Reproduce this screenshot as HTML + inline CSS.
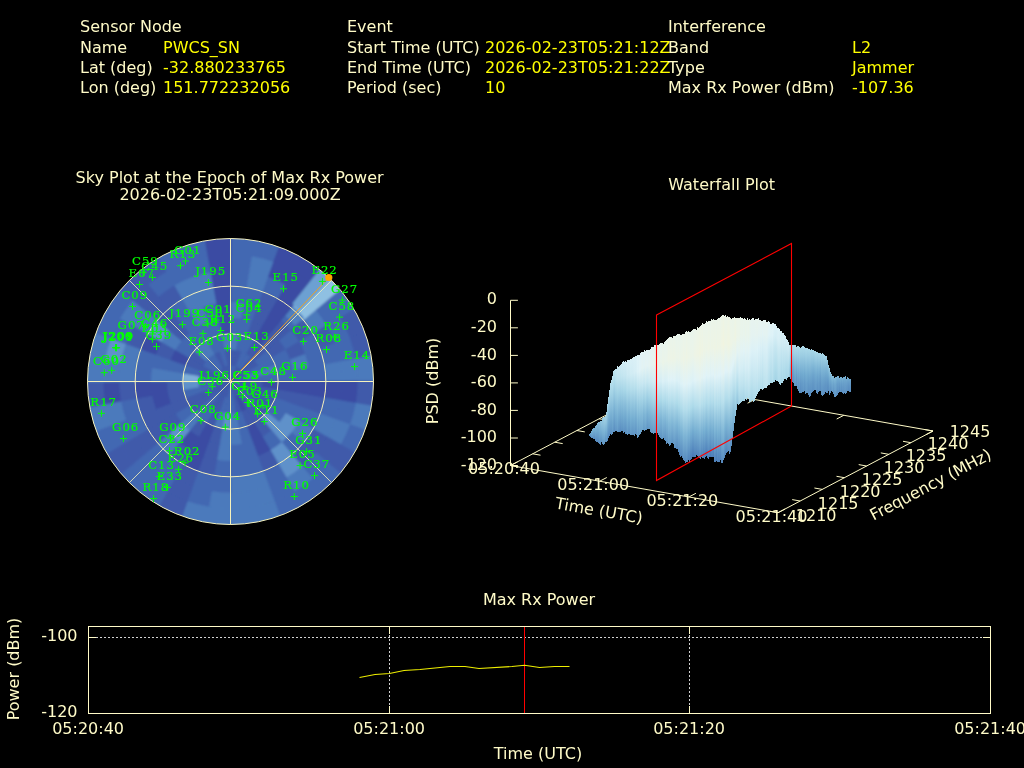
<!DOCTYPE html>
<html lang="en"><head><meta charset="utf-8"><title>Interference Event Report</title>
<style>
html,body{margin:0;padding:0;background:#000;width:1024px;height:768px;overflow:hidden}
svg{display:block;font-family:'DejaVu Sans','Liberation Sans',sans-serif}
</style></head><body>
<svg width="1024" height="768" viewBox="0 0 1024 768">
<rect width="1024" height="768" fill="#000"/>
<text x="80" y="32" fill="#fffbc8" font-size="16" text-anchor="start" >Sensor Node</text>
<text x="80" y="52.6" fill="#fffbc8" font-size="16" text-anchor="start" >Name</text>
<text x="163" y="52.6" fill="#ffff00" font-size="16" text-anchor="start" >PWCS_SN</text>
<text x="80" y="72.8" fill="#fffbc8" font-size="16" text-anchor="start" >Lat (deg)</text>
<text x="163" y="72.8" fill="#ffff00" font-size="16" text-anchor="start" >-32.880233765</text>
<text x="80" y="93" fill="#fffbc8" font-size="16" text-anchor="start" >Lon (deg)</text>
<text x="163" y="93" fill="#ffff00" font-size="16" text-anchor="start" >151.772232056</text>
<text x="347" y="32" fill="#fffbc8" font-size="16" text-anchor="start" >Event</text>
<text x="347" y="52.6" fill="#fffbc8" font-size="16" text-anchor="start" >Start Time (UTC)</text>
<text x="485" y="52.6" fill="#ffff00" font-size="16" text-anchor="start" >2026-02-23T05:21:12Z</text>
<text x="347" y="72.8" fill="#fffbc8" font-size="16" text-anchor="start" >End Time (UTC)</text>
<text x="485" y="72.8" fill="#ffff00" font-size="16" text-anchor="start" >2026-02-23T05:21:22Z</text>
<text x="347" y="93" fill="#fffbc8" font-size="16" text-anchor="start" >Period (sec)</text>
<text x="485" y="93" fill="#ffff00" font-size="16" text-anchor="start" >10</text>
<text x="668" y="32" fill="#fffbc8" font-size="16" text-anchor="start" >Interference</text>
<text x="668" y="52.6" fill="#fffbc8" font-size="16" text-anchor="start" >Band</text>
<text x="852" y="52.6" fill="#ffff00" font-size="16" text-anchor="start" >L2</text>
<text x="668" y="72.8" fill="#fffbc8" font-size="16" text-anchor="start" >Type</text>
<text x="852" y="72.8" fill="#ffff00" font-size="16" text-anchor="start" >Jammer</text>
<text x="668" y="93" fill="#fffbc8" font-size="16" text-anchor="start" >Max Rx Power (dBm)</text>
<text x="852" y="93" fill="#ffff00" font-size="16" text-anchor="start" >-107.36</text>
<defs><clipPath id="skyclip"><circle cx="230.5" cy="381.5" r="143.0"/></clipPath><filter id="b1" x="-5%" y="-5%" width="110%" height="110%"><feGaussianBlur stdDeviation="0.9"/></filter></defs>
<g clip-path="url(#skyclip)"><rect x="85.5" y="236.5" width="290.0" height="290.0" fill="rgb(63,90,170)"/><g filter="url(#b1)">
<path d="M230.5,381.5L230.4,365.0A16.5,16.5 0 0 1 233.4,365.3L230.5,381.5A0.0,0.0 0 0 0 230.5,381.5Z" fill="rgb(67, 104, 178)"/>
<path d="M230.4,365.6L230.3,349.1A32.4,32.4 0 0 1 236.3,349.6L233.3,365.9A15.9,15.9 0 0 0 230.4,365.6Z" fill="rgb(63, 90, 170)"/>
<path d="M230.3,349.7L230.2,333.2A48.3,48.3 0 0 1 239.1,334.0L236.2,350.2A31.8,31.8 0 0 0 230.3,349.7Z" fill="rgb(75, 122, 188)"/>
<path d="M230.3,333.8L230.2,317.3A64.2,64.2 0 0 1 242.0,318.4L239.0,334.6A47.7,47.7 0 0 0 230.3,333.8Z" fill="rgb(67, 104, 178)"/>
<path d="M230.2,317.9L230.1,301.5A80.0,80.0 0 0 1 244.8,302.7L241.9,319.0A63.6,63.6 0 0 0 230.2,317.9Z" fill="rgb(75, 122, 188)"/>
<path d="M230.1,302.1L230.0,285.6A95.9,95.9 0 0 1 247.7,287.1L244.7,303.3A79.4,79.4 0 0 0 230.1,302.1Z" fill="rgb(67, 104, 178)"/>
<path d="M230.0,286.2L229.9,269.7A111.8,111.8 0 0 1 250.5,271.5L247.5,287.7A95.3,95.3 0 0 0 230.0,286.2Z" fill="rgb(67, 104, 178)"/>
<path d="M229.9,270.3L229.8,253.8A127.7,127.7 0 0 1 253.3,255.8L250.4,272.1A111.2,111.2 0 0 0 229.9,270.3Z" fill="rgb(67, 104, 178)"/>
<path d="M229.8,254.4L229.7,234.5A147.0,147.0 0 0 1 256.8,236.9L253.2,256.4A127.1,127.1 0 0 0 229.8,254.4Z" fill="rgb(67, 104, 178)"/>
<path d="M230.5,381.5L233.3,365.2A16.5,16.5 0 0 1 236.2,366.0L230.5,381.5A0.0,0.0 0 0 0 230.5,381.5Z" fill="rgb(67, 104, 178)"/>
<path d="M233.2,365.8L236.0,349.6A32.4,32.4 0 0 1 241.7,351.1L236.0,366.6A15.9,15.9 0 0 0 233.2,365.8Z" fill="rgb(63, 90, 170)"/>
<path d="M235.9,350.2L238.6,333.9A48.3,48.3 0 0 1 247.2,336.2L241.5,351.7A31.8,31.8 0 0 0 235.9,350.2Z" fill="rgb(67, 104, 178)"/>
<path d="M238.5,334.5L241.3,318.3A64.2,64.2 0 0 1 252.8,321.3L247.0,336.8A47.7,47.7 0 0 0 238.5,334.5Z" fill="rgb(67, 104, 178)"/>
<path d="M241.2,318.9L244.0,302.6A80.0,80.0 0 0 1 258.3,306.4L252.5,321.9A63.6,63.6 0 0 0 241.2,318.9Z" fill="rgb(67, 104, 178)"/>
<path d="M243.9,303.2L246.7,286.9A95.9,95.9 0 0 1 263.8,291.5L258.1,307.0A79.4,79.4 0 0 0 243.9,303.2Z" fill="rgb(67, 104, 178)"/>
<path d="M246.6,287.5L249.3,271.3A111.8,111.8 0 0 1 269.3,276.6L263.6,292.1A95.3,95.3 0 0 0 246.6,287.5Z" fill="rgb(75, 122, 188)"/>
<path d="M249.2,271.9L252.0,255.6A127.7,127.7 0 0 1 274.8,261.7L269.1,277.2A111.2,111.2 0 0 0 249.2,271.9Z" fill="rgb(75, 122, 188)"/>
<path d="M251.9,256.2L255.3,236.6A147.0,147.0 0 0 1 281.5,243.6L274.6,262.3A127.1,127.1 0 0 0 251.9,256.2Z" fill="rgb(67, 104, 178)"/>
<path d="M230.5,381.5L236.1,366.0A16.5,16.5 0 0 1 238.8,367.3L230.5,381.5A0.0,0.0 0 0 0 230.5,381.5Z" fill="rgb(63, 90, 170)"/>
<path d="M235.9,366.5L241.4,351.0A32.4,32.4 0 0 1 246.8,353.5L238.5,367.8A15.9,15.9 0 0 0 235.9,366.5Z" fill="rgb(67, 104, 178)"/>
<path d="M241.2,351.6L246.8,336.1A48.3,48.3 0 0 1 254.9,339.8L246.5,354.1A31.8,31.8 0 0 0 241.2,351.6Z" fill="rgb(67, 104, 178)"/>
<path d="M246.6,336.6L252.1,321.1A64.2,64.2 0 0 1 262.9,326.1L254.5,340.3A47.7,47.7 0 0 0 246.6,336.6Z" fill="rgb(63, 90, 170)"/>
<path d="M251.9,321.7L257.5,306.1A80.0,80.0 0 0 1 270.9,312.4L262.6,326.6A63.6,63.6 0 0 0 251.9,321.7Z" fill="rgb(63, 90, 170)"/>
<path d="M257.3,306.7L262.8,291.2A95.9,95.9 0 0 1 278.9,298.7L270.6,312.9A79.4,79.4 0 0 0 257.3,306.7Z" fill="rgb(63, 90, 170)"/>
<path d="M262.6,291.7L268.2,276.2A111.8,111.8 0 0 1 286.9,285.0L278.6,299.2A95.3,95.3 0 0 0 262.6,291.7Z" fill="rgb(67, 104, 178)"/>
<path d="M268.0,276.8L273.6,261.3A127.7,127.7 0 0 1 294.9,271.2L286.6,285.5A111.2,111.2 0 0 0 268.0,276.8Z" fill="rgb(59, 76, 163)"/>
<path d="M273.3,261.8L280.1,243.1A147.0,147.0 0 0 1 304.7,254.6L294.6,271.8A127.1,127.1 0 0 0 273.3,261.8Z" fill="rgb(59, 76, 163)"/>
<path d="M230.5,381.5L238.7,367.2A16.5,16.5 0 0 1 241.2,368.9L230.5,381.5A0.0,0.0 0 0 0 230.5,381.5Z" fill="rgb(63, 90, 170)"/>
<path d="M238.4,367.7L246.5,353.4A32.4,32.4 0 0 1 251.4,356.8L240.8,369.4A15.9,15.9 0 0 0 238.4,367.7Z" fill="rgb(67, 104, 178)"/>
<path d="M246.2,353.9L254.4,339.6A48.3,48.3 0 0 1 261.7,344.7L251.1,357.3A31.8,31.8 0 0 0 246.2,353.9Z" fill="rgb(63, 90, 170)"/>
<path d="M254.1,340.1L262.3,325.8A64.2,64.2 0 0 1 272.0,332.6L261.3,345.1A47.7,47.7 0 0 0 254.1,340.1Z" fill="rgb(59, 76, 163)"/>
<path d="M262.0,326.3L270.2,312.0A80.0,80.0 0 0 1 282.3,320.5L271.6,333.0A63.6,63.6 0 0 0 262.0,326.3Z" fill="rgb(59, 76, 163)"/>
<path d="M269.9,312.5L278.0,298.2A95.9,95.9 0 0 1 292.5,308.3L281.9,320.9A79.4,79.4 0 0 0 269.9,312.5Z" fill="rgb(59, 76, 163)"/>
<path d="M277.7,298.7L285.9,284.4A111.8,111.8 0 0 1 302.8,296.2L292.2,308.8A95.3,95.3 0 0 0 277.7,298.7Z" fill="rgb(59, 76, 163)"/>
<path d="M285.6,284.9L293.8,270.6A127.7,127.7 0 0 1 313.1,284.1L302.4,296.7A111.2,111.2 0 0 0 285.6,284.9Z" fill="rgb(59, 76, 163)"/>
<path d="M293.5,271.1L303.3,253.8A147.0,147.0 0 0 1 325.6,269.4L312.7,284.6A127.1,127.1 0 0 0 293.5,271.1Z" fill="rgb(59, 76, 163)"/>
<path d="M230.5,381.5L241.0,368.8A16.5,16.5 0 0 1 243.2,371.0L230.5,381.5A0.0,0.0 0 0 0 230.5,381.5Z" fill="rgb(63, 90, 170)"/>
<path d="M240.6,369.3L251.2,356.6A32.4,32.4 0 0 1 255.4,360.8L242.7,371.4A15.9,15.9 0 0 0 240.6,369.3Z" fill="rgb(63, 90, 170)"/>
<path d="M250.8,357.1L261.3,344.4A48.3,48.3 0 0 1 267.6,350.7L254.9,361.2A31.8,31.8 0 0 0 250.8,357.1Z" fill="rgb(63, 90, 170)"/>
<path d="M260.9,344.8L271.5,332.1A64.2,64.2 0 0 1 279.9,340.5L267.2,351.1A47.7,47.7 0 0 0 260.9,344.8Z" fill="rgb(63, 90, 170)"/>
<path d="M271.1,332.6L281.6,319.9A80.0,80.0 0 0 1 292.1,330.4L279.4,340.9A63.6,63.6 0 0 0 271.1,332.6Z" fill="rgb(63, 90, 170)"/>
<path d="M281.2,320.4L291.8,307.7A95.9,95.9 0 0 1 304.3,320.2L291.6,330.8A79.4,79.4 0 0 0 281.2,320.4Z" fill="rgb(67, 104, 178)"/>
<path d="M291.4,308.2L301.9,295.5A111.8,111.8 0 0 1 316.5,310.1L303.8,320.6A95.3,95.3 0 0 0 291.4,308.2Z" fill="rgb(125, 175, 216)"/>
<path d="M301.5,295.9L312.1,283.2A127.7,127.7 0 0 1 328.8,299.9L316.1,310.5A111.2,111.2 0 0 0 301.5,295.9Z" fill="rgb(125, 175, 216)"/>
<path d="M311.7,283.7L324.4,268.4A147.0,147.0 0 0 1 343.6,287.6L328.3,300.3A127.1,127.1 0 0 0 311.7,283.7Z" fill="rgb(125, 175, 216)"/>
<path d="M230.5,381.5L243.1,370.8A16.5,16.5 0 0 1 244.8,373.3L230.5,381.5A0.0,0.0 0 0 0 230.5,381.5Z" fill="rgb(63, 90, 170)"/>
<path d="M242.6,371.2L255.2,360.6A32.4,32.4 0 0 1 258.6,365.5L244.3,373.6A15.9,15.9 0 0 0 242.6,371.2Z" fill="rgb(63, 90, 170)"/>
<path d="M254.7,360.9L267.3,350.3A48.3,48.3 0 0 1 272.4,357.6L258.1,365.8A31.8,31.8 0 0 0 254.7,360.9Z" fill="rgb(67, 104, 178)"/>
<path d="M266.9,350.7L279.4,340.0A64.2,64.2 0 0 1 286.2,349.7L271.9,357.9A47.7,47.7 0 0 0 266.9,350.7Z" fill="rgb(63, 90, 170)"/>
<path d="M279.0,340.4L291.5,329.7A80.0,80.0 0 0 1 300.0,341.8L285.7,350.0A63.6,63.6 0 0 0 279.0,340.4Z" fill="rgb(67, 104, 178)"/>
<path d="M291.1,330.1L303.7,319.5A95.9,95.9 0 0 1 313.8,334.0L299.5,342.1A79.4,79.4 0 0 0 291.1,330.1Z" fill="rgb(63, 90, 170)"/>
<path d="M303.2,319.8L315.8,309.2A111.8,111.8 0 0 1 327.6,326.1L313.3,334.3A95.3,95.3 0 0 0 303.2,319.8Z" fill="rgb(75, 122, 188)"/>
<path d="M315.3,309.6L327.9,298.9A127.7,127.7 0 0 1 341.4,318.2L327.1,326.4A111.2,111.2 0 0 0 315.3,309.6Z" fill="rgb(67, 104, 178)"/>
<path d="M327.4,299.3L342.6,286.4A147.0,147.0 0 0 1 358.2,308.7L340.9,318.5A127.1,127.1 0 0 0 327.4,299.3Z" fill="rgb(67, 104, 178)"/>
<path d="M230.5,381.5L244.7,373.2A16.5,16.5 0 0 1 246.0,375.9L230.5,381.5A0.0,0.0 0 0 0 230.5,381.5Z" fill="rgb(63, 90, 170)"/>
<path d="M244.2,373.5L258.5,365.2A32.4,32.4 0 0 1 261.0,370.6L245.5,376.1A15.9,15.9 0 0 0 244.2,373.5Z" fill="rgb(67, 104, 178)"/>
<path d="M257.9,365.5L272.2,357.1A48.3,48.3 0 0 1 275.9,365.2L260.4,370.8A31.8,31.8 0 0 0 257.9,365.5Z" fill="rgb(67, 104, 178)"/>
<path d="M271.7,357.5L285.9,349.1A64.2,64.2 0 0 1 290.9,359.9L275.4,365.4A47.7,47.7 0 0 0 271.7,357.5Z" fill="rgb(67, 104, 178)"/>
<path d="M285.4,349.4L299.6,341.1A80.0,80.0 0 0 1 305.9,354.5L290.3,360.1A63.6,63.6 0 0 0 285.4,349.4Z" fill="rgb(63, 90, 170)"/>
<path d="M299.1,341.4L313.3,333.1A95.9,95.9 0 0 1 320.8,349.2L305.3,354.7A79.4,79.4 0 0 0 299.1,341.4Z" fill="rgb(67, 104, 178)"/>
<path d="M312.8,333.4L327.0,325.1A111.8,111.8 0 0 1 335.8,343.8L320.3,349.4A95.3,95.3 0 0 0 312.8,333.4Z" fill="rgb(63, 90, 170)"/>
<path d="M326.5,325.4L340.8,317.1A127.7,127.7 0 0 1 350.7,338.4L335.2,344.0A111.2,111.2 0 0 0 326.5,325.4Z" fill="rgb(67, 104, 178)"/>
<path d="M340.2,317.4L357.4,307.3A147.0,147.0 0 0 1 368.9,331.9L350.2,338.7A127.1,127.1 0 0 0 340.2,317.4Z" fill="rgb(63, 90, 170)"/>
<path d="M230.5,381.5L246.0,375.8A16.5,16.5 0 0 1 246.8,378.7L230.5,381.5A0.0,0.0 0 0 0 230.5,381.5Z" fill="rgb(63, 90, 170)"/>
<path d="M245.4,376.0L260.9,370.3A32.4,32.4 0 0 1 262.4,376.0L246.2,378.8A15.9,15.9 0 0 0 245.4,376.0Z" fill="rgb(75, 122, 188)"/>
<path d="M260.3,370.5L275.8,364.8A48.3,48.3 0 0 1 278.1,373.4L261.8,376.1A31.8,31.8 0 0 0 260.3,370.5Z" fill="rgb(75, 122, 188)"/>
<path d="M275.2,365.0L290.7,359.2A64.2,64.2 0 0 1 293.7,370.7L277.5,373.5A47.7,47.7 0 0 0 275.2,365.0Z" fill="rgb(67, 104, 178)"/>
<path d="M290.1,359.5L305.6,353.7A80.0,80.0 0 0 1 309.4,368.0L293.1,370.8A63.6,63.6 0 0 0 290.1,359.5Z" fill="rgb(75, 122, 188)"/>
<path d="M305.0,353.9L320.5,348.2A95.9,95.9 0 0 1 325.1,365.3L308.8,368.1A79.4,79.4 0 0 0 305.0,353.9Z" fill="rgb(67, 104, 178)"/>
<path d="M319.9,348.4L335.4,342.7A111.8,111.8 0 0 1 340.7,362.7L324.5,365.4A95.3,95.3 0 0 0 319.9,348.4Z" fill="rgb(67, 104, 178)"/>
<path d="M334.8,342.9L350.3,337.2A127.7,127.7 0 0 1 356.4,360.0L340.1,362.8A111.2,111.2 0 0 0 334.8,342.9Z" fill="rgb(67, 104, 178)"/>
<path d="M349.7,337.4L368.4,330.5A147.0,147.0 0 0 1 375.4,356.7L355.8,360.1A127.1,127.1 0 0 0 349.7,337.4Z" fill="rgb(63, 90, 170)"/>
<path d="M230.5,381.5L246.7,378.6A16.5,16.5 0 0 1 247.0,381.6L230.5,381.5A0.0,0.0 0 0 0 230.5,381.5Z" fill="rgb(63, 90, 170)"/>
<path d="M246.1,378.7L262.4,375.7A32.4,32.4 0 0 1 262.9,381.7L246.4,381.6A15.9,15.9 0 0 0 246.1,378.7Z" fill="rgb(67, 104, 178)"/>
<path d="M261.8,375.8L278.0,372.9A48.3,48.3 0 0 1 278.8,381.8L262.3,381.7A31.8,31.8 0 0 0 261.8,375.8Z" fill="rgb(67, 104, 178)"/>
<path d="M277.4,373.0L293.6,370.0A64.2,64.2 0 0 1 294.7,381.8L278.2,381.7A47.7,47.7 0 0 0 277.4,373.0Z" fill="rgb(67, 104, 178)"/>
<path d="M293.0,370.1L309.3,367.2A80.0,80.0 0 0 1 310.5,381.9L294.1,381.8A63.6,63.6 0 0 0 293.0,370.1Z" fill="rgb(67, 104, 178)"/>
<path d="M308.7,367.3L324.9,364.3A95.9,95.9 0 0 1 326.4,382.0L309.9,381.9A79.4,79.4 0 0 0 308.7,367.3Z" fill="rgb(67, 104, 178)"/>
<path d="M324.3,364.5L340.5,361.5A111.8,111.8 0 0 1 342.3,382.1L325.8,382.0A95.3,95.3 0 0 0 324.3,364.5Z" fill="rgb(75, 122, 188)"/>
<path d="M339.9,361.6L356.2,358.7A127.7,127.7 0 0 1 358.2,382.2L341.7,382.1A111.2,111.2 0 0 0 339.9,361.6Z" fill="rgb(75, 122, 188)"/>
<path d="M355.6,358.8L375.1,355.2A147.0,147.0 0 0 1 377.5,382.3L357.6,382.2A127.1,127.1 0 0 0 355.6,358.8Z" fill="rgb(75, 122, 188)"/>
<path d="M230.5,381.5L247.0,381.4A16.5,16.5 0 0 1 246.7,384.4L230.5,381.5A0.0,0.0 0 0 0 230.5,381.5Z" fill="rgb(63, 90, 170)"/>
<path d="M246.4,381.4L262.9,381.3A32.4,32.4 0 0 1 262.4,387.3L246.1,384.3A15.9,15.9 0 0 0 246.4,381.4Z" fill="rgb(63, 90, 170)"/>
<path d="M262.3,381.3L278.8,381.2A48.3,48.3 0 0 1 278.0,390.1L261.8,387.2A31.8,31.8 0 0 0 262.3,381.3Z" fill="rgb(59, 76, 163)"/>
<path d="M278.2,381.3L294.7,381.2A64.2,64.2 0 0 1 293.6,393.0L277.4,390.0A47.7,47.7 0 0 0 278.2,381.3Z" fill="rgb(59, 76, 163)"/>
<path d="M294.1,381.2L310.5,381.1A80.0,80.0 0 0 1 309.3,395.8L293.0,392.9A63.6,63.6 0 0 0 294.1,381.2Z" fill="rgb(59, 76, 163)"/>
<path d="M309.9,381.1L326.4,381.0A95.9,95.9 0 0 1 324.9,398.7L308.7,395.7A79.4,79.4 0 0 0 309.9,381.1Z" fill="rgb(59, 76, 163)"/>
<path d="M325.8,381.0L342.3,380.9A111.8,111.8 0 0 1 340.5,401.5L324.3,398.5A95.3,95.3 0 0 0 325.8,381.0Z" fill="rgb(59, 76, 163)"/>
<path d="M341.7,380.9L358.2,380.8A127.7,127.7 0 0 1 356.2,404.3L339.9,401.4A111.2,111.2 0 0 0 341.7,380.9Z" fill="rgb(59, 76, 163)"/>
<path d="M357.6,380.8L377.5,380.7A147.0,147.0 0 0 1 375.1,407.8L355.6,404.2A127.1,127.1 0 0 0 357.6,380.8Z" fill="rgb(63, 90, 170)"/>
<path d="M230.5,381.5L246.8,384.3A16.5,16.5 0 0 1 246.0,387.2L230.5,381.5A0.0,0.0 0 0 0 230.5,381.5Z" fill="rgb(63, 90, 170)"/>
<path d="M246.2,384.2L262.4,387.0A32.4,32.4 0 0 1 260.9,392.7L245.4,387.0A15.9,15.9 0 0 0 246.2,384.2Z" fill="rgb(63, 90, 170)"/>
<path d="M261.8,386.9L278.1,389.6A48.3,48.3 0 0 1 275.8,398.2L260.3,392.5A31.8,31.8 0 0 0 261.8,386.9Z" fill="rgb(63, 90, 170)"/>
<path d="M277.5,389.5L293.7,392.3A64.2,64.2 0 0 1 290.7,403.8L275.2,398.0A47.7,47.7 0 0 0 277.5,389.5Z" fill="rgb(63, 90, 170)"/>
<path d="M293.1,392.2L309.4,395.0A80.0,80.0 0 0 1 305.6,409.3L290.1,403.5A63.6,63.6 0 0 0 293.1,392.2Z" fill="rgb(63, 90, 170)"/>
<path d="M308.8,394.9L325.1,397.7A95.9,95.9 0 0 1 320.5,414.8L305.0,409.1A79.4,79.4 0 0 0 308.8,394.9Z" fill="rgb(63, 90, 170)"/>
<path d="M324.5,397.6L340.7,400.3A111.8,111.8 0 0 1 335.4,420.3L319.9,414.6A95.3,95.3 0 0 0 324.5,397.6Z" fill="rgb(67, 104, 178)"/>
<path d="M340.1,400.2L356.4,403.0A127.7,127.7 0 0 1 350.3,425.8L334.8,420.1A111.2,111.2 0 0 0 340.1,400.2Z" fill="rgb(67, 104, 178)"/>
<path d="M355.8,402.9L375.4,406.3A147.0,147.0 0 0 1 368.4,432.5L349.7,425.6A127.1,127.1 0 0 0 355.8,402.9Z" fill="rgb(75, 122, 188)"/>
<path d="M230.5,381.5L246.0,387.1A16.5,16.5 0 0 1 244.7,389.8L230.5,381.5A0.0,0.0 0 0 0 230.5,381.5Z" fill="rgb(67, 104, 178)"/>
<path d="M245.5,386.9L261.0,392.4A32.4,32.4 0 0 1 258.5,397.8L244.2,389.5A15.9,15.9 0 0 0 245.5,386.9Z" fill="rgb(63, 90, 170)"/>
<path d="M260.4,392.2L275.9,397.8A48.3,48.3 0 0 1 272.2,405.9L257.9,397.5A31.8,31.8 0 0 0 260.4,392.2Z" fill="rgb(63, 90, 170)"/>
<path d="M275.4,397.6L290.9,403.1A64.2,64.2 0 0 1 285.9,413.9L271.7,405.5A47.7,47.7 0 0 0 275.4,397.6Z" fill="rgb(67, 104, 178)"/>
<path d="M290.3,402.9L305.9,408.5A80.0,80.0 0 0 1 299.6,421.9L285.4,413.6A63.6,63.6 0 0 0 290.3,402.9Z" fill="rgb(67, 104, 178)"/>
<path d="M305.3,408.3L320.8,413.8A95.9,95.9 0 0 1 313.3,429.9L299.1,421.6A79.4,79.4 0 0 0 305.3,408.3Z" fill="rgb(67, 104, 178)"/>
<path d="M320.3,413.6L335.8,419.2A111.8,111.8 0 0 1 327.0,437.9L312.8,429.6A95.3,95.3 0 0 0 320.3,413.6Z" fill="rgb(75, 122, 188)"/>
<path d="M335.2,419.0L350.7,424.6A127.7,127.7 0 0 1 340.8,445.9L326.5,437.6A111.2,111.2 0 0 0 335.2,419.0Z" fill="rgb(75, 122, 188)"/>
<path d="M350.2,424.3L368.9,431.1A147.0,147.0 0 0 1 357.4,455.7L340.2,445.6A127.1,127.1 0 0 0 350.2,424.3Z" fill="rgb(67, 104, 178)"/>
<path d="M230.5,381.5L244.8,389.7A16.5,16.5 0 0 1 243.1,392.2L230.5,381.5A0.0,0.0 0 0 0 230.5,381.5Z" fill="rgb(63, 90, 170)"/>
<path d="M244.3,389.4L258.6,397.5A32.4,32.4 0 0 1 255.2,402.4L242.6,391.8A15.9,15.9 0 0 0 244.3,389.4Z" fill="rgb(63, 90, 170)"/>
<path d="M258.1,397.2L272.4,405.4A48.3,48.3 0 0 1 267.3,412.7L254.7,402.1A31.8,31.8 0 0 0 258.1,397.2Z" fill="rgb(63, 90, 170)"/>
<path d="M271.9,405.1L286.2,413.3A64.2,64.2 0 0 1 279.4,423.0L266.9,412.3A47.7,47.7 0 0 0 271.9,405.1Z" fill="rgb(67, 104, 178)"/>
<path d="M285.7,413.0L300.0,421.2A80.0,80.0 0 0 1 291.5,433.3L279.0,422.6A63.6,63.6 0 0 0 285.7,413.0Z" fill="rgb(95, 145, 202)"/>
<path d="M299.5,420.9L313.8,429.0A95.9,95.9 0 0 1 303.7,443.5L291.1,432.9A79.4,79.4 0 0 0 299.5,420.9Z" fill="rgb(75, 122, 188)"/>
<path d="M313.3,428.7L327.6,436.9A111.8,111.8 0 0 1 315.8,453.8L303.2,443.2A95.3,95.3 0 0 0 313.3,428.7Z" fill="rgb(63, 90, 170)"/>
<path d="M327.1,436.6L341.4,444.8A127.7,127.7 0 0 1 327.9,464.1L315.3,453.4A111.2,111.2 0 0 0 327.1,436.6Z" fill="rgb(63, 90, 170)"/>
<path d="M340.9,444.5L358.2,454.3A147.0,147.0 0 0 1 342.6,476.6L327.4,463.7A127.1,127.1 0 0 0 340.9,444.5Z" fill="rgb(63, 90, 170)"/>
<path d="M230.5,381.5L243.2,392.0A16.5,16.5 0 0 1 241.0,394.2L230.5,381.5A0.0,0.0 0 0 0 230.5,381.5Z" fill="rgb(63, 90, 170)"/>
<path d="M242.7,391.6L255.4,402.2A32.4,32.4 0 0 1 251.2,406.4L240.6,393.7A15.9,15.9 0 0 0 242.7,391.6Z" fill="rgb(67, 104, 178)"/>
<path d="M254.9,401.8L267.6,412.3A48.3,48.3 0 0 1 261.3,418.6L250.8,405.9A31.8,31.8 0 0 0 254.9,401.8Z" fill="rgb(63, 90, 170)"/>
<path d="M267.2,411.9L279.9,422.5A64.2,64.2 0 0 1 271.5,430.9L260.9,418.2A47.7,47.7 0 0 0 267.2,411.9Z" fill="rgb(95, 145, 202)"/>
<path d="M279.4,422.1L292.1,432.6A80.0,80.0 0 0 1 281.6,443.1L271.1,430.4A63.6,63.6 0 0 0 279.4,422.1Z" fill="rgb(95, 145, 202)"/>
<path d="M291.6,432.2L304.3,442.8A95.9,95.9 0 0 1 291.8,455.3L281.2,442.6A79.4,79.4 0 0 0 291.6,432.2Z" fill="rgb(67, 104, 178)"/>
<path d="M303.8,442.4L316.5,452.9A111.8,111.8 0 0 1 301.9,467.5L291.4,454.8A95.3,95.3 0 0 0 303.8,442.4Z" fill="rgb(63, 90, 170)"/>
<path d="M316.1,452.5L328.8,463.1A127.7,127.7 0 0 1 312.1,479.8L301.5,467.1A111.2,111.2 0 0 0 316.1,452.5Z" fill="rgb(67, 104, 178)"/>
<path d="M328.3,462.7L343.6,475.4A147.0,147.0 0 0 1 324.4,494.6L311.7,479.3A127.1,127.1 0 0 0 328.3,462.7Z" fill="rgb(67, 104, 178)"/>
<path d="M230.5,381.5L241.2,394.1A16.5,16.5 0 0 1 238.7,395.8L230.5,381.5A0.0,0.0 0 0 0 230.5,381.5Z" fill="rgb(63, 90, 170)"/>
<path d="M240.8,393.6L251.4,406.2A32.4,32.4 0 0 1 246.5,409.6L238.4,395.3A15.9,15.9 0 0 0 240.8,393.6Z" fill="rgb(63, 90, 170)"/>
<path d="M251.1,405.7L261.7,418.3A48.3,48.3 0 0 1 254.4,423.4L246.2,409.1A31.8,31.8 0 0 0 251.1,405.7Z" fill="rgb(63, 90, 170)"/>
<path d="M261.3,417.9L272.0,430.4A64.2,64.2 0 0 1 262.3,437.2L254.1,422.9A47.7,47.7 0 0 0 261.3,417.9Z" fill="rgb(63, 90, 170)"/>
<path d="M271.6,430.0L282.3,442.5A80.0,80.0 0 0 1 270.2,451.0L262.0,436.7A63.6,63.6 0 0 0 271.6,430.0Z" fill="rgb(67, 104, 178)"/>
<path d="M281.9,442.1L292.5,454.7A95.9,95.9 0 0 1 278.0,464.8L269.9,450.5A79.4,79.4 0 0 0 281.9,442.1Z" fill="rgb(95, 145, 202)"/>
<path d="M292.2,454.2L302.8,466.8A111.8,111.8 0 0 1 285.9,478.6L277.7,464.3A95.3,95.3 0 0 0 292.2,454.2Z" fill="rgb(95, 145, 202)"/>
<path d="M302.4,466.3L313.1,478.9A127.7,127.7 0 0 1 293.8,492.4L285.6,478.1A111.2,111.2 0 0 0 302.4,466.3Z" fill="rgb(75, 122, 188)"/>
<path d="M312.7,478.4L325.6,493.6A147.0,147.0 0 0 1 303.3,509.2L293.5,491.9A127.1,127.1 0 0 0 312.7,478.4Z" fill="rgb(67, 104, 178)"/>
<path d="M230.5,381.5L238.8,395.7A16.5,16.5 0 0 1 236.1,397.0L230.5,381.5A0.0,0.0 0 0 0 230.5,381.5Z" fill="rgb(63, 90, 170)"/>
<path d="M238.5,395.2L246.8,409.5A32.4,32.4 0 0 1 241.4,412.0L235.9,396.5A15.9,15.9 0 0 0 238.5,395.2Z" fill="rgb(59, 76, 163)"/>
<path d="M246.5,408.9L254.9,423.2A48.3,48.3 0 0 1 246.8,426.9L241.2,411.4A31.8,31.8 0 0 0 246.5,408.9Z" fill="rgb(63, 90, 170)"/>
<path d="M254.5,422.7L262.9,436.9A64.2,64.2 0 0 1 252.1,441.9L246.6,426.4A47.7,47.7 0 0 0 254.5,422.7Z" fill="rgb(59, 76, 163)"/>
<path d="M262.6,436.4L270.9,450.6A80.0,80.0 0 0 1 257.5,456.9L251.9,441.3A63.6,63.6 0 0 0 262.6,436.4Z" fill="rgb(59, 76, 163)"/>
<path d="M270.6,450.1L278.9,464.3A95.9,95.9 0 0 1 262.8,471.8L257.3,456.3A79.4,79.4 0 0 0 270.6,450.1Z" fill="rgb(63, 90, 170)"/>
<path d="M278.6,463.8L286.9,478.0A111.8,111.8 0 0 1 268.2,486.8L262.6,471.3A95.3,95.3 0 0 0 278.6,463.8Z" fill="rgb(67, 104, 178)"/>
<path d="M286.6,477.5L294.9,491.8A127.7,127.7 0 0 1 273.6,501.7L268.0,486.2A111.2,111.2 0 0 0 286.6,477.5Z" fill="rgb(67, 104, 178)"/>
<path d="M294.6,491.2L304.7,508.4A147.0,147.0 0 0 1 280.1,519.9L273.3,501.2A127.1,127.1 0 0 0 294.6,491.2Z" fill="rgb(67, 104, 178)"/>
<path d="M230.5,381.5L236.2,397.0A16.5,16.5 0 0 1 233.3,397.8L230.5,381.5A0.0,0.0 0 0 0 230.5,381.5Z" fill="rgb(63, 90, 170)"/>
<path d="M236.0,396.4L241.7,411.9A32.4,32.4 0 0 1 236.0,413.4L233.2,397.2A15.9,15.9 0 0 0 236.0,396.4Z" fill="rgb(63, 90, 170)"/>
<path d="M241.5,411.3L247.2,426.8A48.3,48.3 0 0 1 238.6,429.1L235.9,412.8A31.8,31.8 0 0 0 241.5,411.3Z" fill="rgb(67, 104, 178)"/>
<path d="M247.0,426.2L252.8,441.7A64.2,64.2 0 0 1 241.3,444.7L238.5,428.5A47.7,47.7 0 0 0 247.0,426.2Z" fill="rgb(67, 104, 178)"/>
<path d="M252.5,441.1L258.3,456.6A80.0,80.0 0 0 1 244.0,460.4L241.2,444.1A63.6,63.6 0 0 0 252.5,441.1Z" fill="rgb(67, 104, 178)"/>
<path d="M258.1,456.0L263.8,471.5A95.9,95.9 0 0 1 246.7,476.1L243.9,459.8A79.4,79.4 0 0 0 258.1,456.0Z" fill="rgb(67, 104, 178)"/>
<path d="M263.6,470.9L269.3,486.4A111.8,111.8 0 0 1 249.3,491.7L246.6,475.5A95.3,95.3 0 0 0 263.6,470.9Z" fill="rgb(75, 122, 188)"/>
<path d="M269.1,485.8L274.8,501.3A127.7,127.7 0 0 1 252.0,507.4L249.2,491.1A111.2,111.2 0 0 0 269.1,485.8Z" fill="rgb(75, 122, 188)"/>
<path d="M274.6,500.7L281.5,519.4A147.0,147.0 0 0 1 255.3,526.4L251.9,506.8A127.1,127.1 0 0 0 274.6,500.7Z" fill="rgb(75, 122, 188)"/>
<path d="M230.5,381.5L233.4,397.7A16.5,16.5 0 0 1 230.4,398.0L230.5,381.5A0.0,0.0 0 0 0 230.5,381.5Z" fill="rgb(67, 104, 178)"/>
<path d="M233.3,397.1L236.3,413.4A32.4,32.4 0 0 1 230.3,413.9L230.4,397.4A15.9,15.9 0 0 0 233.3,397.1Z" fill="rgb(67, 104, 178)"/>
<path d="M236.2,412.8L239.1,429.0A48.3,48.3 0 0 1 230.2,429.8L230.3,413.3A31.8,31.8 0 0 0 236.2,412.8Z" fill="rgb(75, 122, 188)"/>
<path d="M239.0,428.4L242.0,444.6A64.2,64.2 0 0 1 230.2,445.7L230.3,429.2A47.7,47.7 0 0 0 239.0,428.4Z" fill="rgb(75, 122, 188)"/>
<path d="M241.9,444.0L244.8,460.3A80.0,80.0 0 0 1 230.1,461.5L230.2,445.1A63.6,63.6 0 0 0 241.9,444.0Z" fill="rgb(67, 104, 178)"/>
<path d="M244.7,459.7L247.7,475.9A95.9,95.9 0 0 1 230.0,477.4L230.1,460.9A79.4,79.4 0 0 0 244.7,459.7Z" fill="rgb(67, 104, 178)"/>
<path d="M247.5,475.3L250.5,491.5A111.8,111.8 0 0 1 229.9,493.3L230.0,476.8A95.3,95.3 0 0 0 247.5,475.3Z" fill="rgb(75, 122, 188)"/>
<path d="M250.4,490.9L253.3,507.2A127.7,127.7 0 0 1 229.8,509.2L229.9,492.7A111.2,111.2 0 0 0 250.4,490.9Z" fill="rgb(75, 122, 188)"/>
<path d="M253.2,506.6L256.8,526.1A147.0,147.0 0 0 1 229.7,528.5L229.8,508.6A127.1,127.1 0 0 0 253.2,506.6Z" fill="rgb(75, 122, 188)"/>
<path d="M230.5,381.5L230.6,398.0A16.5,16.5 0 0 1 227.6,397.7L230.5,381.5A0.0,0.0 0 0 0 230.5,381.5Z" fill="rgb(67, 104, 178)"/>
<path d="M230.6,397.4L230.7,413.9A32.4,32.4 0 0 1 224.7,413.4L227.7,397.1A15.9,15.9 0 0 0 230.6,397.4Z" fill="rgb(67, 104, 178)"/>
<path d="M230.7,413.3L230.8,429.8A48.3,48.3 0 0 1 221.9,429.0L224.8,412.8A31.8,31.8 0 0 0 230.7,413.3Z" fill="rgb(95, 145, 202)"/>
<path d="M230.7,429.2L230.8,445.7A64.2,64.2 0 0 1 219.0,444.6L222.0,428.4A47.7,47.7 0 0 0 230.7,429.2Z" fill="rgb(75, 122, 188)"/>
<path d="M230.8,445.1L230.9,461.5A80.0,80.0 0 0 1 216.2,460.3L219.1,444.0A63.6,63.6 0 0 0 230.8,445.1Z" fill="rgb(75, 122, 188)"/>
<path d="M230.9,460.9L231.0,477.4A95.9,95.9 0 0 1 213.3,475.9L216.3,459.7A79.4,79.4 0 0 0 230.9,460.9Z" fill="rgb(67, 104, 178)"/>
<path d="M231.0,476.8L231.1,493.3A111.8,111.8 0 0 1 210.5,491.5L213.5,475.3A95.3,95.3 0 0 0 231.0,476.8Z" fill="rgb(67, 104, 178)"/>
<path d="M231.1,492.7L231.2,509.2A127.7,127.7 0 0 1 207.7,507.2L210.6,490.9A111.2,111.2 0 0 0 231.1,492.7Z" fill="rgb(75, 122, 188)"/>
<path d="M231.2,508.6L231.3,528.5A147.0,147.0 0 0 1 204.2,526.1L207.8,506.6A127.1,127.1 0 0 0 231.2,508.6Z" fill="rgb(75, 122, 188)"/>
<path d="M230.5,381.5L227.7,397.8A16.5,16.5 0 0 1 224.8,397.0L230.5,381.5A0.0,0.0 0 0 0 230.5,381.5Z" fill="rgb(63, 90, 170)"/>
<path d="M227.8,397.2L225.0,413.4A32.4,32.4 0 0 1 219.3,411.9L225.0,396.4A15.9,15.9 0 0 0 227.8,397.2Z" fill="rgb(67, 104, 178)"/>
<path d="M225.1,412.8L222.4,429.1A48.3,48.3 0 0 1 213.8,426.8L219.5,411.3A31.8,31.8 0 0 0 225.1,412.8Z" fill="rgb(75, 122, 188)"/>
<path d="M222.5,428.5L219.7,444.7A64.2,64.2 0 0 1 208.2,441.7L214.0,426.2A47.7,47.7 0 0 0 222.5,428.5Z" fill="rgb(63, 90, 170)"/>
<path d="M219.8,444.1L217.0,460.4A80.0,80.0 0 0 1 202.7,456.6L208.5,441.1A63.6,63.6 0 0 0 219.8,444.1Z" fill="rgb(63, 90, 170)"/>
<path d="M217.1,459.8L214.3,476.1A95.9,95.9 0 0 1 197.2,471.5L202.9,456.0A79.4,79.4 0 0 0 217.1,459.8Z" fill="rgb(63, 90, 170)"/>
<path d="M214.4,475.5L211.7,491.7A111.8,111.8 0 0 1 191.7,486.4L197.4,470.9A95.3,95.3 0 0 0 214.4,475.5Z" fill="rgb(67, 104, 178)"/>
<path d="M211.8,491.1L209.0,507.4A127.7,127.7 0 0 1 186.2,501.3L191.9,485.8A111.2,111.2 0 0 0 211.8,491.1Z" fill="rgb(67, 104, 178)"/>
<path d="M209.1,506.8L205.7,526.4A147.0,147.0 0 0 1 179.5,519.4L186.4,500.7A127.1,127.1 0 0 0 209.1,506.8Z" fill="rgb(75, 122, 188)"/>
<path d="M230.5,381.5L224.9,397.0A16.5,16.5 0 0 1 222.2,395.7L230.5,381.5A0.0,0.0 0 0 0 230.5,381.5Z" fill="rgb(63, 90, 170)"/>
<path d="M225.1,396.5L219.6,412.0A32.4,32.4 0 0 1 214.2,409.5L222.5,395.2A15.9,15.9 0 0 0 225.1,396.5Z" fill="rgb(63, 90, 170)"/>
<path d="M219.8,411.4L214.2,426.9A48.3,48.3 0 0 1 206.1,423.2L214.5,408.9A31.8,31.8 0 0 0 219.8,411.4Z" fill="rgb(63, 90, 170)"/>
<path d="M214.4,426.4L208.9,441.9A64.2,64.2 0 0 1 198.1,436.9L206.5,422.7A47.7,47.7 0 0 0 214.4,426.4Z" fill="rgb(59, 76, 163)"/>
<path d="M209.1,441.3L203.5,456.9A80.0,80.0 0 0 1 190.1,450.6L198.4,436.4A63.6,63.6 0 0 0 209.1,441.3Z" fill="rgb(59, 76, 163)"/>
<path d="M203.7,456.3L198.2,471.8A95.9,95.9 0 0 1 182.1,464.3L190.4,450.1A79.4,79.4 0 0 0 203.7,456.3Z" fill="rgb(59, 76, 163)"/>
<path d="M198.4,471.3L192.8,486.8A111.8,111.8 0 0 1 174.1,478.0L182.4,463.8A95.3,95.3 0 0 0 198.4,471.3Z" fill="rgb(63, 90, 170)"/>
<path d="M193.0,486.2L187.4,501.7A127.7,127.7 0 0 1 166.1,491.8L174.4,477.5A111.2,111.2 0 0 0 193.0,486.2Z" fill="rgb(63, 90, 170)"/>
<path d="M187.7,501.2L180.9,519.9A147.0,147.0 0 0 1 156.3,508.4L166.4,491.2A127.1,127.1 0 0 0 187.7,501.2Z" fill="rgb(63, 90, 170)"/>
<path d="M230.5,381.5L222.3,395.8A16.5,16.5 0 0 1 219.8,394.1L230.5,381.5A0.0,0.0 0 0 0 230.5,381.5Z" fill="rgb(63, 90, 170)"/>
<path d="M222.6,395.3L214.5,409.6A32.4,32.4 0 0 1 209.6,406.2L220.2,393.6A15.9,15.9 0 0 0 222.6,395.3Z" fill="rgb(63, 90, 170)"/>
<path d="M214.8,409.1L206.6,423.4A48.3,48.3 0 0 1 199.3,418.3L209.9,405.7A31.8,31.8 0 0 0 214.8,409.1Z" fill="rgb(67, 104, 178)"/>
<path d="M206.9,422.9L198.7,437.2A64.2,64.2 0 0 1 189.0,430.4L199.7,417.9A47.7,47.7 0 0 0 206.9,422.9Z" fill="rgb(63, 90, 170)"/>
<path d="M199.0,436.7L190.8,451.0A80.0,80.0 0 0 1 178.7,442.5L189.4,430.0A63.6,63.6 0 0 0 199.0,436.7Z" fill="rgb(59, 76, 163)"/>
<path d="M191.1,450.5L183.0,464.8A95.9,95.9 0 0 1 168.5,454.7L179.1,442.1A79.4,79.4 0 0 0 191.1,450.5Z" fill="rgb(63, 90, 170)"/>
<path d="M183.3,464.3L175.1,478.6A111.8,111.8 0 0 1 158.2,466.8L168.8,454.2A95.3,95.3 0 0 0 183.3,464.3Z" fill="rgb(67, 104, 178)"/>
<path d="M175.4,478.1L167.2,492.4A127.7,127.7 0 0 1 147.9,478.9L158.6,466.3A111.2,111.2 0 0 0 175.4,478.1Z" fill="rgb(67, 104, 178)"/>
<path d="M167.5,491.9L157.7,509.2A147.0,147.0 0 0 1 135.4,493.6L148.3,478.4A127.1,127.1 0 0 0 167.5,491.9Z" fill="rgb(67, 104, 178)"/>
<path d="M230.5,381.5L220.0,394.2A16.5,16.5 0 0 1 217.8,392.0L230.5,381.5A0.0,0.0 0 0 0 230.5,381.5Z" fill="rgb(63, 90, 170)"/>
<path d="M220.4,393.7L209.8,406.4A32.4,32.4 0 0 1 205.6,402.2L218.3,391.6A15.9,15.9 0 0 0 220.4,393.7Z" fill="rgb(67, 104, 178)"/>
<path d="M210.2,405.9L199.7,418.6A48.3,48.3 0 0 1 193.4,412.3L206.1,401.8A31.8,31.8 0 0 0 210.2,405.9Z" fill="rgb(67, 104, 178)"/>
<path d="M200.1,418.2L189.5,430.9A64.2,64.2 0 0 1 181.1,422.5L193.8,411.9A47.7,47.7 0 0 0 200.1,418.2Z" fill="rgb(75, 122, 188)"/>
<path d="M189.9,430.4L179.4,443.1A80.0,80.0 0 0 1 168.9,432.6L181.6,422.1A63.6,63.6 0 0 0 189.9,430.4Z" fill="rgb(95, 145, 202)"/>
<path d="M179.8,442.6L169.2,455.3A95.9,95.9 0 0 1 156.7,442.8L169.4,432.2A79.4,79.4 0 0 0 179.8,442.6Z" fill="rgb(75, 122, 188)"/>
<path d="M169.6,454.8L159.1,467.5A111.8,111.8 0 0 1 144.5,452.9L157.2,442.4A95.3,95.3 0 0 0 169.6,454.8Z" fill="rgb(67, 104, 178)"/>
<path d="M159.5,467.1L148.9,479.8A127.7,127.7 0 0 1 132.2,463.1L144.9,452.5A111.2,111.2 0 0 0 159.5,467.1Z" fill="rgb(67, 104, 178)"/>
<path d="M149.3,479.3L136.6,494.6A147.0,147.0 0 0 1 117.4,475.4L132.7,462.7A127.1,127.1 0 0 0 149.3,479.3Z" fill="rgb(67, 104, 178)"/>
<path d="M230.5,381.5L217.9,392.2A16.5,16.5 0 0 1 216.2,389.7L230.5,381.5A0.0,0.0 0 0 0 230.5,381.5Z" fill="rgb(63, 90, 170)"/>
<path d="M218.4,391.8L205.8,402.4A32.4,32.4 0 0 1 202.4,397.5L216.7,389.4A15.9,15.9 0 0 0 218.4,391.8Z" fill="rgb(63, 90, 170)"/>
<path d="M206.3,402.1L193.7,412.7A48.3,48.3 0 0 1 188.6,405.4L202.9,397.2A31.8,31.8 0 0 0 206.3,402.1Z" fill="rgb(63, 90, 170)"/>
<path d="M194.1,412.3L181.6,423.0A64.2,64.2 0 0 1 174.8,413.3L189.1,405.1A47.7,47.7 0 0 0 194.1,412.3Z" fill="rgb(67, 104, 178)"/>
<path d="M182.0,422.6L169.5,433.3A80.0,80.0 0 0 1 161.0,421.2L175.3,413.0A63.6,63.6 0 0 0 182.0,422.6Z" fill="rgb(63, 90, 170)"/>
<path d="M169.9,432.9L157.3,443.5A95.9,95.9 0 0 1 147.2,429.0L161.5,420.9A79.4,79.4 0 0 0 169.9,432.9Z" fill="rgb(63, 90, 170)"/>
<path d="M157.8,443.2L145.2,453.8A111.8,111.8 0 0 1 133.4,436.9L147.7,428.7A95.3,95.3 0 0 0 157.8,443.2Z" fill="rgb(63, 90, 170)"/>
<path d="M145.7,453.4L133.1,464.1A127.7,127.7 0 0 1 119.6,444.8L133.9,436.6A111.2,111.2 0 0 0 145.7,453.4Z" fill="rgb(63, 90, 170)"/>
<path d="M133.6,463.7L118.4,476.6A147.0,147.0 0 0 1 102.8,454.3L120.1,444.5A127.1,127.1 0 0 0 133.6,463.7Z" fill="rgb(63, 90, 170)"/>
<path d="M230.5,381.5L216.3,389.8A16.5,16.5 0 0 1 215.0,387.1L230.5,381.5A0.0,0.0 0 0 0 230.5,381.5Z" fill="rgb(63, 90, 170)"/>
<path d="M216.8,389.5L202.5,397.8A32.4,32.4 0 0 1 200.0,392.4L215.5,386.9A15.9,15.9 0 0 0 216.8,389.5Z" fill="rgb(63, 90, 170)"/>
<path d="M203.1,397.5L188.8,405.9A48.3,48.3 0 0 1 185.1,397.8L200.6,392.2A31.8,31.8 0 0 0 203.1,397.5Z" fill="rgb(63, 90, 170)"/>
<path d="M189.3,405.5L175.1,413.9A64.2,64.2 0 0 1 170.1,403.1L185.6,397.6A47.7,47.7 0 0 0 189.3,405.5Z" fill="rgb(63, 90, 170)"/>
<path d="M175.6,413.6L161.4,421.9A80.0,80.0 0 0 1 155.1,408.5L170.7,402.9A63.6,63.6 0 0 0 175.6,413.6Z" fill="rgb(63, 90, 170)"/>
<path d="M161.9,421.6L147.7,429.9A95.9,95.9 0 0 1 140.2,413.8L155.7,408.3A79.4,79.4 0 0 0 161.9,421.6Z" fill="rgb(63, 90, 170)"/>
<path d="M148.2,429.6L134.0,437.9A111.8,111.8 0 0 1 125.2,419.2L140.7,413.6A95.3,95.3 0 0 0 148.2,429.6Z" fill="rgb(67, 104, 178)"/>
<path d="M134.5,437.6L120.2,445.9A127.7,127.7 0 0 1 110.3,424.6L125.8,419.0A111.2,111.2 0 0 0 134.5,437.6Z" fill="rgb(67, 104, 178)"/>
<path d="M120.8,445.6L103.6,455.7A147.0,147.0 0 0 1 92.1,431.1L110.8,424.3A127.1,127.1 0 0 0 120.8,445.6Z" fill="rgb(67, 104, 178)"/>
<path d="M230.5,381.5L215.0,387.2A16.5,16.5 0 0 1 214.2,384.3L230.5,381.5A0.0,0.0 0 0 0 230.5,381.5Z" fill="rgb(63, 90, 170)"/>
<path d="M215.6,387.0L200.1,392.7A32.4,32.4 0 0 1 198.6,387.0L214.8,384.2A15.9,15.9 0 0 0 215.6,387.0Z" fill="rgb(67, 104, 178)"/>
<path d="M200.7,392.5L185.2,398.2A48.3,48.3 0 0 1 182.9,389.6L199.2,386.9A31.8,31.8 0 0 0 200.7,392.5Z" fill="rgb(67, 104, 178)"/>
<path d="M185.8,398.0L170.3,403.8A64.2,64.2 0 0 1 167.3,392.3L183.5,389.5A47.7,47.7 0 0 0 185.8,398.0Z" fill="rgb(63, 90, 170)"/>
<path d="M170.9,403.5L155.4,409.3A80.0,80.0 0 0 1 151.6,395.0L167.9,392.2A63.6,63.6 0 0 0 170.9,403.5Z" fill="rgb(59, 76, 163)"/>
<path d="M156.0,409.1L140.5,414.8A95.9,95.9 0 0 1 135.9,397.7L152.2,394.9A79.4,79.4 0 0 0 156.0,409.1Z" fill="rgb(63, 90, 170)"/>
<path d="M141.1,414.6L125.6,420.3A111.8,111.8 0 0 1 120.3,400.3L136.5,397.6A95.3,95.3 0 0 0 141.1,414.6Z" fill="rgb(67, 104, 178)"/>
<path d="M126.2,420.1L110.7,425.8A127.7,127.7 0 0 1 104.6,403.0L120.9,400.2A111.2,111.2 0 0 0 126.2,420.1Z" fill="rgb(75, 122, 188)"/>
<path d="M111.3,425.6L92.6,432.5A147.0,147.0 0 0 1 85.6,406.3L105.2,402.9A127.1,127.1 0 0 0 111.3,425.6Z" fill="rgb(75, 122, 188)"/>
<path d="M230.5,381.5L214.3,384.4A16.5,16.5 0 0 1 214.0,381.4L230.5,381.5A0.0,0.0 0 0 0 230.5,381.5Z" fill="rgb(63, 90, 170)"/>
<path d="M214.9,384.3L198.6,387.3A32.4,32.4 0 0 1 198.1,381.3L214.6,381.4A15.9,15.9 0 0 0 214.9,384.3Z" fill="rgb(67, 104, 178)"/>
<path d="M199.2,387.2L183.0,390.1A48.3,48.3 0 0 1 182.2,381.2L198.7,381.3A31.8,31.8 0 0 0 199.2,387.2Z" fill="rgb(95, 145, 202)"/>
<path d="M183.6,390.0L167.4,393.0A64.2,64.2 0 0 1 166.3,381.2L182.8,381.3A47.7,47.7 0 0 0 183.6,390.0Z" fill="rgb(63, 90, 170)"/>
<path d="M168.0,392.9L151.7,395.8A80.0,80.0 0 0 1 150.5,381.1L166.9,381.2A63.6,63.6 0 0 0 168.0,392.9Z" fill="rgb(59, 76, 163)"/>
<path d="M152.3,395.7L136.1,398.7A95.9,95.9 0 0 1 134.6,381.0L151.1,381.1A79.4,79.4 0 0 0 152.3,395.7Z" fill="rgb(59, 76, 163)"/>
<path d="M136.7,398.5L120.5,401.5A111.8,111.8 0 0 1 118.7,380.9L135.2,381.0A95.3,95.3 0 0 0 136.7,398.5Z" fill="rgb(63, 90, 170)"/>
<path d="M121.1,401.4L104.8,404.3A127.7,127.7 0 0 1 102.8,380.8L119.3,380.9A111.2,111.2 0 0 0 121.1,401.4Z" fill="rgb(59, 76, 163)"/>
<path d="M105.4,404.2L85.9,407.8A147.0,147.0 0 0 1 83.5,380.7L103.4,380.8A127.1,127.1 0 0 0 105.4,404.2Z" fill="rgb(63, 90, 170)"/>
<path d="M230.5,381.5L214.0,381.6A16.5,16.5 0 0 1 214.3,378.6L230.5,381.5A0.0,0.0 0 0 0 230.5,381.5Z" fill="rgb(63, 90, 170)"/>
<path d="M214.6,381.6L198.1,381.7A32.4,32.4 0 0 1 198.6,375.7L214.9,378.7A15.9,15.9 0 0 0 214.6,381.6Z" fill="rgb(67, 104, 178)"/>
<path d="M198.7,381.7L182.2,381.8A48.3,48.3 0 0 1 183.0,372.9L199.2,375.8A31.8,31.8 0 0 0 198.7,381.7Z" fill="rgb(125, 175, 216)"/>
<path d="M182.8,381.7L166.3,381.8A64.2,64.2 0 0 1 167.4,370.0L183.6,373.0A47.7,47.7 0 0 0 182.8,381.7Z" fill="rgb(75, 122, 188)"/>
<path d="M166.9,381.8L150.5,381.9A80.0,80.0 0 0 1 151.7,367.2L168.0,370.1A63.6,63.6 0 0 0 166.9,381.8Z" fill="rgb(75, 122, 188)"/>
<path d="M151.1,381.9L134.6,382.0A95.9,95.9 0 0 1 136.1,364.3L152.3,367.3A79.4,79.4 0 0 0 151.1,381.9Z" fill="rgb(67, 104, 178)"/>
<path d="M135.2,382.0L118.7,382.1A111.8,111.8 0 0 1 120.5,361.5L136.7,364.5A95.3,95.3 0 0 0 135.2,382.0Z" fill="rgb(75, 122, 188)"/>
<path d="M119.3,382.1L102.8,382.2A127.7,127.7 0 0 1 104.8,358.7L121.1,361.6A111.2,111.2 0 0 0 119.3,382.1Z" fill="rgb(75, 122, 188)"/>
<path d="M103.4,382.2L83.5,382.3A147.0,147.0 0 0 1 85.9,355.2L105.4,358.8A127.1,127.1 0 0 0 103.4,382.2Z" fill="rgb(75, 122, 188)"/>
<path d="M230.5,381.5L214.2,378.7A16.5,16.5 0 0 1 215.0,375.8L230.5,381.5A0.0,0.0 0 0 0 230.5,381.5Z" fill="rgb(63, 90, 170)"/>
<path d="M214.8,378.8L198.6,376.0A32.4,32.4 0 0 1 200.1,370.3L215.6,376.0A15.9,15.9 0 0 0 214.8,378.8Z" fill="rgb(63, 90, 170)"/>
<path d="M199.2,376.1L182.9,373.4A48.3,48.3 0 0 1 185.2,364.8L200.7,370.5A31.8,31.8 0 0 0 199.2,376.1Z" fill="rgb(67, 104, 178)"/>
<path d="M183.5,373.5L167.3,370.7A64.2,64.2 0 0 1 170.3,359.2L185.8,365.0A47.7,47.7 0 0 0 183.5,373.5Z" fill="rgb(67, 104, 178)"/>
<path d="M167.9,370.8L151.6,368.0A80.0,80.0 0 0 1 155.4,353.7L170.9,359.5A63.6,63.6 0 0 0 167.9,370.8Z" fill="rgb(67, 104, 178)"/>
<path d="M152.2,368.1L135.9,365.3A95.9,95.9 0 0 1 140.5,348.2L156.0,353.9A79.4,79.4 0 0 0 152.2,368.1Z" fill="rgb(67, 104, 178)"/>
<path d="M136.5,365.4L120.3,362.7A111.8,111.8 0 0 1 125.6,342.7L141.1,348.4A95.3,95.3 0 0 0 136.5,365.4Z" fill="rgb(75, 122, 188)"/>
<path d="M120.9,362.8L104.6,360.0A127.7,127.7 0 0 1 110.7,337.2L126.2,342.9A111.2,111.2 0 0 0 120.9,362.8Z" fill="rgb(95, 145, 202)"/>
<path d="M105.2,360.1L85.6,356.7A147.0,147.0 0 0 1 92.6,330.5L111.3,337.4A127.1,127.1 0 0 0 105.2,360.1Z" fill="rgb(75, 122, 188)"/>
<path d="M230.5,381.5L215.0,375.9A16.5,16.5 0 0 1 216.3,373.2L230.5,381.5A0.0,0.0 0 0 0 230.5,381.5Z" fill="rgb(63, 90, 170)"/>
<path d="M215.5,376.1L200.0,370.6A32.4,32.4 0 0 1 202.5,365.2L216.8,373.5A15.9,15.9 0 0 0 215.5,376.1Z" fill="rgb(63, 90, 170)"/>
<path d="M200.6,370.8L185.1,365.2A48.3,48.3 0 0 1 188.8,357.1L203.1,365.5A31.8,31.8 0 0 0 200.6,370.8Z" fill="rgb(63, 90, 170)"/>
<path d="M185.6,365.4L170.1,359.9A64.2,64.2 0 0 1 175.1,349.1L189.3,357.5A47.7,47.7 0 0 0 185.6,365.4Z" fill="rgb(59, 76, 163)"/>
<path d="M170.7,360.1L155.1,354.5A80.0,80.0 0 0 1 161.4,341.1L175.6,349.4A63.6,63.6 0 0 0 170.7,360.1Z" fill="rgb(63, 90, 170)"/>
<path d="M155.7,354.7L140.2,349.2A95.9,95.9 0 0 1 147.7,333.1L161.9,341.4A79.4,79.4 0 0 0 155.7,354.7Z" fill="rgb(59, 76, 163)"/>
<path d="M140.7,349.4L125.2,343.8A111.8,111.8 0 0 1 134.0,325.1L148.2,333.4A95.3,95.3 0 0 0 140.7,349.4Z" fill="rgb(63, 90, 170)"/>
<path d="M125.8,344.0L110.3,338.4A127.7,127.7 0 0 1 120.2,317.1L134.5,325.4A111.2,111.2 0 0 0 125.8,344.0Z" fill="rgb(67, 104, 178)"/>
<path d="M110.8,338.7L92.1,331.9A147.0,147.0 0 0 1 103.6,307.3L120.8,317.4A127.1,127.1 0 0 0 110.8,338.7Z" fill="rgb(67, 104, 178)"/>
<path d="M230.5,381.5L216.2,373.3A16.5,16.5 0 0 1 217.9,370.8L230.5,381.5A0.0,0.0 0 0 0 230.5,381.5Z" fill="rgb(63, 90, 170)"/>
<path d="M216.7,373.6L202.4,365.5A32.4,32.4 0 0 1 205.8,360.6L218.4,371.2A15.9,15.9 0 0 0 216.7,373.6Z" fill="rgb(67, 104, 178)"/>
<path d="M202.9,365.8L188.6,357.6A48.3,48.3 0 0 1 193.7,350.3L206.3,360.9A31.8,31.8 0 0 0 202.9,365.8Z" fill="rgb(63, 90, 170)"/>
<path d="M189.1,357.9L174.8,349.7A64.2,64.2 0 0 1 181.6,340.0L194.1,350.7A47.7,47.7 0 0 0 189.1,357.9Z" fill="rgb(67, 104, 178)"/>
<path d="M175.3,350.0L161.0,341.8A80.0,80.0 0 0 1 169.5,329.7L182.0,340.4A63.6,63.6 0 0 0 175.3,350.0Z" fill="rgb(75, 122, 188)"/>
<path d="M161.5,342.1L147.2,334.0A95.9,95.9 0 0 1 157.3,319.5L169.9,330.1A79.4,79.4 0 0 0 161.5,342.1Z" fill="rgb(95, 145, 202)"/>
<path d="M147.7,334.3L133.4,326.1A111.8,111.8 0 0 1 145.2,309.2L157.8,319.8A95.3,95.3 0 0 0 147.7,334.3Z" fill="rgb(75, 122, 188)"/>
<path d="M133.9,326.4L119.6,318.2A127.7,127.7 0 0 1 133.1,298.9L145.7,309.6A111.2,111.2 0 0 0 133.9,326.4Z" fill="rgb(75, 122, 188)"/>
<path d="M120.1,318.5L102.8,308.7A147.0,147.0 0 0 1 118.4,286.4L133.6,299.3A127.1,127.1 0 0 0 120.1,318.5Z" fill="rgb(67, 104, 178)"/>
<path d="M230.5,381.5L217.8,371.0A16.5,16.5 0 0 1 220.0,368.8L230.5,381.5A0.0,0.0 0 0 0 230.5,381.5Z" fill="rgb(67, 104, 178)"/>
<path d="M218.3,371.4L205.6,360.8A32.4,32.4 0 0 1 209.8,356.6L220.4,369.3A15.9,15.9 0 0 0 218.3,371.4Z" fill="rgb(67, 104, 178)"/>
<path d="M206.1,361.2L193.4,350.7A48.3,48.3 0 0 1 199.7,344.4L210.2,357.1A31.8,31.8 0 0 0 206.1,361.2Z" fill="rgb(75, 122, 188)"/>
<path d="M193.8,351.1L181.1,340.5A64.2,64.2 0 0 1 189.5,332.1L200.1,344.8A47.7,47.7 0 0 0 193.8,351.1Z" fill="rgb(67, 104, 178)"/>
<path d="M181.6,340.9L168.9,330.4A80.0,80.0 0 0 1 179.4,319.9L189.9,332.6A63.6,63.6 0 0 0 181.6,340.9Z" fill="rgb(63, 90, 170)"/>
<path d="M169.4,330.8L156.7,320.2A95.9,95.9 0 0 1 169.2,307.7L179.8,320.4A79.4,79.4 0 0 0 169.4,330.8Z" fill="rgb(63, 90, 170)"/>
<path d="M157.2,320.6L144.5,310.1A111.8,111.8 0 0 1 159.1,295.5L169.6,308.2A95.3,95.3 0 0 0 157.2,320.6Z" fill="rgb(63, 90, 170)"/>
<path d="M144.9,310.5L132.2,299.9A127.7,127.7 0 0 1 148.9,283.2L159.5,295.9A111.2,111.2 0 0 0 144.9,310.5Z" fill="rgb(63, 90, 170)"/>
<path d="M132.7,300.3L117.4,287.6A147.0,147.0 0 0 1 136.6,268.4L149.3,283.7A127.1,127.1 0 0 0 132.7,300.3Z" fill="rgb(63, 90, 170)"/>
<path d="M230.5,381.5L219.8,368.9A16.5,16.5 0 0 1 222.3,367.2L230.5,381.5A0.0,0.0 0 0 0 230.5,381.5Z" fill="rgb(63, 90, 170)"/>
<path d="M220.2,369.4L209.6,356.8A32.4,32.4 0 0 1 214.5,353.4L222.6,367.7A15.9,15.9 0 0 0 220.2,369.4Z" fill="rgb(67, 104, 178)"/>
<path d="M209.9,357.3L199.3,344.7A48.3,48.3 0 0 1 206.6,339.6L214.8,353.9A31.8,31.8 0 0 0 209.9,357.3Z" fill="rgb(75, 122, 188)"/>
<path d="M199.7,345.1L189.0,332.6A64.2,64.2 0 0 1 198.7,325.8L206.9,340.1A47.7,47.7 0 0 0 199.7,345.1Z" fill="rgb(67, 104, 178)"/>
<path d="M189.4,333.0L178.7,320.5A80.0,80.0 0 0 1 190.8,312.0L199.0,326.3A63.6,63.6 0 0 0 189.4,333.0Z" fill="rgb(67, 104, 178)"/>
<path d="M179.1,320.9L168.5,308.3A95.9,95.9 0 0 1 183.0,298.2L191.1,312.5A79.4,79.4 0 0 0 179.1,320.9Z" fill="rgb(67, 104, 178)"/>
<path d="M168.8,308.8L158.2,296.2A111.8,111.8 0 0 1 175.1,284.4L183.3,298.7A95.3,95.3 0 0 0 168.8,308.8Z" fill="rgb(63, 90, 170)"/>
<path d="M158.6,296.7L147.9,284.1A127.7,127.7 0 0 1 167.2,270.6L175.4,284.9A111.2,111.2 0 0 0 158.6,296.7Z" fill="rgb(67, 104, 178)"/>
<path d="M148.3,284.6L135.4,269.4A147.0,147.0 0 0 1 157.7,253.8L167.5,271.1A127.1,127.1 0 0 0 148.3,284.6Z" fill="rgb(63, 90, 170)"/>
<path d="M230.5,381.5L222.2,367.3A16.5,16.5 0 0 1 224.9,366.0L230.5,381.5A0.0,0.0 0 0 0 230.5,381.5Z" fill="rgb(63, 90, 170)"/>
<path d="M222.5,367.8L214.2,353.5A32.4,32.4 0 0 1 219.6,351.0L225.1,366.5A15.9,15.9 0 0 0 222.5,367.8Z" fill="rgb(63, 90, 170)"/>
<path d="M214.5,354.1L206.1,339.8A48.3,48.3 0 0 1 214.2,336.1L219.8,351.6A31.8,31.8 0 0 0 214.5,354.1Z" fill="rgb(67, 104, 178)"/>
<path d="M206.5,340.3L198.1,326.1A64.2,64.2 0 0 1 208.9,321.1L214.4,336.6A47.7,47.7 0 0 0 206.5,340.3Z" fill="rgb(67, 104, 178)"/>
<path d="M198.4,326.6L190.1,312.4A80.0,80.0 0 0 1 203.5,306.1L209.1,321.7A63.6,63.6 0 0 0 198.4,326.6Z" fill="rgb(75, 122, 188)"/>
<path d="M190.4,312.9L182.1,298.7A95.9,95.9 0 0 1 198.2,291.2L203.7,306.7A79.4,79.4 0 0 0 190.4,312.9Z" fill="rgb(75, 122, 188)"/>
<path d="M182.4,299.2L174.1,285.0A111.8,111.8 0 0 1 192.8,276.2L198.4,291.7A95.3,95.3 0 0 0 182.4,299.2Z" fill="rgb(75, 122, 188)"/>
<path d="M174.4,285.5L166.1,271.2A127.7,127.7 0 0 1 187.4,261.3L193.0,276.8A111.2,111.2 0 0 0 174.4,285.5Z" fill="rgb(67, 104, 178)"/>
<path d="M166.4,271.8L156.3,254.6A147.0,147.0 0 0 1 180.9,243.1L187.7,261.8A127.1,127.1 0 0 0 166.4,271.8Z" fill="rgb(67, 104, 178)"/>
<path d="M230.5,381.5L224.8,366.0A16.5,16.5 0 0 1 227.7,365.2L230.5,381.5A0.0,0.0 0 0 0 230.5,381.5Z" fill="rgb(63, 90, 170)"/>
<path d="M225.0,366.6L219.3,351.1A32.4,32.4 0 0 1 225.0,349.6L227.8,365.8A15.9,15.9 0 0 0 225.0,366.6Z" fill="rgb(67, 104, 178)"/>
<path d="M219.5,351.7L213.8,336.2A48.3,48.3 0 0 1 222.4,333.9L225.1,350.2A31.8,31.8 0 0 0 219.5,351.7Z" fill="rgb(67, 104, 178)"/>
<path d="M214.0,336.8L208.2,321.3A64.2,64.2 0 0 1 219.7,318.3L222.5,334.5A47.7,47.7 0 0 0 214.0,336.8Z" fill="rgb(67, 104, 178)"/>
<path d="M208.5,321.9L202.7,306.4A80.0,80.0 0 0 1 217.0,302.6L219.8,318.9A63.6,63.6 0 0 0 208.5,321.9Z" fill="rgb(67, 104, 178)"/>
<path d="M202.9,307.0L197.2,291.5A95.9,95.9 0 0 1 214.3,286.9L217.1,303.2A79.4,79.4 0 0 0 202.9,307.0Z" fill="rgb(75, 122, 188)"/>
<path d="M197.4,292.1L191.7,276.6A111.8,111.8 0 0 1 211.7,271.3L214.4,287.5A95.3,95.3 0 0 0 197.4,292.1Z" fill="rgb(75, 122, 188)"/>
<path d="M191.9,277.2L186.2,261.7A127.7,127.7 0 0 1 209.0,255.6L211.8,271.9A111.2,111.2 0 0 0 191.9,277.2Z" fill="rgb(67, 104, 178)"/>
<path d="M186.4,262.3L179.5,243.6A147.0,147.0 0 0 1 205.7,236.6L209.1,256.2A127.1,127.1 0 0 0 186.4,262.3Z" fill="rgb(67, 104, 178)"/>
<path d="M230.5,381.5L227.6,365.3A16.5,16.5 0 0 1 230.6,365.0L230.5,381.5A0.0,0.0 0 0 0 230.5,381.5Z" fill="rgb(63, 90, 170)"/>
<path d="M227.7,365.9L224.7,349.6A32.4,32.4 0 0 1 230.7,349.1L230.6,365.6A15.9,15.9 0 0 0 227.7,365.9Z" fill="rgb(63, 90, 170)"/>
<path d="M224.8,350.2L221.9,334.0A48.3,48.3 0 0 1 230.8,333.2L230.7,349.7A31.8,31.8 0 0 0 224.8,350.2Z" fill="rgb(75, 122, 188)"/>
<path d="M222.0,334.6L219.0,318.4A64.2,64.2 0 0 1 230.8,317.3L230.7,333.8A47.7,47.7 0 0 0 222.0,334.6Z" fill="rgb(59, 76, 163)"/>
<path d="M219.1,319.0L216.2,302.7A80.0,80.0 0 0 1 230.9,301.5L230.8,317.9A63.6,63.6 0 0 0 219.1,319.0Z" fill="rgb(59, 76, 163)"/>
<path d="M216.3,303.3L213.3,287.1A95.9,95.9 0 0 1 231.0,285.6L230.9,302.1A79.4,79.4 0 0 0 216.3,303.3Z" fill="rgb(59, 76, 163)"/>
<path d="M213.5,287.7L210.5,271.5A111.8,111.8 0 0 1 231.1,269.7L231.0,286.2A95.3,95.3 0 0 0 213.5,287.7Z" fill="rgb(59, 76, 163)"/>
<path d="M210.6,272.1L207.7,255.8A127.7,127.7 0 0 1 231.2,253.8L231.1,270.3A111.2,111.2 0 0 0 210.6,272.1Z" fill="rgb(59, 76, 163)"/>
<path d="M207.8,256.4L204.2,236.9A147.0,147.0 0 0 1 231.3,234.5L231.2,254.4A127.1,127.1 0 0 0 207.8,256.4Z" fill="rgb(59, 76, 163)"/>
<path d="M292.3,303.8L322.0,266.5A147.0,147.0 0 0 1 333.5,276.7L300.1,310.7A99.3,99.3 0 0 0 292.3,303.8Z" fill="rgb(108, 160, 210)"/>
<path d="M297.3,313.5L333.5,276.7A147.0,147.0 0 0 1 343.1,287.0L303.5,320.2A95.3,95.3 0 0 0 297.3,313.5Z" fill="rgb(143, 192, 226)"/>
<path d="M285.4,316.1L293.1,306.9A97.3,97.3 0 0 1 304.0,317.6L294.9,325.5A85.3,85.3 0 0 0 285.4,316.1Z" fill="rgb(80, 128, 192)"/>
</g></g>
<circle cx="230.5" cy="381.5" r="47.67" stroke="#f6f2bc" stroke-width="1" fill="none"/>
<circle cx="230.5" cy="381.5" r="95.33" stroke="#f6f2bc" stroke-width="1" fill="none"/>
<circle cx="230.5" cy="381.5" r="143.00" stroke="#f6f2bc" stroke-width="1" fill="none"/>
<path d="M87.5,381.5H373.5M230.5,238.5V524.5" stroke="#f6f2bc" stroke-width="1" fill="none"/>
<path d="M129.4,280.4L331.6,482.6M129.4,482.6L331.6,280.4" stroke="#eeeebb" stroke-width="1" fill="none" opacity="0.85"/>
<line x1="230.5" y1="381.5" x2="328.8" y2="277.5" stroke="#f8a218" stroke-width="0.95"/>
<circle cx="328.8" cy="277.5" r="3.6" fill="#ffa500"/>
<text x="229.6" y="183" fill="#fffbc8" font-size="16" text-anchor="middle" >Sky Plot at the Epoch of Max Rx Power</text>
<text x="230" y="199.8" fill="#fffbc8" font-size="16" text-anchor="middle" >2026-02-23T05:21:09.000Z</text>
<g fill="#00ff00" font-family="'DejaVu Serif','Liberation Serif',serif" font-size="11.7" letter-spacing="1.0" text-anchor="middle" stroke="#00ff00" stroke-width="0.22">
<text x="187.8" y="253.6">G01</text>
<text x="182.8" y="258.3">R13</text>
<text x="145.4" y="264.9">C59</text>
<text x="154.7" y="270.0">C45</text>
<text x="141.8" y="277.1">E07</text>
<text x="210.7" y="275.1">J195</text>
<text x="285.8" y="281.4">E15</text>
<text x="324.6" y="274.0">E22</text>
<text x="344.6" y="292.7">G27</text>
<text x="341.9" y="309.7">C58</text>
<text x="134.8" y="299.1">C09</text>
<text x="147.7" y="319.0">C06</text>
<text x="184.7" y="317.2">J199</text>
<text x="218.2" y="312.6">C01</text>
<text x="210.1" y="316.6">C50</text>
<text x="249.1" y="307.4">C62</text>
<text x="249.1" y="312.0">C04</text>
<text x="222.9" y="323.1">R12</text>
<text x="205.2" y="326.0">C38</text>
<text x="131.2" y="328.6">G07</text>
<text x="154.7" y="326.6">C46</text>
<text x="154.7" y="331.9">E03</text>
<text x="158.8" y="339.2">C39</text>
<text x="117.8" y="340.2">J200</text>
<text x="118.2" y="340.6">J201</text>
<text x="118.8" y="340.2">J209</text>
<text x="201.6" y="344.7">E08</text>
<text x="229.7" y="340.9">G03</text>
<text x="256.6" y="340.1">E13</text>
<text x="305.6" y="334.0">C20</text>
<text x="336.6" y="329.6">R26</text>
<text x="328.8" y="342.2">R08</text>
<text x="356.9" y="359.2">E14</text>
<text x="294.8" y="370.0">G16</text>
<text x="106.5" y="365.3">C60</text>
<text x="114.0" y="362.9">G02</text>
<text x="214.4" y="379.3">J196</text>
<text x="210.7" y="385.1">C36</text>
<text x="245.8" y="379.3">C53</text>
<text x="246.7" y="379.3">C55</text>
<text x="273.6" y="374.8">C48</text>
<text x="244.7" y="389.6">C19</text>
<text x="249.7" y="395.1">E03</text>
<text x="265.2" y="398.1">G46</text>
<text x="259.9" y="406.6">R01</text>
<text x="266.6" y="414.2">E11</text>
<text x="203.2" y="413.3">C08</text>
<text x="227.6" y="419.7">G04</text>
<text x="103.7" y="405.9">R17</text>
<text x="125.7" y="431.2">G06</text>
<text x="172.8" y="430.6">G09</text>
<text x="171.8" y="443.3">C22</text>
<text x="187.2" y="455.4">R02</text>
<text x="180.8" y="461.9">E26</text>
<text x="161.6" y="469.2">C13</text>
<text x="169.8" y="480.0">E33</text>
<text x="155.8" y="491.2">R18</text>
<text x="304.8" y="426.0">G26</text>
<text x="308.9" y="444.2">G31</text>
<text x="302.4" y="458.2">E05</text>
<text x="316.8" y="468.2">C37</text>
<text x="296.6" y="489.1">R10</text>
</g>
<path d="M182.0,261.0h7M185.5,257.5v7M177.0,265.7h7M180.5,262.2v7M139.7,272.3h7M143.2,268.8v7M148.9,277.4h7M152.4,273.9v7M136.0,284.5h7M139.5,281.0v7M204.9,282.5h7M208.4,279.0v7M280.0,288.8h7M283.5,285.3v7M318.9,281.4h7M322.4,277.9v7M338.8,300.1h7M342.3,296.6v7M336.1,317.1h7M339.6,313.6v7M129.0,306.5h7M132.5,303.0v7M141.9,326.4h7M145.4,322.9v7M178.9,324.6h7M182.4,321.1v7M212.5,320.0h7M216.0,316.5v7M204.3,324.0h7M207.8,320.5v7M243.3,314.8h7M246.8,311.3v7M243.3,319.4h7M246.8,315.9v7M217.2,330.5h7M220.7,327.0v7M199.5,333.4h7M203.0,329.9v7M125.5,336.0h7M129.0,332.5v7M148.9,334.0h7M152.4,330.5v7M148.9,339.3h7M152.4,335.8v7M153.0,346.6h7M156.5,343.1v7M112.1,347.6h7M115.6,344.1v7M112.5,348.0h7M116.0,344.5v7M113.1,347.6h7M116.6,344.1v7M195.8,352.1h7M199.3,348.6v7M223.9,348.3h7M227.4,344.8v7M250.9,347.5h7M254.4,344.0v7M299.9,341.4h7M303.4,337.9v7M330.9,337.0h7M334.4,333.5v7M323.0,349.6h7M326.5,346.1v7M351.1,366.6h7M354.6,363.1v7M289.0,377.4h7M292.5,373.9v7M100.8,372.7h7M104.3,369.2v7M108.2,370.3h7M111.7,366.8v7M208.7,386.7h7M212.2,383.2v7M204.9,392.5h7M208.4,389.0v7M240.1,386.7h7M243.6,383.2v7M240.9,386.7h7M244.4,383.2v7M267.9,382.2h7M271.4,378.7v7M238.9,397.0h7M242.4,393.5v7M243.9,402.5h7M247.4,399.0v7M259.5,405.5h7M263.0,402.0v7M254.1,414.0h7M257.6,410.5v7M260.8,421.6h7M264.3,418.1v7M197.5,420.7h7M201.0,417.2v7M221.8,427.1h7M225.3,423.6v7M97.9,413.3h7M101.4,409.8v7M119.9,438.6h7M123.4,435.1v7M167.0,438.0h7M170.5,434.5v7M166.0,450.7h7M169.5,447.2v7M181.5,462.8h7M185.0,459.3v7M175.1,469.3h7M178.6,465.8v7M155.8,476.6h7M159.3,473.1v7M164.0,487.4h7M167.5,483.9v7M150.1,498.6h7M153.6,495.1v7M299.0,433.4h7M302.5,429.9v7M303.1,451.6h7M306.6,448.1v7M296.6,465.6h7M300.1,462.1v7M311.0,475.6h7M314.5,472.1v7M290.8,496.5h7M294.3,493.0v7" stroke="#00ff00" stroke-width="1" fill="none"/>
<path d="M510.5,465.5L665.5,383.8L933,431" stroke="#fffbc8" stroke-width="1" fill="none"/>
<path d="M665.5,383.8l-7.1,3.7M754.7,399.5l-7.1,3.7M843.8,415.3l-7.1,3.7M933.0,431.0l-7.1,3.7M510.5,465.5l7.9,1.4M532.6,453.8l7.9,1.4M554.8,442.2l7.9,1.4M576.9,430.5l7.9,1.4M599.1,418.8l7.9,1.4M621.2,407.1l7.9,1.4M643.4,395.5l7.9,1.4M665.5,383.8l7.9,1.4" stroke="#fffbc8" stroke-width="1" fill="none"/>
<defs><linearGradient id="w0" gradientUnits="userSpaceOnUse" x1="0" y1="434.1" x2="0" y2="435.6"><stop offset="0" stop-color="rgb(115, 172, 209)"/><stop offset="0.2" stop-color="rgb(110, 166, 205)"/><stop offset="0.4" stop-color="rgb(104, 159, 202)"/><stop offset="0.6" stop-color="rgb(99, 152, 198)"/><stop offset="0.8" stop-color="rgb(93, 146, 195)"/><stop offset="1" stop-color="rgb(88, 139, 192)"/></linearGradient><linearGradient id="w1" gradientUnits="userSpaceOnUse" x1="0" y1="432.9" x2="0" y2="436.7"><stop offset="0" stop-color="rgb(117, 173, 209)"/><stop offset="0.2" stop-color="rgb(110, 166, 205)"/><stop offset="0.4" stop-color="rgb(104, 158, 201)"/><stop offset="0.6" stop-color="rgb(97, 151, 197)"/><stop offset="0.8" stop-color="rgb(91, 143, 193)"/><stop offset="1" stop-color="rgb(84, 135, 189)"/></linearGradient><linearGradient id="w2" gradientUnits="userSpaceOnUse" x1="0" y1="431.2" x2="0" y2="438.1"><stop offset="0" stop-color="rgb(122, 178, 212)"/><stop offset="0.2" stop-color="rgb(115, 172, 208)"/><stop offset="0.4" stop-color="rgb(109, 165, 205)"/><stop offset="0.6" stop-color="rgb(103, 158, 201)"/><stop offset="0.8" stop-color="rgb(97, 151, 197)"/><stop offset="1" stop-color="rgb(91, 144, 194)"/></linearGradient><linearGradient id="w3" gradientUnits="userSpaceOnUse" x1="0" y1="428.8" x2="0" y2="437.9"><stop offset="0" stop-color="rgb(126, 181, 214)"/><stop offset="0.2" stop-color="rgb(120, 176, 211)"/><stop offset="0.4" stop-color="rgb(114, 170, 208)"/><stop offset="0.6" stop-color="rgb(108, 164, 204)"/><stop offset="0.8" stop-color="rgb(102, 157, 201)"/><stop offset="1" stop-color="rgb(97, 150, 197)"/></linearGradient><linearGradient id="w4" gradientUnits="userSpaceOnUse" x1="0" y1="428.0" x2="0" y2="438.5"><stop offset="0" stop-color="rgb(126, 181, 213)"/><stop offset="0.2" stop-color="rgb(118, 175, 210)"/><stop offset="0.4" stop-color="rgb(111, 167, 206)"/><stop offset="0.6" stop-color="rgb(104, 159, 202)"/><stop offset="0.8" stop-color="rgb(97, 150, 197)"/><stop offset="1" stop-color="rgb(90, 142, 193)"/></linearGradient><linearGradient id="w5" gradientUnits="userSpaceOnUse" x1="0" y1="427.8" x2="0" y2="438.9"><stop offset="0" stop-color="rgb(127, 182, 214)"/><stop offset="0.2" stop-color="rgb(118, 175, 210)"/><stop offset="0.4" stop-color="rgb(110, 166, 205)"/><stop offset="0.6" stop-color="rgb(102, 157, 201)"/><stop offset="0.8" stop-color="rgb(95, 147, 196)"/><stop offset="1" stop-color="rgb(87, 138, 191)"/></linearGradient><linearGradient id="w6" gradientUnits="userSpaceOnUse" x1="0" y1="425.9" x2="0" y2="441.1"><stop offset="0" stop-color="rgb(131, 185, 216)"/><stop offset="0.2" stop-color="rgb(122, 178, 212)"/><stop offset="0.4" stop-color="rgb(113, 170, 207)"/><stop offset="0.6" stop-color="rgb(106, 161, 203)"/><stop offset="0.8" stop-color="rgb(98, 151, 198)"/><stop offset="1" stop-color="rgb(90, 142, 193)"/></linearGradient><linearGradient id="w7" gradientUnits="userSpaceOnUse" x1="0" y1="425.2" x2="0" y2="441.6"><stop offset="0" stop-color="rgb(132, 186, 216)"/><stop offset="0.2" stop-color="rgb(122, 178, 212)"/><stop offset="0.4" stop-color="rgb(112, 169, 207)"/><stop offset="0.6" stop-color="rgb(104, 158, 201)"/><stop offset="0.8" stop-color="rgb(95, 148, 196)"/><stop offset="1" stop-color="rgb(86, 137, 191)"/></linearGradient><linearGradient id="w8" gradientUnits="userSpaceOnUse" x1="0" y1="422.8" x2="0" y2="441.7"><stop offset="0" stop-color="rgb(135, 189, 217)"/><stop offset="0.2" stop-color="rgb(125, 180, 213)"/><stop offset="0.4" stop-color="rgb(115, 171, 208)"/><stop offset="0.6" stop-color="rgb(106, 161, 203)"/><stop offset="0.8" stop-color="rgb(97, 150, 197)"/><stop offset="1" stop-color="rgb(88, 139, 192)"/></linearGradient><linearGradient id="w9" gradientUnits="userSpaceOnUse" x1="0" y1="421.7" x2="0" y2="443.2"><stop offset="0" stop-color="rgb(138, 190, 218)"/><stop offset="0.2" stop-color="rgb(127, 182, 214)"/><stop offset="0.4" stop-color="rgb(116, 173, 209)"/><stop offset="0.6" stop-color="rgb(106, 161, 203)"/><stop offset="0.8" stop-color="rgb(97, 150, 197)"/><stop offset="1" stop-color="rgb(87, 139, 191)"/></linearGradient><linearGradient id="w10" gradientUnits="userSpaceOnUse" x1="0" y1="421.9" x2="0" y2="443.8"><stop offset="0" stop-color="rgb(141, 193, 220)"/><stop offset="0.2" stop-color="rgb(130, 184, 215)"/><stop offset="0.4" stop-color="rgb(119, 176, 210)"/><stop offset="0.6" stop-color="rgb(109, 165, 205)"/><stop offset="0.8" stop-color="rgb(100, 154, 199)"/><stop offset="1" stop-color="rgb(90, 142, 193)"/></linearGradient><linearGradient id="w11" gradientUnits="userSpaceOnUse" x1="0" y1="420.8" x2="0" y2="444.5"><stop offset="0" stop-color="rgb(144, 195, 221)"/><stop offset="0.2" stop-color="rgb(132, 186, 216)"/><stop offset="0.4" stop-color="rgb(120, 176, 211)"/><stop offset="0.6" stop-color="rgb(109, 165, 205)"/><stop offset="0.8" stop-color="rgb(99, 153, 198)"/><stop offset="1" stop-color="rgb(89, 141, 192)"/></linearGradient><linearGradient id="w12" gradientUnits="userSpaceOnUse" x1="0" y1="420.8" x2="0" y2="442.3"><stop offset="0" stop-color="rgb(149, 200, 224)"/><stop offset="0.2" stop-color="rgb(138, 190, 218)"/><stop offset="0.4" stop-color="rgb(125, 181, 213)"/><stop offset="0.6" stop-color="rgb(114, 170, 207)"/><stop offset="0.8" stop-color="rgb(103, 158, 201)"/><stop offset="1" stop-color="rgb(93, 146, 195)"/></linearGradient><linearGradient id="w13" gradientUnits="userSpaceOnUse" x1="0" y1="418.1" x2="0" y2="444.5"><stop offset="0" stop-color="rgb(154, 203, 226)"/><stop offset="0.2" stop-color="rgb(142, 194, 221)"/><stop offset="0.4" stop-color="rgb(130, 184, 215)"/><stop offset="0.6" stop-color="rgb(117, 174, 209)"/><stop offset="0.8" stop-color="rgb(106, 161, 203)"/><stop offset="1" stop-color="rgb(96, 150, 197)"/></linearGradient><linearGradient id="w14" gradientUnits="userSpaceOnUse" x1="0" y1="417.4" x2="0" y2="444.6"><stop offset="0" stop-color="rgb(158, 207, 227)"/><stop offset="0.2" stop-color="rgb(146, 197, 222)"/><stop offset="0.4" stop-color="rgb(132, 186, 216)"/><stop offset="0.6" stop-color="rgb(119, 175, 210)"/><stop offset="0.8" stop-color="rgb(108, 163, 204)"/><stop offset="1" stop-color="rgb(97, 151, 198)"/></linearGradient><linearGradient id="w15" gradientUnits="userSpaceOnUse" x1="0" y1="416.5" x2="0" y2="443.7"><stop offset="0" stop-color="rgb(162, 210, 229)"/><stop offset="0.2" stop-color="rgb(150, 201, 224)"/><stop offset="0.4" stop-color="rgb(136, 189, 218)"/><stop offset="0.6" stop-color="rgb(122, 178, 212)"/><stop offset="0.8" stop-color="rgb(110, 166, 205)"/><stop offset="1" stop-color="rgb(100, 154, 199)"/></linearGradient><linearGradient id="w16" gradientUnits="userSpaceOnUse" x1="0" y1="416.4" x2="0" y2="442.4"><stop offset="0" stop-color="rgb(163, 211, 230)"/><stop offset="0.2" stop-color="rgb(150, 200, 224)"/><stop offset="0.4" stop-color="rgb(133, 187, 217)"/><stop offset="0.6" stop-color="rgb(117, 174, 209)"/><stop offset="0.8" stop-color="rgb(104, 159, 202)"/><stop offset="1" stop-color="rgb(92, 145, 194)"/></linearGradient><linearGradient id="w17" gradientUnits="userSpaceOnUse" x1="0" y1="411.5" x2="0" y2="441.9"><stop offset="0" stop-color="rgb(168, 215, 232)"/><stop offset="0.2" stop-color="rgb(155, 204, 226)"/><stop offset="0.4" stop-color="rgb(138, 191, 219)"/><stop offset="0.6" stop-color="rgb(122, 178, 212)"/><stop offset="0.8" stop-color="rgb(108, 164, 204)"/><stop offset="1" stop-color="rgb(97, 150, 197)"/></linearGradient><linearGradient id="w18" gradientUnits="userSpaceOnUse" x1="0" y1="403.9" x2="0" y2="440.5"><stop offset="0" stop-color="rgb(170, 216, 232)"/><stop offset="0.2" stop-color="rgb(155, 204, 226)"/><stop offset="0.4" stop-color="rgb(136, 189, 218)"/><stop offset="0.6" stop-color="rgb(118, 174, 210)"/><stop offset="0.8" stop-color="rgb(103, 158, 201)"/><stop offset="1" stop-color="rgb(90, 142, 193)"/></linearGradient><linearGradient id="w19" gradientUnits="userSpaceOnUse" x1="0" y1="396.7" x2="0" y2="438.4"><stop offset="0" stop-color="rgb(172, 217, 233)"/><stop offset="0.2" stop-color="rgb(156, 205, 226)"/><stop offset="0.4" stop-color="rgb(136, 189, 218)"/><stop offset="0.6" stop-color="rgb(116, 173, 209)"/><stop offset="0.8" stop-color="rgb(101, 155, 200)"/><stop offset="1" stop-color="rgb(87, 138, 191)"/></linearGradient><linearGradient id="w20" gradientUnits="userSpaceOnUse" x1="0" y1="389.7" x2="0" y2="436.4"><stop offset="0" stop-color="rgb(176, 219, 234)"/><stop offset="0.2" stop-color="rgb(160, 208, 228)"/><stop offset="0.4" stop-color="rgb(139, 192, 219)"/><stop offset="0.6" stop-color="rgb(119, 175, 210)"/><stop offset="0.8" stop-color="rgb(103, 157, 201)"/><stop offset="1" stop-color="rgb(89, 141, 192)"/></linearGradient><linearGradient id="w21" gradientUnits="userSpaceOnUse" x1="0" y1="383.0" x2="0" y2="434.4"><stop offset="0" stop-color="rgb(181, 222, 236)"/><stop offset="0.2" stop-color="rgb(165, 212, 230)"/><stop offset="0.4" stop-color="rgb(144, 195, 221)"/><stop offset="0.6" stop-color="rgb(123, 178, 212)"/><stop offset="0.8" stop-color="rgb(106, 161, 203)"/><stop offset="1" stop-color="rgb(92, 144, 194)"/></linearGradient><linearGradient id="w22" gradientUnits="userSpaceOnUse" x1="0" y1="380.1" x2="0" y2="435.2"><stop offset="0" stop-color="rgb(184, 223, 237)"/><stop offset="0.2" stop-color="rgb(167, 214, 231)"/><stop offset="0.4" stop-color="rgb(145, 196, 222)"/><stop offset="0.6" stop-color="rgb(123, 178, 212)"/><stop offset="0.8" stop-color="rgb(105, 160, 202)"/><stop offset="1" stop-color="rgb(91, 143, 193)"/></linearGradient><linearGradient id="w23" gradientUnits="userSpaceOnUse" x1="0" y1="375.8" x2="0" y2="434.1"><stop offset="0" stop-color="rgb(189, 226, 238)"/><stop offset="0.2" stop-color="rgb(174, 218, 234)"/><stop offset="0.4" stop-color="rgb(152, 202, 225)"/><stop offset="0.6" stop-color="rgb(130, 184, 215)"/><stop offset="0.8" stop-color="rgb(112, 168, 206)"/><stop offset="1" stop-color="rgb(98, 151, 198)"/></linearGradient><linearGradient id="w24" gradientUnits="userSpaceOnUse" x1="0" y1="371.3" x2="0" y2="432.4"><stop offset="0" stop-color="rgb(190, 226, 238)"/><stop offset="0.2" stop-color="rgb(174, 219, 234)"/><stop offset="0.4" stop-color="rgb(151, 201, 224)"/><stop offset="0.6" stop-color="rgb(128, 182, 214)"/><stop offset="0.8" stop-color="rgb(109, 164, 204)"/><stop offset="1" stop-color="rgb(93, 146, 195)"/></linearGradient><linearGradient id="w25" gradientUnits="userSpaceOnUse" x1="0" y1="369.5" x2="0" y2="432.3"><stop offset="0" stop-color="rgb(191, 227, 239)"/><stop offset="0.2" stop-color="rgb(174, 219, 234)"/><stop offset="0.4" stop-color="rgb(150, 200, 224)"/><stop offset="0.6" stop-color="rgb(125, 180, 213)"/><stop offset="0.8" stop-color="rgb(105, 160, 202)"/><stop offset="1" stop-color="rgb(88, 140, 192)"/></linearGradient><linearGradient id="w26" gradientUnits="userSpaceOnUse" x1="0" y1="368.7" x2="0" y2="431.3"><stop offset="0" stop-color="rgb(197, 230, 240)"/><stop offset="0.2" stop-color="rgb(181, 222, 236)"/><stop offset="0.4" stop-color="rgb(157, 206, 227)"/><stop offset="0.6" stop-color="rgb(133, 187, 216)"/><stop offset="0.8" stop-color="rgb(112, 168, 207)"/><stop offset="1" stop-color="rgb(96, 149, 197)"/></linearGradient><linearGradient id="w27" gradientUnits="userSpaceOnUse" x1="0" y1="368.5" x2="0" y2="430.8"><stop offset="0" stop-color="rgb(200, 231, 241)"/><stop offset="0.2" stop-color="rgb(184, 224, 237)"/><stop offset="0.4" stop-color="rgb(160, 208, 228)"/><stop offset="0.6" stop-color="rgb(136, 189, 218)"/><stop offset="0.8" stop-color="rgb(114, 171, 208)"/><stop offset="1" stop-color="rgb(98, 151, 198)"/></linearGradient><linearGradient id="w28" gradientUnits="userSpaceOnUse" x1="0" y1="366.3" x2="0" y2="431.5"><stop offset="0" stop-color="rgb(204, 233, 242)"/><stop offset="0.2" stop-color="rgb(189, 226, 238)"/><stop offset="0.4" stop-color="rgb(164, 212, 230)"/><stop offset="0.6" stop-color="rgb(140, 192, 219)"/><stop offset="0.8" stop-color="rgb(117, 174, 210)"/><stop offset="1" stop-color="rgb(101, 155, 200)"/></linearGradient><linearGradient id="w29" gradientUnits="userSpaceOnUse" x1="0" y1="366.8" x2="0" y2="431.4"><stop offset="0" stop-color="rgb(204, 233, 242)"/><stop offset="0.2" stop-color="rgb(188, 225, 238)"/><stop offset="0.4" stop-color="rgb(162, 210, 229)"/><stop offset="0.6" stop-color="rgb(135, 188, 217)"/><stop offset="0.8" stop-color="rgb(112, 168, 206)"/><stop offset="1" stop-color="rgb(94, 147, 195)"/></linearGradient><linearGradient id="w30" gradientUnits="userSpaceOnUse" x1="0" y1="366.1" x2="0" y2="431.9"><stop offset="0" stop-color="rgb(205, 234, 243)"/><stop offset="0.2" stop-color="rgb(189, 226, 238)"/><stop offset="0.4" stop-color="rgb(161, 209, 229)"/><stop offset="0.6" stop-color="rgb(134, 187, 217)"/><stop offset="0.8" stop-color="rgb(110, 165, 205)"/><stop offset="1" stop-color="rgb(90, 143, 193)"/></linearGradient><linearGradient id="w31" gradientUnits="userSpaceOnUse" x1="0" y1="364.6" x2="0" y2="432.1"><stop offset="0" stop-color="rgb(206, 234, 243)"/><stop offset="0.2" stop-color="rgb(189, 226, 238)"/><stop offset="0.4" stop-color="rgb(161, 209, 229)"/><stop offset="0.6" stop-color="rgb(132, 186, 216)"/><stop offset="0.8" stop-color="rgb(108, 163, 204)"/><stop offset="1" stop-color="rgb(88, 139, 192)"/></linearGradient><linearGradient id="w32" gradientUnits="userSpaceOnUse" x1="0" y1="363.7" x2="0" y2="430.9"><stop offset="0" stop-color="rgb(208, 235, 244)"/><stop offset="0.2" stop-color="rgb(193, 228, 239)"/><stop offset="0.4" stop-color="rgb(165, 213, 231)"/><stop offset="0.6" stop-color="rgb(137, 190, 218)"/><stop offset="0.8" stop-color="rgb(112, 168, 206)"/><stop offset="1" stop-color="rgb(92, 145, 194)"/></linearGradient><linearGradient id="w33" gradientUnits="userSpaceOnUse" x1="0" y1="362.4" x2="0" y2="430.8"><stop offset="0" stop-color="rgb(209, 236, 244)"/><stop offset="0.2" stop-color="rgb(194, 228, 240)"/><stop offset="0.4" stop-color="rgb(167, 213, 231)"/><stop offset="0.6" stop-color="rgb(137, 190, 218)"/><stop offset="0.8" stop-color="rgb(112, 168, 206)"/><stop offset="1" stop-color="rgb(92, 145, 194)"/></linearGradient><linearGradient id="w34" gradientUnits="userSpaceOnUse" x1="0" y1="361.4" x2="0" y2="432.8"><stop offset="0" stop-color="rgb(210, 236, 244)"/><stop offset="0.2" stop-color="rgb(197, 230, 240)"/><stop offset="0.4" stop-color="rgb(169, 215, 232)"/><stop offset="0.6" stop-color="rgb(139, 191, 219)"/><stop offset="0.8" stop-color="rgb(113, 169, 207)"/><stop offset="1" stop-color="rgb(93, 146, 195)"/></linearGradient><linearGradient id="w35" gradientUnits="userSpaceOnUse" x1="0" y1="361.5" x2="0" y2="431.9"><stop offset="0" stop-color="rgb(210, 236, 244)"/><stop offset="0.2" stop-color="rgb(198, 230, 241)"/><stop offset="0.4" stop-color="rgb(169, 216, 232)"/><stop offset="0.6" stop-color="rgb(139, 191, 219)"/><stop offset="0.8" stop-color="rgb(112, 169, 207)"/><stop offset="1" stop-color="rgb(93, 145, 195)"/></linearGradient><linearGradient id="w36" gradientUnits="userSpaceOnUse" x1="0" y1="360.7" x2="0" y2="433.8"><stop offset="0" stop-color="rgb(210, 236, 244)"/><stop offset="0.2" stop-color="rgb(197, 230, 240)"/><stop offset="0.4" stop-color="rgb(168, 215, 232)"/><stop offset="0.6" stop-color="rgb(136, 189, 218)"/><stop offset="0.8" stop-color="rgb(109, 165, 205)"/><stop offset="1" stop-color="rgb(89, 141, 192)"/></linearGradient><linearGradient id="w37" gradientUnits="userSpaceOnUse" x1="0" y1="361.8" x2="0" y2="434.4"><stop offset="0" stop-color="rgb(212, 237, 245)"/><stop offset="0.2" stop-color="rgb(200, 231, 241)"/><stop offset="0.4" stop-color="rgb(172, 217, 233)"/><stop offset="0.6" stop-color="rgb(140, 192, 219)"/><stop offset="0.8" stop-color="rgb(113, 169, 207)"/><stop offset="1" stop-color="rgb(92, 145, 194)"/></linearGradient><linearGradient id="w38" gradientUnits="userSpaceOnUse" x1="0" y1="359.7" x2="0" y2="434.6"><stop offset="0" stop-color="rgb(215, 238, 245)"/><stop offset="0.2" stop-color="rgb(205, 234, 243)"/><stop offset="0.4" stop-color="rgb(177, 220, 235)"/><stop offset="0.6" stop-color="rgb(146, 197, 222)"/><stop offset="0.8" stop-color="rgb(118, 175, 210)"/><stop offset="1" stop-color="rgb(98, 152, 198)"/></linearGradient><linearGradient id="w39" gradientUnits="userSpaceOnUse" x1="0" y1="360.1" x2="0" y2="433.5"><stop offset="0" stop-color="rgb(214, 238, 245)"/><stop offset="0.2" stop-color="rgb(204, 233, 242)"/><stop offset="0.4" stop-color="rgb(175, 219, 234)"/><stop offset="0.6" stop-color="rgb(143, 194, 221)"/><stop offset="0.8" stop-color="rgb(114, 171, 208)"/><stop offset="1" stop-color="rgb(94, 147, 196)"/></linearGradient><linearGradient id="w40" gradientUnits="userSpaceOnUse" x1="0" y1="360.1" x2="0" y2="433.5"><stop offset="0" stop-color="rgb(214, 238, 245)"/><stop offset="0.2" stop-color="rgb(205, 234, 243)"/><stop offset="0.4" stop-color="rgb(176, 219, 234)"/><stop offset="0.6" stop-color="rgb(143, 194, 221)"/><stop offset="0.8" stop-color="rgb(114, 171, 208)"/><stop offset="1" stop-color="rgb(94, 146, 195)"/></linearGradient><linearGradient id="w41" gradientUnits="userSpaceOnUse" x1="0" y1="358.5" x2="0" y2="434.5"><stop offset="0" stop-color="rgb(217, 240, 246)"/><stop offset="0.2" stop-color="rgb(210, 236, 244)"/><stop offset="0.4" stop-color="rgb(181, 222, 236)"/><stop offset="0.6" stop-color="rgb(148, 199, 223)"/><stop offset="0.8" stop-color="rgb(119, 176, 211)"/><stop offset="1" stop-color="rgb(99, 153, 199)"/></linearGradient><linearGradient id="w42" gradientUnits="userSpaceOnUse" x1="0" y1="358.9" x2="0" y2="435.2"><stop offset="0" stop-color="rgb(217, 239, 246)"/><stop offset="0.2" stop-color="rgb(209, 236, 244)"/><stop offset="0.4" stop-color="rgb(180, 221, 235)"/><stop offset="0.6" stop-color="rgb(146, 197, 222)"/><stop offset="0.8" stop-color="rgb(116, 173, 209)"/><stop offset="1" stop-color="rgb(96, 149, 196)"/></linearGradient><linearGradient id="w43" gradientUnits="userSpaceOnUse" x1="0" y1="358.0" x2="0" y2="435.1"><stop offset="0" stop-color="rgb(217, 239, 246)"/><stop offset="0.2" stop-color="rgb(210, 236, 244)"/><stop offset="0.4" stop-color="rgb(180, 221, 235)"/><stop offset="0.6" stop-color="rgb(145, 196, 222)"/><stop offset="0.8" stop-color="rgb(115, 172, 208)"/><stop offset="1" stop-color="rgb(94, 147, 195)"/></linearGradient><linearGradient id="w44" gradientUnits="userSpaceOnUse" x1="0" y1="356.6" x2="0" y2="435.1"><stop offset="0" stop-color="rgb(218, 240, 246)"/><stop offset="0.2" stop-color="rgb(212, 237, 245)"/><stop offset="0.4" stop-color="rgb(182, 222, 236)"/><stop offset="0.6" stop-color="rgb(147, 198, 222)"/><stop offset="0.8" stop-color="rgb(116, 173, 209)"/><stop offset="1" stop-color="rgb(95, 148, 196)"/></linearGradient><linearGradient id="w45" gradientUnits="userSpaceOnUse" x1="0" y1="357.4" x2="0" y2="436.1"><stop offset="0" stop-color="rgb(218, 240, 246)"/><stop offset="0.2" stop-color="rgb(214, 238, 245)"/><stop offset="0.4" stop-color="rgb(183, 223, 236)"/><stop offset="0.6" stop-color="rgb(147, 198, 223)"/><stop offset="0.8" stop-color="rgb(116, 173, 209)"/><stop offset="1" stop-color="rgb(95, 148, 196)"/></linearGradient><linearGradient id="w46" gradientUnits="userSpaceOnUse" x1="0" y1="355.6" x2="0" y2="434.2"><stop offset="0" stop-color="rgb(218, 240, 246)"/><stop offset="0.2" stop-color="rgb(214, 238, 245)"/><stop offset="0.4" stop-color="rgb(183, 223, 236)"/><stop offset="0.6" stop-color="rgb(146, 197, 222)"/><stop offset="0.8" stop-color="rgb(115, 171, 208)"/><stop offset="1" stop-color="rgb(93, 146, 195)"/></linearGradient><linearGradient id="w47" gradientUnits="userSpaceOnUse" x1="0" y1="355.5" x2="0" y2="434.9"><stop offset="0" stop-color="rgb(220, 241, 247)"/><stop offset="0.2" stop-color="rgb(217, 239, 246)"/><stop offset="0.4" stop-color="rgb(185, 224, 237)"/><stop offset="0.6" stop-color="rgb(149, 199, 223)"/><stop offset="0.8" stop-color="rgb(117, 173, 209)"/><stop offset="1" stop-color="rgb(95, 148, 196)"/></linearGradient><linearGradient id="w48" gradientUnits="userSpaceOnUse" x1="0" y1="355.2" x2="0" y2="437.8"><stop offset="0" stop-color="rgb(223, 243, 248)"/><stop offset="0.2" stop-color="rgb(221, 242, 247)"/><stop offset="0.4" stop-color="rgb(191, 227, 239)"/><stop offset="0.6" stop-color="rgb(155, 204, 226)"/><stop offset="0.8" stop-color="rgb(123, 179, 212)"/><stop offset="1" stop-color="rgb(102, 156, 200)"/></linearGradient><linearGradient id="w49" gradientUnits="userSpaceOnUse" x1="0" y1="355.1" x2="0" y2="437.1"><stop offset="0" stop-color="rgb(222, 242, 247)"/><stop offset="0.2" stop-color="rgb(221, 241, 247)"/><stop offset="0.4" stop-color="rgb(189, 226, 238)"/><stop offset="0.6" stop-color="rgb(151, 201, 224)"/><stop offset="0.8" stop-color="rgb(119, 175, 210)"/><stop offset="1" stop-color="rgb(97, 151, 197)"/></linearGradient><linearGradient id="w50" gradientUnits="userSpaceOnUse" x1="0" y1="354.8" x2="0" y2="435.1"><stop offset="0" stop-color="rgb(225, 243, 247)"/><stop offset="0.2" stop-color="rgb(225, 243, 247)"/><stop offset="0.4" stop-color="rgb(194, 228, 240)"/><stop offset="0.6" stop-color="rgb(158, 206, 227)"/><stop offset="0.8" stop-color="rgb(125, 181, 213)"/><stop offset="1" stop-color="rgb(104, 158, 201)"/></linearGradient><linearGradient id="w51" gradientUnits="userSpaceOnUse" x1="0" y1="353.3" x2="0" y2="433.7"><stop offset="0" stop-color="rgb(225, 243, 246)"/><stop offset="0.2" stop-color="rgb(226, 243, 246)"/><stop offset="0.4" stop-color="rgb(196, 229, 240)"/><stop offset="0.6" stop-color="rgb(159, 208, 228)"/><stop offset="0.8" stop-color="rgb(127, 182, 214)"/><stop offset="1" stop-color="rgb(105, 159, 202)"/></linearGradient><linearGradient id="w52" gradientUnits="userSpaceOnUse" x1="0" y1="351.8" x2="0" y2="431.7"><stop offset="0" stop-color="rgb(226, 243, 245)"/><stop offset="0.2" stop-color="rgb(227, 243, 244)"/><stop offset="0.4" stop-color="rgb(199, 231, 241)"/><stop offset="0.6" stop-color="rgb(163, 210, 229)"/><stop offset="0.8" stop-color="rgb(130, 184, 215)"/><stop offset="1" stop-color="rgb(107, 163, 204)"/></linearGradient><linearGradient id="w53" gradientUnits="userSpaceOnUse" x1="0" y1="352.4" x2="0" y2="430.1"><stop offset="0" stop-color="rgb(227, 243, 244)"/><stop offset="0.2" stop-color="rgb(228, 243, 242)"/><stop offset="0.4" stop-color="rgb(202, 232, 242)"/><stop offset="0.6" stop-color="rgb(166, 213, 231)"/><stop offset="0.8" stop-color="rgb(133, 187, 216)"/><stop offset="1" stop-color="rgb(110, 166, 205)"/></linearGradient><linearGradient id="w54" gradientUnits="userSpaceOnUse" x1="0" y1="352.1" x2="0" y2="429.5"><stop offset="0" stop-color="rgb(226, 243, 245)"/><stop offset="0.2" stop-color="rgb(226, 243, 244)"/><stop offset="0.4" stop-color="rgb(198, 230, 241)"/><stop offset="0.6" stop-color="rgb(160, 208, 228)"/><stop offset="0.8" stop-color="rgb(125, 180, 213)"/><stop offset="1" stop-color="rgb(102, 156, 200)"/></linearGradient><linearGradient id="w55" gradientUnits="userSpaceOnUse" x1="0" y1="350.0" x2="0" y2="431.1"><stop offset="0" stop-color="rgb(226, 243, 245)"/><stop offset="0.2" stop-color="rgb(227, 243, 244)"/><stop offset="0.4" stop-color="rgb(199, 231, 241)"/><stop offset="0.6" stop-color="rgb(161, 209, 228)"/><stop offset="0.8" stop-color="rgb(125, 181, 213)"/><stop offset="1" stop-color="rgb(101, 156, 200)"/></linearGradient><linearGradient id="w56" gradientUnits="userSpaceOnUse" x1="0" y1="351.1" x2="0" y2="430.4"><stop offset="0" stop-color="rgb(227, 243, 243)"/><stop offset="0.2" stop-color="rgb(228, 243, 242)"/><stop offset="0.4" stop-color="rgb(203, 232, 242)"/><stop offset="0.6" stop-color="rgb(164, 212, 230)"/><stop offset="0.8" stop-color="rgb(129, 183, 215)"/><stop offset="1" stop-color="rgb(105, 160, 202)"/></linearGradient><linearGradient id="w57" gradientUnits="userSpaceOnUse" x1="0" y1="349.5" x2="0" y2="429.6"><stop offset="0" stop-color="rgb(227, 243, 244)"/><stop offset="0.2" stop-color="rgb(228, 243, 243)"/><stop offset="0.4" stop-color="rgb(201, 232, 241)"/><stop offset="0.6" stop-color="rgb(161, 209, 229)"/><stop offset="0.8" stop-color="rgb(125, 180, 213)"/><stop offset="1" stop-color="rgb(100, 154, 199)"/></linearGradient><linearGradient id="w58" gradientUnits="userSpaceOnUse" x1="0" y1="349.5" x2="0" y2="429.1"><stop offset="0" stop-color="rgb(226, 243, 245)"/><stop offset="0.2" stop-color="rgb(227, 243, 244)"/><stop offset="0.4" stop-color="rgb(199, 231, 241)"/><stop offset="0.6" stop-color="rgb(159, 207, 228)"/><stop offset="0.8" stop-color="rgb(121, 177, 211)"/><stop offset="1" stop-color="rgb(96, 149, 197)"/></linearGradient><linearGradient id="w59" gradientUnits="userSpaceOnUse" x1="0" y1="350.0" x2="0" y2="429.0"><stop offset="0" stop-color="rgb(227, 243, 243)"/><stop offset="0.2" stop-color="rgb(228, 243, 242)"/><stop offset="0.4" stop-color="rgb(202, 232, 242)"/><stop offset="0.6" stop-color="rgb(162, 210, 229)"/><stop offset="0.8" stop-color="rgb(125, 180, 213)"/><stop offset="1" stop-color="rgb(99, 153, 198)"/></linearGradient><linearGradient id="w60" gradientUnits="userSpaceOnUse" x1="0" y1="350.0" x2="0" y2="429.3"><stop offset="0" stop-color="rgb(228, 243, 243)"/><stop offset="0.2" stop-color="rgb(229, 243, 241)"/><stop offset="0.4" stop-color="rgb(204, 233, 242)"/><stop offset="0.6" stop-color="rgb(164, 211, 230)"/><stop offset="0.8" stop-color="rgb(126, 181, 213)"/><stop offset="1" stop-color="rgb(100, 154, 199)"/></linearGradient><linearGradient id="w61" gradientUnits="userSpaceOnUse" x1="0" y1="348.8" x2="0" y2="431.9"><stop offset="0" stop-color="rgb(228, 243, 243)"/><stop offset="0.2" stop-color="rgb(229, 243, 241)"/><stop offset="0.4" stop-color="rgb(203, 233, 242)"/><stop offset="0.6" stop-color="rgb(162, 210, 229)"/><stop offset="0.8" stop-color="rgb(123, 179, 212)"/><stop offset="1" stop-color="rgb(97, 150, 197)"/></linearGradient><linearGradient id="w62" gradientUnits="userSpaceOnUse" x1="0" y1="346.6" x2="0" y2="432.9"><stop offset="0" stop-color="rgb(228, 243, 242)"/><stop offset="0.2" stop-color="rgb(230, 243, 240)"/><stop offset="0.4" stop-color="rgb(206, 234, 243)"/><stop offset="0.6" stop-color="rgb(165, 212, 230)"/><stop offset="0.8" stop-color="rgb(125, 180, 213)"/><stop offset="1" stop-color="rgb(98, 152, 198)"/></linearGradient><linearGradient id="w63" gradientUnits="userSpaceOnUse" x1="0" y1="347.1" x2="0" y2="432.8"><stop offset="0" stop-color="rgb(229, 243, 241)"/><stop offset="0.2" stop-color="rgb(231, 243, 239)"/><stop offset="0.4" stop-color="rgb(208, 235, 243)"/><stop offset="0.6" stop-color="rgb(167, 214, 231)"/><stop offset="0.8" stop-color="rgb(127, 182, 214)"/><stop offset="1" stop-color="rgb(100, 153, 199)"/></linearGradient><linearGradient id="w64" gradientUnits="userSpaceOnUse" x1="0" y1="346.7" x2="0" y2="433.6"><stop offset="0" stop-color="rgb(230, 243, 240)"/><stop offset="0.2" stop-color="rgb(232, 244, 237)"/><stop offset="0.4" stop-color="rgb(210, 236, 244)"/><stop offset="0.6" stop-color="rgb(169, 216, 232)"/><stop offset="0.8" stop-color="rgb(129, 183, 215)"/><stop offset="1" stop-color="rgb(101, 155, 200)"/></linearGradient><linearGradient id="w65" gradientUnits="userSpaceOnUse" x1="0" y1="345.4" x2="0" y2="432.5"><stop offset="0" stop-color="rgb(230, 243, 239)"/><stop offset="0.2" stop-color="rgb(232, 244, 236)"/><stop offset="0.4" stop-color="rgb(211, 237, 244)"/><stop offset="0.6" stop-color="rgb(170, 217, 233)"/><stop offset="0.8" stop-color="rgb(129, 184, 215)"/><stop offset="1" stop-color="rgb(101, 155, 200)"/></linearGradient><linearGradient id="w66" gradientUnits="userSpaceOnUse" x1="0" y1="345.4" x2="0" y2="433.4"><stop offset="0" stop-color="rgb(230, 243, 239)"/><stop offset="0.2" stop-color="rgb(232, 244, 236)"/><stop offset="0.4" stop-color="rgb(212, 237, 245)"/><stop offset="0.6" stop-color="rgb(171, 217, 233)"/><stop offset="0.8" stop-color="rgb(129, 184, 215)"/><stop offset="1" stop-color="rgb(101, 155, 200)"/></linearGradient><linearGradient id="w67" gradientUnits="userSpaceOnUse" x1="0" y1="345.3" x2="0" y2="433.2"><stop offset="0" stop-color="rgb(231, 244, 238)"/><stop offset="0.2" stop-color="rgb(234, 244, 234)"/><stop offset="0.4" stop-color="rgb(215, 239, 246)"/><stop offset="0.6" stop-color="rgb(174, 219, 234)"/><stop offset="0.8" stop-color="rgb(132, 186, 216)"/><stop offset="1" stop-color="rgb(103, 158, 201)"/></linearGradient><linearGradient id="w68" gradientUnits="userSpaceOnUse" x1="0" y1="344.6" x2="0" y2="433.3"><stop offset="0" stop-color="rgb(233, 244, 236)"/><stop offset="0.2" stop-color="rgb(235, 244, 232)"/><stop offset="0.4" stop-color="rgb(219, 241, 247)"/><stop offset="0.6" stop-color="rgb(179, 221, 235)"/><stop offset="0.8" stop-color="rgb(137, 190, 218)"/><stop offset="1" stop-color="rgb(108, 163, 204)"/></linearGradient><linearGradient id="w69" gradientUnits="userSpaceOnUse" x1="0" y1="344.7" x2="0" y2="435.0"><stop offset="0" stop-color="rgb(232, 244, 237)"/><stop offset="0.2" stop-color="rgb(235, 244, 233)"/><stop offset="0.4" stop-color="rgb(217, 240, 246)"/><stop offset="0.6" stop-color="rgb(175, 219, 234)"/><stop offset="0.8" stop-color="rgb(133, 186, 216)"/><stop offset="1" stop-color="rgb(103, 157, 201)"/></linearGradient><linearGradient id="w70" gradientUnits="userSpaceOnUse" x1="0" y1="344.1" x2="0" y2="436.8"><stop offset="0" stop-color="rgb(231, 244, 237)"/><stop offset="0.2" stop-color="rgb(234, 244, 234)"/><stop offset="0.4" stop-color="rgb(216, 239, 246)"/><stop offset="0.6" stop-color="rgb(173, 218, 234)"/><stop offset="0.8" stop-color="rgb(129, 183, 215)"/><stop offset="1" stop-color="rgb(98, 152, 198)"/></linearGradient><linearGradient id="w71" gradientUnits="userSpaceOnUse" x1="0" y1="342.5" x2="0" y2="438.2"><stop offset="0" stop-color="rgb(231, 244, 238)"/><stop offset="0.2" stop-color="rgb(233, 244, 235)"/><stop offset="0.4" stop-color="rgb(214, 238, 245)"/><stop offset="0.6" stop-color="rgb(171, 217, 233)"/><stop offset="0.8" stop-color="rgb(125, 180, 213)"/><stop offset="1" stop-color="rgb(95, 148, 196)"/></linearGradient><linearGradient id="w72" gradientUnits="userSpaceOnUse" x1="0" y1="342.9" x2="0" y2="439.1"><stop offset="0" stop-color="rgb(231, 243, 238)"/><stop offset="0.2" stop-color="rgb(233, 244, 235)"/><stop offset="0.4" stop-color="rgb(214, 238, 245)"/><stop offset="0.6" stop-color="rgb(170, 216, 232)"/><stop offset="0.8" stop-color="rgb(124, 179, 212)"/><stop offset="1" stop-color="rgb(93, 146, 195)"/></linearGradient><linearGradient id="w73" gradientUnits="userSpaceOnUse" x1="0" y1="343.0" x2="0" y2="439.4"><stop offset="0" stop-color="rgb(232, 244, 236)"/><stop offset="0.2" stop-color="rgb(235, 244, 232)"/><stop offset="0.4" stop-color="rgb(219, 241, 247)"/><stop offset="0.6" stop-color="rgb(176, 220, 234)"/><stop offset="0.8" stop-color="rgb(131, 185, 216)"/><stop offset="1" stop-color="rgb(100, 154, 199)"/></linearGradient><linearGradient id="w74" gradientUnits="userSpaceOnUse" x1="0" y1="343.5" x2="0" y2="438.4"><stop offset="0" stop-color="rgb(232, 244, 236)"/><stop offset="0.2" stop-color="rgb(235, 244, 232)"/><stop offset="0.4" stop-color="rgb(219, 240, 246)"/><stop offset="0.6" stop-color="rgb(176, 219, 234)"/><stop offset="0.8" stop-color="rgb(130, 184, 215)"/><stop offset="1" stop-color="rgb(98, 152, 198)"/></linearGradient><linearGradient id="w75" gradientUnits="userSpaceOnUse" x1="0" y1="342.3" x2="0" y2="440.4"><stop offset="0" stop-color="rgb(232, 244, 237)"/><stop offset="0.2" stop-color="rgb(234, 244, 233)"/><stop offset="0.4" stop-color="rgb(217, 239, 246)"/><stop offset="0.6" stop-color="rgb(173, 218, 234)"/><stop offset="0.8" stop-color="rgb(127, 181, 214)"/><stop offset="1" stop-color="rgb(95, 147, 196)"/></linearGradient><linearGradient id="w76" gradientUnits="userSpaceOnUse" x1="0" y1="341.3" x2="0" y2="440.5"><stop offset="0" stop-color="rgb(232, 244, 237)"/><stop offset="0.2" stop-color="rgb(234, 244, 234)"/><stop offset="0.4" stop-color="rgb(216, 239, 246)"/><stop offset="0.6" stop-color="rgb(172, 217, 233)"/><stop offset="0.8" stop-color="rgb(125, 180, 213)"/><stop offset="1" stop-color="rgb(92, 145, 194)"/></linearGradient><linearGradient id="w77" gradientUnits="userSpaceOnUse" x1="0" y1="340.3" x2="0" y2="443.8"><stop offset="0" stop-color="rgb(232, 244, 237)"/><stop offset="0.2" stop-color="rgb(234, 244, 233)"/><stop offset="0.4" stop-color="rgb(217, 240, 246)"/><stop offset="0.6" stop-color="rgb(174, 218, 234)"/><stop offset="0.8" stop-color="rgb(126, 181, 213)"/><stop offset="1" stop-color="rgb(94, 146, 195)"/></linearGradient><linearGradient id="w78" gradientUnits="userSpaceOnUse" x1="0" y1="338.8" x2="0" y2="442.8"><stop offset="0" stop-color="rgb(232, 244, 236)"/><stop offset="0.2" stop-color="rgb(235, 244, 232)"/><stop offset="0.4" stop-color="rgb(219, 241, 247)"/><stop offset="0.6" stop-color="rgb(175, 219, 234)"/><stop offset="0.8" stop-color="rgb(128, 183, 214)"/><stop offset="1" stop-color="rgb(95, 148, 196)"/></linearGradient><linearGradient id="w79" gradientUnits="userSpaceOnUse" x1="0" y1="337.9" x2="0" y2="444.4"><stop offset="0" stop-color="rgb(234, 244, 234)"/><stop offset="0.2" stop-color="rgb(237, 244, 230)"/><stop offset="0.4" stop-color="rgb(224, 243, 248)"/><stop offset="0.6" stop-color="rgb(181, 222, 236)"/><stop offset="0.8" stop-color="rgb(134, 187, 217)"/><stop offset="1" stop-color="rgb(101, 155, 200)"/></linearGradient><linearGradient id="w80" gradientUnits="userSpaceOnUse" x1="0" y1="337.4" x2="0" y2="446.0"><stop offset="0" stop-color="rgb(233, 244, 235)"/><stop offset="0.2" stop-color="rgb(236, 244, 231)"/><stop offset="0.4" stop-color="rgb(221, 242, 247)"/><stop offset="0.6" stop-color="rgb(177, 220, 235)"/><stop offset="0.8" stop-color="rgb(130, 184, 215)"/><stop offset="1" stop-color="rgb(96, 149, 197)"/></linearGradient><linearGradient id="w81" gradientUnits="userSpaceOnUse" x1="0" y1="337.0" x2="0" y2="444.5"><stop offset="0" stop-color="rgb(234, 244, 234)"/><stop offset="0.2" stop-color="rgb(237, 244, 230)"/><stop offset="0.4" stop-color="rgb(224, 243, 248)"/><stop offset="0.6" stop-color="rgb(181, 222, 236)"/><stop offset="0.8" stop-color="rgb(133, 187, 216)"/><stop offset="1" stop-color="rgb(99, 153, 199)"/></linearGradient><linearGradient id="w82" gradientUnits="userSpaceOnUse" x1="0" y1="336.9" x2="0" y2="442.5"><stop offset="0" stop-color="rgb(234, 244, 234)"/><stop offset="0.2" stop-color="rgb(237, 244, 230)"/><stop offset="0.4" stop-color="rgb(224, 243, 248)"/><stop offset="0.6" stop-color="rgb(180, 222, 236)"/><stop offset="0.8" stop-color="rgb(132, 186, 216)"/><stop offset="1" stop-color="rgb(98, 152, 198)"/></linearGradient><linearGradient id="w83" gradientUnits="userSpaceOnUse" x1="0" y1="337.7" x2="0" y2="443.3"><stop offset="0" stop-color="rgb(233, 244, 235)"/><stop offset="0.2" stop-color="rgb(236, 244, 230)"/><stop offset="0.4" stop-color="rgb(223, 242, 248)"/><stop offset="0.6" stop-color="rgb(179, 221, 235)"/><stop offset="0.8" stop-color="rgb(130, 184, 215)"/><stop offset="1" stop-color="rgb(95, 148, 196)"/></linearGradient><linearGradient id="w84" gradientUnits="userSpaceOnUse" x1="0" y1="336.3" x2="0" y2="444.2"><stop offset="0" stop-color="rgb(234, 244, 234)"/><stop offset="0.2" stop-color="rgb(237, 244, 229)"/><stop offset="0.4" stop-color="rgb(224, 243, 247)"/><stop offset="0.6" stop-color="rgb(181, 222, 236)"/><stop offset="0.8" stop-color="rgb(133, 186, 216)"/><stop offset="1" stop-color="rgb(98, 151, 198)"/></linearGradient><linearGradient id="w85" gradientUnits="userSpaceOnUse" x1="0" y1="335.5" x2="0" y2="447.8"><stop offset="0" stop-color="rgb(234, 244, 234)"/><stop offset="0.2" stop-color="rgb(237, 244, 230)"/><stop offset="0.4" stop-color="rgb(224, 243, 248)"/><stop offset="0.6" stop-color="rgb(180, 221, 235)"/><stop offset="0.8" stop-color="rgb(130, 184, 215)"/><stop offset="1" stop-color="rgb(95, 148, 196)"/></linearGradient><linearGradient id="w86" gradientUnits="userSpaceOnUse" x1="0" y1="335.5" x2="0" y2="447.6"><stop offset="0" stop-color="rgb(233, 244, 235)"/><stop offset="0.2" stop-color="rgb(236, 244, 231)"/><stop offset="0.4" stop-color="rgb(222, 242, 247)"/><stop offset="0.6" stop-color="rgb(177, 220, 235)"/><stop offset="0.8" stop-color="rgb(127, 182, 214)"/><stop offset="1" stop-color="rgb(91, 144, 194)"/></linearGradient><linearGradient id="w87" gradientUnits="userSpaceOnUse" x1="0" y1="334.8" x2="0" y2="448.9"><stop offset="0" stop-color="rgb(232, 244, 236)"/><stop offset="0.2" stop-color="rgb(235, 244, 232)"/><stop offset="0.4" stop-color="rgb(219, 241, 247)"/><stop offset="0.6" stop-color="rgb(174, 219, 234)"/><stop offset="0.8" stop-color="rgb(123, 178, 212)"/><stop offset="1" stop-color="rgb(87, 138, 191)"/></linearGradient><linearGradient id="w88" gradientUnits="userSpaceOnUse" x1="0" y1="334.3" x2="0" y2="448.8"><stop offset="0" stop-color="rgb(233, 244, 236)"/><stop offset="0.2" stop-color="rgb(235, 244, 232)"/><stop offset="0.4" stop-color="rgb(220, 241, 247)"/><stop offset="0.6" stop-color="rgb(174, 219, 234)"/><stop offset="0.8" stop-color="rgb(122, 178, 212)"/><stop offset="1" stop-color="rgb(86, 138, 191)"/></linearGradient><linearGradient id="w89" gradientUnits="userSpaceOnUse" x1="0" y1="334.2" x2="0" y2="451.7"><stop offset="0" stop-color="rgb(233, 244, 235)"/><stop offset="0.2" stop-color="rgb(236, 244, 231)"/><stop offset="0.4" stop-color="rgb(221, 242, 247)"/><stop offset="0.6" stop-color="rgb(176, 220, 234)"/><stop offset="0.8" stop-color="rgb(124, 180, 213)"/><stop offset="1" stop-color="rgb(88, 139, 192)"/></linearGradient><linearGradient id="w90" gradientUnits="userSpaceOnUse" x1="0" y1="333.6" x2="0" y2="454.7"><stop offset="0" stop-color="rgb(232, 244, 236)"/><stop offset="0.2" stop-color="rgb(235, 244, 233)"/><stop offset="0.4" stop-color="rgb(219, 240, 247)"/><stop offset="0.6" stop-color="rgb(173, 218, 234)"/><stop offset="0.8" stop-color="rgb(120, 176, 211)"/><stop offset="1" stop-color="rgb(83, 134, 189)"/></linearGradient><linearGradient id="w91" gradientUnits="userSpaceOnUse" x1="0" y1="334.6" x2="0" y2="456.7"><stop offset="0" stop-color="rgb(233, 244, 235)"/><stop offset="0.2" stop-color="rgb(235, 244, 232)"/><stop offset="0.4" stop-color="rgb(221, 242, 247)"/><stop offset="0.6" stop-color="rgb(175, 219, 234)"/><stop offset="0.8" stop-color="rgb(122, 178, 212)"/><stop offset="1" stop-color="rgb(85, 136, 190)"/></linearGradient><linearGradient id="w92" gradientUnits="userSpaceOnUse" x1="0" y1="335.4" x2="0" y2="456.1"><stop offset="0" stop-color="rgb(233, 244, 235)"/><stop offset="0.2" stop-color="rgb(236, 244, 231)"/><stop offset="0.4" stop-color="rgb(222, 242, 247)"/><stop offset="0.6" stop-color="rgb(176, 220, 234)"/><stop offset="0.8" stop-color="rgb(123, 179, 212)"/><stop offset="1" stop-color="rgb(86, 137, 190)"/></linearGradient><linearGradient id="w93" gradientUnits="userSpaceOnUse" x1="0" y1="334.4" x2="0" y2="458.1"><stop offset="0" stop-color="rgb(234, 244, 234)"/><stop offset="0.2" stop-color="rgb(236, 244, 231)"/><stop offset="0.4" stop-color="rgb(223, 243, 248)"/><stop offset="0.6" stop-color="rgb(178, 220, 235)"/><stop offset="0.8" stop-color="rgb(124, 180, 213)"/><stop offset="1" stop-color="rgb(87, 138, 191)"/></linearGradient><linearGradient id="w94" gradientUnits="userSpaceOnUse" x1="0" y1="334.2" x2="0" y2="460.3"><stop offset="0" stop-color="rgb(235, 244, 233)"/><stop offset="0.2" stop-color="rgb(238, 244, 229)"/><stop offset="0.4" stop-color="rgb(225, 243, 246)"/><stop offset="0.6" stop-color="rgb(181, 222, 236)"/><stop offset="0.8" stop-color="rgb(129, 183, 214)"/><stop offset="1" stop-color="rgb(91, 143, 193)"/></linearGradient><linearGradient id="w95" gradientUnits="userSpaceOnUse" x1="0" y1="334.0" x2="0" y2="461.1"><stop offset="0" stop-color="rgb(234, 244, 234)"/><stop offset="0.2" stop-color="rgb(237, 244, 230)"/><stop offset="0.4" stop-color="rgb(225, 243, 247)"/><stop offset="0.6" stop-color="rgb(179, 221, 235)"/><stop offset="0.8" stop-color="rgb(126, 181, 213)"/><stop offset="1" stop-color="rgb(87, 139, 191)"/></linearGradient><linearGradient id="w96" gradientUnits="userSpaceOnUse" x1="0" y1="332.0" x2="0" y2="463.1"><stop offset="0" stop-color="rgb(234, 244, 234)"/><stop offset="0.2" stop-color="rgb(236, 244, 231)"/><stop offset="0.4" stop-color="rgb(224, 243, 248)"/><stop offset="0.6" stop-color="rgb(177, 220, 235)"/><stop offset="0.8" stop-color="rgb(123, 178, 212)"/><stop offset="1" stop-color="rgb(84, 135, 189)"/></linearGradient><linearGradient id="w97" gradientUnits="userSpaceOnUse" x1="0" y1="331.1" x2="0" y2="461.9"><stop offset="0" stop-color="rgb(235, 244, 233)"/><stop offset="0.2" stop-color="rgb(238, 244, 228)"/><stop offset="0.4" stop-color="rgb(226, 243, 245)"/><stop offset="0.6" stop-color="rgb(182, 222, 236)"/><stop offset="0.8" stop-color="rgb(128, 182, 214)"/><stop offset="1" stop-color="rgb(89, 141, 192)"/></linearGradient><linearGradient id="w98" gradientUnits="userSpaceOnUse" x1="0" y1="331.7" x2="0" y2="461.8"><stop offset="0" stop-color="rgb(234, 244, 233)"/><stop offset="0.2" stop-color="rgb(237, 244, 230)"/><stop offset="0.4" stop-color="rgb(225, 243, 247)"/><stop offset="0.6" stop-color="rgb(179, 221, 235)"/><stop offset="0.8" stop-color="rgb(124, 179, 213)"/><stop offset="1" stop-color="rgb(85, 136, 190)"/></linearGradient><linearGradient id="w99" gradientUnits="userSpaceOnUse" x1="0" y1="331.3" x2="0" y2="460.3"><stop offset="0" stop-color="rgb(234, 244, 234)"/><stop offset="0.2" stop-color="rgb(236, 244, 230)"/><stop offset="0.4" stop-color="rgb(224, 243, 248)"/><stop offset="0.6" stop-color="rgb(177, 220, 235)"/><stop offset="0.8" stop-color="rgb(121, 177, 211)"/><stop offset="1" stop-color="rgb(82, 132, 188)"/></linearGradient><linearGradient id="w100" gradientUnits="userSpaceOnUse" x1="0" y1="332.2" x2="0" y2="461.4"><stop offset="0" stop-color="rgb(234, 244, 234)"/><stop offset="0.2" stop-color="rgb(236, 244, 231)"/><stop offset="0.4" stop-color="rgb(223, 243, 248)"/><stop offset="0.6" stop-color="rgb(176, 220, 234)"/><stop offset="0.8" stop-color="rgb(120, 176, 211)"/><stop offset="1" stop-color="rgb(80, 130, 187)"/></linearGradient><linearGradient id="w101" gradientUnits="userSpaceOnUse" x1="0" y1="332.4" x2="0" y2="459.9"><stop offset="0" stop-color="rgb(233, 244, 235)"/><stop offset="0.2" stop-color="rgb(235, 244, 232)"/><stop offset="0.4" stop-color="rgb(221, 242, 247)"/><stop offset="0.6" stop-color="rgb(173, 218, 234)"/><stop offset="0.8" stop-color="rgb(116, 172, 209)"/><stop offset="1" stop-color="rgb(75, 125, 184)"/></linearGradient><linearGradient id="w102" gradientUnits="userSpaceOnUse" x1="0" y1="330.8" x2="0" y2="459.2"><stop offset="0" stop-color="rgb(233, 244, 235)"/><stop offset="0.2" stop-color="rgb(235, 244, 232)"/><stop offset="0.4" stop-color="rgb(221, 242, 247)"/><stop offset="0.6" stop-color="rgb(173, 218, 234)"/><stop offset="0.8" stop-color="rgb(115, 172, 209)"/><stop offset="1" stop-color="rgb(75, 124, 184)"/></linearGradient><linearGradient id="w103" gradientUnits="userSpaceOnUse" x1="0" y1="330.1" x2="0" y2="456.9"><stop offset="0" stop-color="rgb(233, 244, 236)"/><stop offset="0.2" stop-color="rgb(235, 244, 233)"/><stop offset="0.4" stop-color="rgb(221, 241, 247)"/><stop offset="0.6" stop-color="rgb(173, 218, 233)"/><stop offset="0.8" stop-color="rgb(114, 171, 208)"/><stop offset="1" stop-color="rgb(73, 122, 183)"/></linearGradient><linearGradient id="w104" gradientUnits="userSpaceOnUse" x1="0" y1="329.3" x2="0" y2="456.8"><stop offset="0" stop-color="rgb(233, 244, 235)"/><stop offset="0.2" stop-color="rgb(235, 244, 232)"/><stop offset="0.4" stop-color="rgb(222, 242, 247)"/><stop offset="0.6" stop-color="rgb(173, 218, 234)"/><stop offset="0.8" stop-color="rgb(115, 171, 208)"/><stop offset="1" stop-color="rgb(73, 122, 183)"/></linearGradient><linearGradient id="w105" gradientUnits="userSpaceOnUse" x1="0" y1="329.2" x2="0" y2="456.5"><stop offset="0" stop-color="rgb(234, 244, 234)"/><stop offset="0.2" stop-color="rgb(237, 244, 230)"/><stop offset="0.4" stop-color="rgb(225, 243, 247)"/><stop offset="0.6" stop-color="rgb(178, 220, 235)"/><stop offset="0.8" stop-color="rgb(119, 176, 210)"/><stop offset="1" stop-color="rgb(78, 128, 186)"/></linearGradient><linearGradient id="w106" gradientUnits="userSpaceOnUse" x1="0" y1="329.3" x2="0" y2="457.3"><stop offset="0" stop-color="rgb(234, 244, 234)"/><stop offset="0.2" stop-color="rgb(237, 244, 230)"/><stop offset="0.4" stop-color="rgb(225, 243, 247)"/><stop offset="0.6" stop-color="rgb(178, 220, 235)"/><stop offset="0.8" stop-color="rgb(119, 175, 210)"/><stop offset="1" stop-color="rgb(77, 126, 185)"/></linearGradient><linearGradient id="w107" gradientUnits="userSpaceOnUse" x1="0" y1="329.8" x2="0" y2="455.4"><stop offset="0" stop-color="rgb(235, 244, 233)"/><stop offset="0.2" stop-color="rgb(238, 244, 229)"/><stop offset="0.4" stop-color="rgb(226, 243, 245)"/><stop offset="0.6" stop-color="rgb(180, 222, 236)"/><stop offset="0.8" stop-color="rgb(122, 177, 211)"/><stop offset="1" stop-color="rgb(80, 130, 187)"/></linearGradient><linearGradient id="w108" gradientUnits="userSpaceOnUse" x1="0" y1="327.3" x2="0" y2="456.4"><stop offset="0" stop-color="rgb(235, 244, 232)"/><stop offset="0.2" stop-color="rgb(238, 244, 228)"/><stop offset="0.4" stop-color="rgb(227, 243, 244)"/><stop offset="0.6" stop-color="rgb(182, 222, 236)"/><stop offset="0.8" stop-color="rgb(123, 179, 212)"/><stop offset="1" stop-color="rgb(81, 131, 187)"/></linearGradient><linearGradient id="w109" gradientUnits="userSpaceOnUse" x1="0" y1="327.5" x2="0" y2="457.3"><stop offset="0" stop-color="rgb(235, 244, 232)"/><stop offset="0.2" stop-color="rgb(238, 244, 228)"/><stop offset="0.4" stop-color="rgb(227, 243, 244)"/><stop offset="0.6" stop-color="rgb(182, 222, 236)"/><stop offset="0.8" stop-color="rgb(123, 178, 212)"/><stop offset="1" stop-color="rgb(80, 130, 187)"/></linearGradient><linearGradient id="w110" gradientUnits="userSpaceOnUse" x1="0" y1="326.6" x2="0" y2="458.2"><stop offset="0" stop-color="rgb(236, 244, 231)"/><stop offset="0.2" stop-color="rgb(239, 244, 226)"/><stop offset="0.4" stop-color="rgb(228, 243, 242)"/><stop offset="0.6" stop-color="rgb(185, 224, 237)"/><stop offset="0.8" stop-color="rgb(126, 181, 213)"/><stop offset="1" stop-color="rgb(83, 134, 189)"/></linearGradient><linearGradient id="w111" gradientUnits="userSpaceOnUse" x1="0" y1="326.1" x2="0" y2="459.1"><stop offset="0" stop-color="rgb(236, 244, 231)"/><stop offset="0.2" stop-color="rgb(239, 244, 226)"/><stop offset="0.4" stop-color="rgb(228, 243, 242)"/><stop offset="0.6" stop-color="rgb(185, 224, 237)"/><stop offset="0.8" stop-color="rgb(126, 181, 213)"/><stop offset="1" stop-color="rgb(83, 134, 189)"/></linearGradient><linearGradient id="w112" gradientUnits="userSpaceOnUse" x1="0" y1="324.6" x2="0" y2="456.8"><stop offset="0" stop-color="rgb(235, 244, 232)"/><stop offset="0.2" stop-color="rgb(238, 244, 228)"/><stop offset="0.4" stop-color="rgb(227, 243, 244)"/><stop offset="0.6" stop-color="rgb(182, 223, 236)"/><stop offset="0.8" stop-color="rgb(123, 178, 212)"/><stop offset="1" stop-color="rgb(80, 130, 187)"/></linearGradient><linearGradient id="w113" gradientUnits="userSpaceOnUse" x1="0" y1="323.2" x2="0" y2="457.9"><stop offset="0" stop-color="rgb(236, 244, 231)"/><stop offset="0.2" stop-color="rgb(239, 244, 227)"/><stop offset="0.4" stop-color="rgb(227, 243, 243)"/><stop offset="0.6" stop-color="rgb(183, 223, 236)"/><stop offset="0.8" stop-color="rgb(124, 179, 212)"/><stop offset="1" stop-color="rgb(81, 131, 187)"/></linearGradient><linearGradient id="w114" gradientUnits="userSpaceOnUse" x1="0" y1="323.6" x2="0" y2="458.1"><stop offset="0" stop-color="rgb(234, 244, 233)"/><stop offset="0.2" stop-color="rgb(237, 244, 230)"/><stop offset="0.4" stop-color="rgb(225, 243, 247)"/><stop offset="0.6" stop-color="rgb(177, 220, 235)"/><stop offset="0.8" stop-color="rgb(117, 174, 210)"/><stop offset="1" stop-color="rgb(75, 124, 183)"/></linearGradient><linearGradient id="w115" gradientUnits="userSpaceOnUse" x1="0" y1="323.9" x2="0" y2="458.6"><stop offset="0" stop-color="rgb(235, 244, 233)"/><stop offset="0.2" stop-color="rgb(237, 244, 229)"/><stop offset="0.4" stop-color="rgb(226, 243, 246)"/><stop offset="0.6" stop-color="rgb(179, 221, 235)"/><stop offset="0.8" stop-color="rgb(119, 176, 210)"/><stop offset="1" stop-color="rgb(77, 126, 185)"/></linearGradient><linearGradient id="w116" gradientUnits="userSpaceOnUse" x1="0" y1="323.4" x2="0" y2="456.6"><stop offset="0" stop-color="rgb(234, 244, 233)"/><stop offset="0.2" stop-color="rgb(237, 244, 230)"/><stop offset="0.4" stop-color="rgb(225, 243, 247)"/><stop offset="0.6" stop-color="rgb(177, 220, 235)"/><stop offset="0.8" stop-color="rgb(117, 174, 210)"/><stop offset="1" stop-color="rgb(75, 124, 184)"/></linearGradient><linearGradient id="w117" gradientUnits="userSpaceOnUse" x1="0" y1="321.3" x2="0" y2="455.8"><stop offset="0" stop-color="rgb(234, 244, 234)"/><stop offset="0.2" stop-color="rgb(236, 244, 230)"/><stop offset="0.4" stop-color="rgb(224, 243, 248)"/><stop offset="0.6" stop-color="rgb(176, 219, 234)"/><stop offset="0.8" stop-color="rgb(116, 173, 209)"/><stop offset="1" stop-color="rgb(74, 123, 183)"/></linearGradient><linearGradient id="w118" gradientUnits="userSpaceOnUse" x1="0" y1="321.9" x2="0" y2="457.8"><stop offset="0" stop-color="rgb(234, 244, 233)"/><stop offset="0.2" stop-color="rgb(237, 244, 230)"/><stop offset="0.4" stop-color="rgb(224, 243, 247)"/><stop offset="0.6" stop-color="rgb(176, 220, 235)"/><stop offset="0.8" stop-color="rgb(117, 174, 209)"/><stop offset="1" stop-color="rgb(75, 124, 184)"/></linearGradient><linearGradient id="w119" gradientUnits="userSpaceOnUse" x1="0" y1="321.3" x2="0" y2="458.7"><stop offset="0" stop-color="rgb(235, 244, 232)"/><stop offset="0.2" stop-color="rgb(238, 244, 229)"/><stop offset="0.4" stop-color="rgb(225, 243, 246)"/><stop offset="0.6" stop-color="rgb(179, 221, 235)"/><stop offset="0.8" stop-color="rgb(120, 176, 211)"/><stop offset="1" stop-color="rgb(78, 128, 186)"/></linearGradient><linearGradient id="w120" gradientUnits="userSpaceOnUse" x1="0" y1="321.2" x2="0" y2="457.4"><stop offset="0" stop-color="rgb(234, 244, 233)"/><stop offset="0.2" stop-color="rgb(237, 244, 229)"/><stop offset="0.4" stop-color="rgb(225, 243, 247)"/><stop offset="0.6" stop-color="rgb(177, 220, 235)"/><stop offset="0.8" stop-color="rgb(118, 174, 210)"/><stop offset="1" stop-color="rgb(76, 126, 184)"/></linearGradient><linearGradient id="w121" gradientUnits="userSpaceOnUse" x1="0" y1="321.2" x2="0" y2="457.2"><stop offset="0" stop-color="rgb(234, 244, 234)"/><stop offset="0.2" stop-color="rgb(236, 244, 231)"/><stop offset="0.4" stop-color="rgb(222, 242, 247)"/><stop offset="0.6" stop-color="rgb(173, 218, 234)"/><stop offset="0.8" stop-color="rgb(114, 171, 208)"/><stop offset="1" stop-color="rgb(72, 121, 182)"/></linearGradient><linearGradient id="w122" gradientUnits="userSpaceOnUse" x1="0" y1="319.3" x2="0" y2="457.1"><stop offset="0" stop-color="rgb(235, 244, 233)"/><stop offset="0.2" stop-color="rgb(237, 244, 229)"/><stop offset="0.4" stop-color="rgb(225, 243, 247)"/><stop offset="0.6" stop-color="rgb(178, 220, 235)"/><stop offset="0.8" stop-color="rgb(119, 175, 210)"/><stop offset="1" stop-color="rgb(78, 127, 185)"/></linearGradient><linearGradient id="w123" gradientUnits="userSpaceOnUse" x1="0" y1="319.7" x2="0" y2="457.2"><stop offset="0" stop-color="rgb(235, 244, 233)"/><stop offset="0.2" stop-color="rgb(237, 244, 229)"/><stop offset="0.4" stop-color="rgb(225, 243, 247)"/><stop offset="0.6" stop-color="rgb(178, 220, 235)"/><stop offset="0.8" stop-color="rgb(120, 176, 211)"/><stop offset="1" stop-color="rgb(78, 128, 186)"/></linearGradient><linearGradient id="w124" gradientUnits="userSpaceOnUse" x1="0" y1="319.2" x2="0" y2="456.8"><stop offset="0" stop-color="rgb(234, 244, 233)"/><stop offset="0.2" stop-color="rgb(237, 244, 230)"/><stop offset="0.4" stop-color="rgb(224, 243, 248)"/><stop offset="0.6" stop-color="rgb(175, 219, 234)"/><stop offset="0.8" stop-color="rgb(117, 174, 209)"/><stop offset="1" stop-color="rgb(76, 125, 184)"/></linearGradient><linearGradient id="w125" gradientUnits="userSpaceOnUse" x1="0" y1="320.0" x2="0" y2="461.6"><stop offset="0" stop-color="rgb(235, 244, 232)"/><stop offset="0.2" stop-color="rgb(238, 244, 228)"/><stop offset="0.4" stop-color="rgb(226, 243, 245)"/><stop offset="0.6" stop-color="rgb(180, 221, 235)"/><stop offset="0.8" stop-color="rgb(122, 178, 212)"/><stop offset="1" stop-color="rgb(82, 132, 188)"/></linearGradient><linearGradient id="w126" gradientUnits="userSpaceOnUse" x1="0" y1="320.2" x2="0" y2="461.6"><stop offset="0" stop-color="rgb(235, 244, 233)"/><stop offset="0.2" stop-color="rgb(237, 244, 229)"/><stop offset="0.4" stop-color="rgb(224, 243, 247)"/><stop offset="0.6" stop-color="rgb(177, 220, 235)"/><stop offset="0.8" stop-color="rgb(119, 175, 210)"/><stop offset="1" stop-color="rgb(78, 128, 186)"/></linearGradient><linearGradient id="w127" gradientUnits="userSpaceOnUse" x1="0" y1="320.1" x2="0" y2="460.7"><stop offset="0" stop-color="rgb(234, 244, 234)"/><stop offset="0.2" stop-color="rgb(236, 244, 230)"/><stop offset="0.4" stop-color="rgb(223, 242, 248)"/><stop offset="0.6" stop-color="rgb(174, 218, 234)"/><stop offset="0.8" stop-color="rgb(116, 173, 209)"/><stop offset="1" stop-color="rgb(75, 125, 184)"/></linearGradient><linearGradient id="w128" gradientUnits="userSpaceOnUse" x1="0" y1="318.7" x2="0" y2="461.6"><stop offset="0" stop-color="rgb(235, 244, 232)"/><stop offset="0.2" stop-color="rgb(238, 244, 228)"/><stop offset="0.4" stop-color="rgb(225, 243, 246)"/><stop offset="0.6" stop-color="rgb(179, 221, 235)"/><stop offset="0.8" stop-color="rgb(122, 178, 211)"/><stop offset="1" stop-color="rgb(81, 132, 188)"/></linearGradient><linearGradient id="w129" gradientUnits="userSpaceOnUse" x1="0" y1="317.8" x2="0" y2="462.0"><stop offset="0" stop-color="rgb(235, 244, 233)"/><stop offset="0.2" stop-color="rgb(237, 244, 229)"/><stop offset="0.4" stop-color="rgb(224, 243, 248)"/><stop offset="0.6" stop-color="rgb(176, 219, 234)"/><stop offset="0.8" stop-color="rgb(119, 175, 210)"/><stop offset="1" stop-color="rgb(78, 128, 186)"/></linearGradient><linearGradient id="w130" gradientUnits="userSpaceOnUse" x1="0" y1="318.1" x2="0" y2="461.7"><stop offset="0" stop-color="rgb(235, 244, 233)"/><stop offset="0.2" stop-color="rgb(237, 244, 229)"/><stop offset="0.4" stop-color="rgb(224, 243, 248)"/><stop offset="0.6" stop-color="rgb(177, 220, 235)"/><stop offset="0.8" stop-color="rgb(120, 176, 211)"/><stop offset="1" stop-color="rgb(80, 130, 187)"/></linearGradient><linearGradient id="w131" gradientUnits="userSpaceOnUse" x1="0" y1="316.9" x2="0" y2="459.8"><stop offset="0" stop-color="rgb(235, 244, 233)"/><stop offset="0.2" stop-color="rgb(237, 244, 229)"/><stop offset="0.4" stop-color="rgb(224, 243, 248)"/><stop offset="0.6" stop-color="rgb(176, 219, 234)"/><stop offset="0.8" stop-color="rgb(119, 175, 210)"/><stop offset="1" stop-color="rgb(79, 129, 186)"/></linearGradient><linearGradient id="w132" gradientUnits="userSpaceOnUse" x1="0" y1="315.8" x2="0" y2="462.8"><stop offset="0" stop-color="rgb(236, 244, 231)"/><stop offset="0.2" stop-color="rgb(239, 244, 227)"/><stop offset="0.4" stop-color="rgb(226, 243, 246)"/><stop offset="0.6" stop-color="rgb(180, 221, 235)"/><stop offset="0.8" stop-color="rgb(124, 179, 212)"/><stop offset="1" stop-color="rgb(84, 135, 189)"/></linearGradient><linearGradient id="w133" gradientUnits="userSpaceOnUse" x1="0" y1="314.8" x2="0" y2="462.4"><stop offset="0" stop-color="rgb(236, 244, 230)"/><stop offset="0.2" stop-color="rgb(240, 244, 226)"/><stop offset="0.4" stop-color="rgb(227, 243, 244)"/><stop offset="0.6" stop-color="rgb(182, 223, 236)"/><stop offset="0.8" stop-color="rgb(127, 182, 214)"/><stop offset="1" stop-color="rgb(88, 139, 192)"/></linearGradient><linearGradient id="w134" gradientUnits="userSpaceOnUse" x1="0" y1="314.9" x2="0" y2="460.1"><stop offset="0" stop-color="rgb(237, 244, 229)"/><stop offset="0.2" stop-color="rgb(241, 244, 224)"/><stop offset="0.4" stop-color="rgb(228, 243, 242)"/><stop offset="0.6" stop-color="rgb(185, 224, 237)"/><stop offset="0.8" stop-color="rgb(131, 185, 215)"/><stop offset="1" stop-color="rgb(91, 143, 194)"/></linearGradient><linearGradient id="w135" gradientUnits="userSpaceOnUse" x1="0" y1="315.9" x2="0" y2="457.8"><stop offset="0" stop-color="rgb(236, 244, 231)"/><stop offset="0.2" stop-color="rgb(239, 244, 227)"/><stop offset="0.4" stop-color="rgb(226, 243, 246)"/><stop offset="0.6" stop-color="rgb(180, 221, 235)"/><stop offset="0.8" stop-color="rgb(124, 180, 213)"/><stop offset="1" stop-color="rgb(85, 136, 190)"/></linearGradient><linearGradient id="w136" gradientUnits="userSpaceOnUse" x1="0" y1="315.0" x2="0" y2="454.9"><stop offset="0" stop-color="rgb(235, 244, 232)"/><stop offset="0.2" stop-color="rgb(238, 244, 228)"/><stop offset="0.4" stop-color="rgb(224, 243, 248)"/><stop offset="0.6" stop-color="rgb(177, 220, 235)"/><stop offset="0.8" stop-color="rgb(121, 177, 211)"/><stop offset="1" stop-color="rgb(82, 132, 188)"/></linearGradient><linearGradient id="w137" gradientUnits="userSpaceOnUse" x1="0" y1="316.9" x2="0" y2="453.0"><stop offset="0" stop-color="rgb(235, 244, 232)"/><stop offset="0.2" stop-color="rgb(238, 244, 228)"/><stop offset="0.4" stop-color="rgb(224, 243, 248)"/><stop offset="0.6" stop-color="rgb(177, 220, 235)"/><stop offset="0.8" stop-color="rgb(121, 177, 211)"/><stop offset="1" stop-color="rgb(82, 133, 188)"/></linearGradient><linearGradient id="w138" gradientUnits="userSpaceOnUse" x1="0" y1="316.1" x2="0" y2="451.7"><stop offset="0" stop-color="rgb(236, 244, 231)"/><stop offset="0.2" stop-color="rgb(239, 244, 226)"/><stop offset="0.4" stop-color="rgb(226, 243, 246)"/><stop offset="0.6" stop-color="rgb(180, 222, 236)"/><stop offset="0.8" stop-color="rgb(126, 181, 213)"/><stop offset="1" stop-color="rgb(87, 138, 191)"/></linearGradient><linearGradient id="w139" gradientUnits="userSpaceOnUse" x1="0" y1="317.3" x2="0" y2="451.3"><stop offset="0" stop-color="rgb(237, 244, 230)"/><stop offset="0.2" stop-color="rgb(240, 244, 225)"/><stop offset="0.4" stop-color="rgb(227, 243, 244)"/><stop offset="0.6" stop-color="rgb(183, 223, 236)"/><stop offset="0.8" stop-color="rgb(129, 183, 215)"/><stop offset="1" stop-color="rgb(90, 142, 193)"/></linearGradient><linearGradient id="w140" gradientUnits="userSpaceOnUse" x1="0" y1="317.3" x2="0" y2="454.0"><stop offset="0" stop-color="rgb(236, 244, 231)"/><stop offset="0.2" stop-color="rgb(239, 244, 226)"/><stop offset="0.4" stop-color="rgb(225, 243, 246)"/><stop offset="0.6" stop-color="rgb(180, 221, 235)"/><stop offset="0.8" stop-color="rgb(125, 181, 213)"/><stop offset="1" stop-color="rgb(87, 138, 191)"/></linearGradient><linearGradient id="w141" gradientUnits="userSpaceOnUse" x1="0" y1="317.9" x2="0" y2="451.5"><stop offset="0" stop-color="rgb(235, 244, 233)"/><stop offset="0.2" stop-color="rgb(237, 244, 229)"/><stop offset="0.4" stop-color="rgb(223, 242, 248)"/><stop offset="0.6" stop-color="rgb(176, 220, 234)"/><stop offset="0.8" stop-color="rgb(123, 178, 212)"/><stop offset="1" stop-color="rgb(84, 135, 189)"/></linearGradient><linearGradient id="w142" gradientUnits="userSpaceOnUse" x1="0" y1="318.8" x2="0" y2="446.2"><stop offset="0" stop-color="rgb(235, 244, 233)"/><stop offset="0.2" stop-color="rgb(237, 244, 230)"/><stop offset="0.4" stop-color="rgb(223, 243, 248)"/><stop offset="0.6" stop-color="rgb(180, 221, 236)"/><stop offset="0.8" stop-color="rgb(130, 184, 215)"/><stop offset="1" stop-color="rgb(92, 144, 194)"/></linearGradient><linearGradient id="w143" gradientUnits="userSpaceOnUse" x1="0" y1="317.6" x2="0" y2="439.3"><stop offset="0" stop-color="rgb(234, 244, 233)"/><stop offset="0.2" stop-color="rgb(236, 244, 231)"/><stop offset="0.4" stop-color="rgb(223, 243, 248)"/><stop offset="0.6" stop-color="rgb(183, 223, 236)"/><stop offset="0.8" stop-color="rgb(136, 189, 218)"/><stop offset="1" stop-color="rgb(98, 152, 198)"/></linearGradient><linearGradient id="w144" gradientUnits="userSpaceOnUse" x1="0" y1="318.1" x2="0" y2="430.4"><stop offset="0" stop-color="rgb(234, 244, 233)"/><stop offset="0.2" stop-color="rgb(236, 244, 231)"/><stop offset="0.4" stop-color="rgb(225, 243, 247)"/><stop offset="0.6" stop-color="rgb(188, 225, 238)"/><stop offset="0.8" stop-color="rgb(144, 196, 221)"/><stop offset="1" stop-color="rgb(107, 162, 203)"/></linearGradient><linearGradient id="w145" gradientUnits="userSpaceOnUse" x1="0" y1="317.1" x2="0" y2="422.5"><stop offset="0" stop-color="rgb(236, 244, 231)"/><stop offset="0.2" stop-color="rgb(237, 244, 229)"/><stop offset="0.4" stop-color="rgb(227, 243, 243)"/><stop offset="0.6" stop-color="rgb(197, 230, 240)"/><stop offset="0.8" stop-color="rgb(158, 207, 227)"/><stop offset="1" stop-color="rgb(122, 178, 212)"/></linearGradient><linearGradient id="w146" gradientUnits="userSpaceOnUse" x1="0" y1="317.5" x2="0" y2="416.3"><stop offset="0" stop-color="rgb(237, 244, 230)"/><stop offset="0.2" stop-color="rgb(238, 244, 227)"/><stop offset="0.4" stop-color="rgb(230, 243, 240)"/><stop offset="0.6" stop-color="rgb(205, 234, 243)"/><stop offset="0.8" stop-color="rgb(171, 217, 233)"/><stop offset="1" stop-color="rgb(137, 190, 218)"/></linearGradient><linearGradient id="w147" gradientUnits="userSpaceOnUse" x1="0" y1="317.7" x2="0" y2="410.0"><stop offset="0" stop-color="rgb(235, 244, 232)"/><stop offset="0.2" stop-color="rgb(236, 244, 231)"/><stop offset="0.4" stop-color="rgb(227, 243, 243)"/><stop offset="0.6" stop-color="rgb(203, 233, 242)"/><stop offset="0.8" stop-color="rgb(171, 217, 233)"/><stop offset="1" stop-color="rgb(138, 190, 218)"/></linearGradient><linearGradient id="w148" gradientUnits="userSpaceOnUse" x1="0" y1="317.6" x2="0" y2="403.8"><stop offset="0" stop-color="rgb(235, 244, 233)"/><stop offset="0.2" stop-color="rgb(235, 244, 232)"/><stop offset="0.4" stop-color="rgb(227, 243, 244)"/><stop offset="0.6" stop-color="rgb(206, 234, 243)"/><stop offset="0.8" stop-color="rgb(176, 219, 234)"/><stop offset="1" stop-color="rgb(144, 195, 221)"/></linearGradient><linearGradient id="w149" gradientUnits="userSpaceOnUse" x1="0" y1="318.2" x2="0" y2="404.8"><stop offset="0" stop-color="rgb(235, 244, 233)"/><stop offset="0.2" stop-color="rgb(235, 244, 233)"/><stop offset="0.4" stop-color="rgb(228, 243, 243)"/><stop offset="0.6" stop-color="rgb(210, 236, 244)"/><stop offset="0.8" stop-color="rgb(184, 223, 237)"/><stop offset="1" stop-color="rgb(154, 203, 225)"/></linearGradient><linearGradient id="w150" gradientUnits="userSpaceOnUse" x1="0" y1="318.2" x2="0" y2="404.2"><stop offset="0" stop-color="rgb(235, 244, 233)"/><stop offset="0.2" stop-color="rgb(234, 244, 233)"/><stop offset="0.4" stop-color="rgb(228, 243, 242)"/><stop offset="0.6" stop-color="rgb(214, 238, 245)"/><stop offset="0.8" stop-color="rgb(190, 227, 238)"/><stop offset="1" stop-color="rgb(162, 210, 229)"/></linearGradient><linearGradient id="w151" gradientUnits="userSpaceOnUse" x1="0" y1="317.2" x2="0" y2="402.6"><stop offset="0" stop-color="rgb(234, 244, 234)"/><stop offset="0.2" stop-color="rgb(233, 244, 235)"/><stop offset="0.4" stop-color="rgb(227, 243, 244)"/><stop offset="0.6" stop-color="rgb(213, 238, 245)"/><stop offset="0.8" stop-color="rgb(191, 227, 239)"/><stop offset="1" stop-color="rgb(164, 211, 230)"/></linearGradient><linearGradient id="w152" gradientUnits="userSpaceOnUse" x1="0" y1="317.9" x2="0" y2="402.3"><stop offset="0" stop-color="rgb(233, 244, 235)"/><stop offset="0.2" stop-color="rgb(233, 244, 236)"/><stop offset="0.4" stop-color="rgb(226, 243, 245)"/><stop offset="0.6" stop-color="rgb(212, 237, 245)"/><stop offset="0.8" stop-color="rgb(190, 226, 238)"/><stop offset="1" stop-color="rgb(163, 211, 230)"/></linearGradient><linearGradient id="w153" gradientUnits="userSpaceOnUse" x1="0" y1="317.7" x2="0" y2="400.6"><stop offset="0" stop-color="rgb(234, 244, 234)"/><stop offset="0.2" stop-color="rgb(233, 244, 235)"/><stop offset="0.4" stop-color="rgb(227, 243, 244)"/><stop offset="0.6" stop-color="rgb(213, 238, 245)"/><stop offset="0.8" stop-color="rgb(192, 227, 239)"/><stop offset="1" stop-color="rgb(166, 213, 231)"/></linearGradient><linearGradient id="w154" gradientUnits="userSpaceOnUse" x1="0" y1="319.4" x2="0" y2="401.1"><stop offset="0" stop-color="rgb(233, 244, 236)"/><stop offset="0.2" stop-color="rgb(232, 244, 237)"/><stop offset="0.4" stop-color="rgb(225, 243, 247)"/><stop offset="0.6" stop-color="rgb(209, 236, 244)"/><stop offset="0.8" stop-color="rgb(188, 225, 238)"/><stop offset="1" stop-color="rgb(162, 210, 229)"/></linearGradient><linearGradient id="w155" gradientUnits="userSpaceOnUse" x1="0" y1="317.8" x2="0" y2="400.8"><stop offset="0" stop-color="rgb(233, 244, 235)"/><stop offset="0.2" stop-color="rgb(232, 244, 236)"/><stop offset="0.4" stop-color="rgb(226, 243, 246)"/><stop offset="0.6" stop-color="rgb(211, 237, 244)"/><stop offset="0.8" stop-color="rgb(191, 227, 239)"/><stop offset="1" stop-color="rgb(166, 213, 231)"/></linearGradient><linearGradient id="w156" gradientUnits="userSpaceOnUse" x1="0" y1="318.5" x2="0" y2="398.7"><stop offset="0" stop-color="rgb(234, 244, 234)"/><stop offset="0.2" stop-color="rgb(234, 244, 234)"/><stop offset="0.4" stop-color="rgb(228, 243, 243)"/><stop offset="0.6" stop-color="rgb(216, 239, 246)"/><stop offset="0.8" stop-color="rgb(197, 230, 240)"/><stop offset="1" stop-color="rgb(174, 218, 234)"/></linearGradient><linearGradient id="w157" gradientUnits="userSpaceOnUse" x1="0" y1="319.5" x2="0" y2="399.9"><stop offset="0" stop-color="rgb(233, 244, 235)"/><stop offset="0.2" stop-color="rgb(232, 244, 236)"/><stop offset="0.4" stop-color="rgb(226, 243, 245)"/><stop offset="0.6" stop-color="rgb(213, 237, 245)"/><stop offset="0.8" stop-color="rgb(193, 228, 239)"/><stop offset="1" stop-color="rgb(170, 216, 233)"/></linearGradient><linearGradient id="w158" gradientUnits="userSpaceOnUse" x1="0" y1="318.2" x2="0" y2="398.4"><stop offset="0" stop-color="rgb(233, 244, 235)"/><stop offset="0.2" stop-color="rgb(233, 244, 236)"/><stop offset="0.4" stop-color="rgb(226, 243, 245)"/><stop offset="0.6" stop-color="rgb(214, 238, 245)"/><stop offset="0.8" stop-color="rgb(196, 229, 240)"/><stop offset="1" stop-color="rgb(173, 218, 234)"/></linearGradient><linearGradient id="w159" gradientUnits="userSpaceOnUse" x1="0" y1="319.7" x2="0" y2="399.1"><stop offset="0" stop-color="rgb(234, 244, 234)"/><stop offset="0.2" stop-color="rgb(233, 244, 235)"/><stop offset="0.4" stop-color="rgb(227, 243, 244)"/><stop offset="0.6" stop-color="rgb(216, 239, 246)"/><stop offset="0.8" stop-color="rgb(198, 230, 241)"/><stop offset="1" stop-color="rgb(177, 220, 235)"/></linearGradient><linearGradient id="w160" gradientUnits="userSpaceOnUse" x1="0" y1="319.2" x2="0" y2="402.0"><stop offset="0" stop-color="rgb(232, 244, 236)"/><stop offset="0.2" stop-color="rgb(231, 244, 237)"/><stop offset="0.4" stop-color="rgb(225, 243, 247)"/><stop offset="0.6" stop-color="rgb(211, 237, 244)"/><stop offset="0.8" stop-color="rgb(193, 228, 239)"/><stop offset="1" stop-color="rgb(172, 217, 233)"/></linearGradient><linearGradient id="w161" gradientUnits="userSpaceOnUse" x1="0" y1="320.2" x2="0" y2="401.5"><stop offset="0" stop-color="rgb(231, 244, 238)"/><stop offset="0.2" stop-color="rgb(230, 243, 239)"/><stop offset="0.4" stop-color="rgb(222, 242, 247)"/><stop offset="0.6" stop-color="rgb(207, 235, 243)"/><stop offset="0.8" stop-color="rgb(189, 226, 238)"/><stop offset="1" stop-color="rgb(167, 214, 231)"/></linearGradient><linearGradient id="w162" gradientUnits="userSpaceOnUse" x1="0" y1="319.0" x2="0" y2="401.1"><stop offset="0" stop-color="rgb(231, 243, 239)"/><stop offset="0.2" stop-color="rgb(229, 243, 241)"/><stop offset="0.4" stop-color="rgb(220, 241, 247)"/><stop offset="0.6" stop-color="rgb(205, 233, 243)"/><stop offset="0.8" stop-color="rgb(186, 225, 237)"/><stop offset="1" stop-color="rgb(165, 212, 230)"/></linearGradient><linearGradient id="w163" gradientUnits="userSpaceOnUse" x1="0" y1="317.9" x2="0" y2="400.3"><stop offset="0" stop-color="rgb(231, 243, 239)"/><stop offset="0.2" stop-color="rgb(229, 243, 241)"/><stop offset="0.4" stop-color="rgb(220, 241, 247)"/><stop offset="0.6" stop-color="rgb(205, 234, 243)"/><stop offset="0.8" stop-color="rgb(188, 225, 238)"/><stop offset="1" stop-color="rgb(167, 214, 231)"/></linearGradient><linearGradient id="w164" gradientUnits="userSpaceOnUse" x1="0" y1="317.8" x2="0" y2="401.7"><stop offset="0" stop-color="rgb(231, 243, 238)"/><stop offset="0.2" stop-color="rgb(229, 243, 241)"/><stop offset="0.4" stop-color="rgb(220, 241, 247)"/><stop offset="0.6" stop-color="rgb(206, 234, 243)"/><stop offset="0.8" stop-color="rgb(189, 226, 238)"/><stop offset="1" stop-color="rgb(169, 215, 232)"/></linearGradient><linearGradient id="w165" gradientUnits="userSpaceOnUse" x1="0" y1="319.7" x2="0" y2="400.7"><stop offset="0" stop-color="rgb(231, 243, 239)"/><stop offset="0.2" stop-color="rgb(229, 243, 241)"/><stop offset="0.4" stop-color="rgb(220, 241, 247)"/><stop offset="0.6" stop-color="rgb(206, 234, 243)"/><stop offset="0.8" stop-color="rgb(190, 226, 238)"/><stop offset="1" stop-color="rgb(171, 217, 233)"/></linearGradient><linearGradient id="w166" gradientUnits="userSpaceOnUse" x1="0" y1="318.8" x2="0" y2="398.3"><stop offset="0" stop-color="rgb(231, 244, 238)"/><stop offset="0.2" stop-color="rgb(230, 243, 240)"/><stop offset="0.4" stop-color="rgb(221, 242, 247)"/><stop offset="0.6" stop-color="rgb(208, 235, 244)"/><stop offset="0.8" stop-color="rgb(193, 228, 239)"/><stop offset="1" stop-color="rgb(175, 219, 234)"/></linearGradient><linearGradient id="w167" gradientUnits="userSpaceOnUse" x1="0" y1="318.5" x2="0" y2="395.5"><stop offset="0" stop-color="rgb(231, 244, 238)"/><stop offset="0.2" stop-color="rgb(230, 243, 240)"/><stop offset="0.4" stop-color="rgb(222, 242, 247)"/><stop offset="0.6" stop-color="rgb(209, 236, 244)"/><stop offset="0.8" stop-color="rgb(194, 228, 240)"/><stop offset="1" stop-color="rgb(177, 220, 235)"/></linearGradient><linearGradient id="w168" gradientUnits="userSpaceOnUse" x1="0" y1="318.7" x2="0" y2="394.0"><stop offset="0" stop-color="rgb(232, 244, 237)"/><stop offset="0.2" stop-color="rgb(230, 243, 239)"/><stop offset="0.4" stop-color="rgb(223, 243, 248)"/><stop offset="0.6" stop-color="rgb(212, 237, 244)"/><stop offset="0.8" stop-color="rgb(197, 230, 240)"/><stop offset="1" stop-color="rgb(181, 222, 236)"/></linearGradient><linearGradient id="w169" gradientUnits="userSpaceOnUse" x1="0" y1="318.3" x2="0" y2="391.8"><stop offset="0" stop-color="rgb(231, 243, 239)"/><stop offset="0.2" stop-color="rgb(229, 243, 241)"/><stop offset="0.4" stop-color="rgb(220, 241, 247)"/><stop offset="0.6" stop-color="rgb(208, 235, 243)"/><stop offset="0.8" stop-color="rgb(194, 228, 239)"/><stop offset="1" stop-color="rgb(177, 220, 235)"/></linearGradient><linearGradient id="w170" gradientUnits="userSpaceOnUse" x1="0" y1="319.6" x2="0" y2="390.5"><stop offset="0" stop-color="rgb(231, 243, 239)"/><stop offset="0.2" stop-color="rgb(229, 243, 241)"/><stop offset="0.4" stop-color="rgb(220, 241, 247)"/><stop offset="0.6" stop-color="rgb(209, 235, 244)"/><stop offset="0.8" stop-color="rgb(195, 229, 240)"/><stop offset="1" stop-color="rgb(179, 221, 235)"/></linearGradient><linearGradient id="w171" gradientUnits="userSpaceOnUse" x1="0" y1="320.0" x2="0" y2="389.4"><stop offset="0" stop-color="rgb(230, 243, 240)"/><stop offset="0.2" stop-color="rgb(228, 243, 243)"/><stop offset="0.4" stop-color="rgb(217, 239, 246)"/><stop offset="0.6" stop-color="rgb(205, 234, 243)"/><stop offset="0.8" stop-color="rgb(191, 227, 239)"/><stop offset="1" stop-color="rgb(175, 219, 234)"/></linearGradient><linearGradient id="w172" gradientUnits="userSpaceOnUse" x1="0" y1="321.2" x2="0" y2="388.4"><stop offset="0" stop-color="rgb(230, 243, 240)"/><stop offset="0.2" stop-color="rgb(228, 243, 242)"/><stop offset="0.4" stop-color="rgb(218, 240, 246)"/><stop offset="0.6" stop-color="rgb(206, 234, 243)"/><stop offset="0.8" stop-color="rgb(193, 228, 239)"/><stop offset="1" stop-color="rgb(178, 221, 235)"/></linearGradient><linearGradient id="w173" gradientUnits="userSpaceOnUse" x1="0" y1="320.6" x2="0" y2="389.9"><stop offset="0" stop-color="rgb(229, 243, 241)"/><stop offset="0.2" stop-color="rgb(226, 243, 245)"/><stop offset="0.4" stop-color="rgb(214, 238, 245)"/><stop offset="0.6" stop-color="rgb(201, 232, 242)"/><stop offset="0.8" stop-color="rgb(188, 225, 238)"/><stop offset="1" stop-color="rgb(173, 218, 234)"/></linearGradient><linearGradient id="w174" gradientUnits="userSpaceOnUse" x1="0" y1="320.2" x2="0" y2="389.0"><stop offset="0" stop-color="rgb(229, 243, 240)"/><stop offset="0.2" stop-color="rgb(228, 243, 243)"/><stop offset="0.4" stop-color="rgb(217, 239, 246)"/><stop offset="0.6" stop-color="rgb(205, 234, 243)"/><stop offset="0.8" stop-color="rgb(193, 228, 239)"/><stop offset="1" stop-color="rgb(180, 221, 235)"/></linearGradient><linearGradient id="w175" gradientUnits="userSpaceOnUse" x1="0" y1="320.1" x2="0" y2="387.9"><stop offset="0" stop-color="rgb(230, 243, 240)"/><stop offset="0.2" stop-color="rgb(228, 243, 242)"/><stop offset="0.4" stop-color="rgb(218, 240, 246)"/><stop offset="0.6" stop-color="rgb(208, 235, 243)"/><stop offset="0.8" stop-color="rgb(196, 230, 240)"/><stop offset="1" stop-color="rgb(184, 223, 237)"/></linearGradient><linearGradient id="w176" gradientUnits="userSpaceOnUse" x1="0" y1="320.1" x2="0" y2="387.7"><stop offset="0" stop-color="rgb(230, 243, 240)"/><stop offset="0.2" stop-color="rgb(228, 243, 242)"/><stop offset="0.4" stop-color="rgb(218, 240, 246)"/><stop offset="0.6" stop-color="rgb(208, 235, 244)"/><stop offset="0.8" stop-color="rgb(197, 230, 240)"/><stop offset="1" stop-color="rgb(186, 224, 237)"/></linearGradient><linearGradient id="w177" gradientUnits="userSpaceOnUse" x1="0" y1="322.3" x2="0" y2="387.6"><stop offset="0" stop-color="rgb(230, 243, 240)"/><stop offset="0.2" stop-color="rgb(228, 243, 242)"/><stop offset="0.4" stop-color="rgb(218, 240, 246)"/><stop offset="0.6" stop-color="rgb(209, 235, 244)"/><stop offset="0.8" stop-color="rgb(198, 230, 241)"/><stop offset="1" stop-color="rgb(187, 225, 238)"/></linearGradient><linearGradient id="w178" gradientUnits="userSpaceOnUse" x1="0" y1="322.1" x2="0" y2="385.4"><stop offset="0" stop-color="rgb(229, 243, 240)"/><stop offset="0.2" stop-color="rgb(227, 243, 243)"/><stop offset="0.4" stop-color="rgb(216, 239, 246)"/><stop offset="0.6" stop-color="rgb(207, 235, 243)"/><stop offset="0.8" stop-color="rgb(197, 230, 240)"/><stop offset="1" stop-color="rgb(186, 224, 237)"/></linearGradient><linearGradient id="w179" gradientUnits="userSpaceOnUse" x1="0" y1="321.4" x2="0" y2="385.2"><stop offset="0" stop-color="rgb(228, 243, 242)"/><stop offset="0.2" stop-color="rgb(226, 243, 246)"/><stop offset="0.4" stop-color="rgb(212, 237, 245)"/><stop offset="0.6" stop-color="rgb(202, 232, 242)"/><stop offset="0.8" stop-color="rgb(191, 227, 239)"/><stop offset="1" stop-color="rgb(181, 222, 236)"/></linearGradient><linearGradient id="w180" gradientUnits="userSpaceOnUse" x1="0" y1="322.0" x2="0" y2="384.7"><stop offset="0" stop-color="rgb(227, 243, 244)"/><stop offset="0.2" stop-color="rgb(224, 243, 247)"/><stop offset="0.4" stop-color="rgb(209, 236, 244)"/><stop offset="0.6" stop-color="rgb(198, 230, 241)"/><stop offset="0.8" stop-color="rgb(188, 225, 238)"/><stop offset="1" stop-color="rgb(177, 220, 235)"/></linearGradient><linearGradient id="w181" gradientUnits="userSpaceOnUse" x1="0" y1="324.1" x2="0" y2="382.6"><stop offset="0" stop-color="rgb(226, 243, 245)"/><stop offset="0.2" stop-color="rgb(222, 242, 247)"/><stop offset="0.4" stop-color="rgb(206, 234, 243)"/><stop offset="0.6" stop-color="rgb(195, 229, 240)"/><stop offset="0.8" stop-color="rgb(184, 223, 237)"/><stop offset="1" stop-color="rgb(173, 218, 234)"/></linearGradient><linearGradient id="w182" gradientUnits="userSpaceOnUse" x1="0" y1="323.7" x2="0" y2="383.4"><stop offset="0" stop-color="rgb(225, 243, 246)"/><stop offset="0.2" stop-color="rgb(221, 242, 247)"/><stop offset="0.4" stop-color="rgb(205, 234, 243)"/><stop offset="0.6" stop-color="rgb(194, 228, 240)"/><stop offset="0.8" stop-color="rgb(183, 223, 236)"/><stop offset="1" stop-color="rgb(173, 218, 233)"/></linearGradient><linearGradient id="w183" gradientUnits="userSpaceOnUse" x1="0" y1="322.9" x2="0" y2="382.7"><stop offset="0" stop-color="rgb(226, 243, 245)"/><stop offset="0.2" stop-color="rgb(223, 242, 248)"/><stop offset="0.4" stop-color="rgb(208, 235, 244)"/><stop offset="0.6" stop-color="rgb(198, 230, 241)"/><stop offset="0.8" stop-color="rgb(188, 225, 238)"/><stop offset="1" stop-color="rgb(179, 221, 235)"/></linearGradient><linearGradient id="w184" gradientUnits="userSpaceOnUse" x1="0" y1="323.1" x2="0" y2="381.7"><stop offset="0" stop-color="rgb(224, 243, 248)"/><stop offset="0.2" stop-color="rgb(218, 240, 246)"/><stop offset="0.4" stop-color="rgb(203, 233, 242)"/><stop offset="0.6" stop-color="rgb(192, 227, 239)"/><stop offset="0.8" stop-color="rgb(181, 222, 236)"/><stop offset="1" stop-color="rgb(171, 217, 233)"/></linearGradient><linearGradient id="w185" gradientUnits="userSpaceOnUse" x1="0" y1="323.9" x2="0" y2="382.3"><stop offset="0" stop-color="rgb(222, 242, 247)"/><stop offset="0.2" stop-color="rgb(215, 239, 246)"/><stop offset="0.4" stop-color="rgb(199, 231, 241)"/><stop offset="0.6" stop-color="rgb(188, 225, 238)"/><stop offset="0.8" stop-color="rgb(176, 220, 234)"/><stop offset="1" stop-color="rgb(165, 213, 231)"/></linearGradient><linearGradient id="w186" gradientUnits="userSpaceOnUse" x1="0" y1="323.8" x2="0" y2="380.2"><stop offset="0" stop-color="rgb(221, 241, 247)"/><stop offset="0.2" stop-color="rgb(214, 238, 245)"/><stop offset="0.4" stop-color="rgb(199, 231, 241)"/><stop offset="0.6" stop-color="rgb(187, 225, 238)"/><stop offset="0.8" stop-color="rgb(175, 219, 234)"/><stop offset="1" stop-color="rgb(165, 212, 230)"/></linearGradient><linearGradient id="w187" gradientUnits="userSpaceOnUse" x1="0" y1="326.1" x2="0" y2="381.2"><stop offset="0" stop-color="rgb(219, 241, 247)"/><stop offset="0.2" stop-color="rgb(213, 238, 245)"/><stop offset="0.4" stop-color="rgb(198, 230, 241)"/><stop offset="0.6" stop-color="rgb(186, 225, 237)"/><stop offset="0.8" stop-color="rgb(175, 219, 234)"/><stop offset="1" stop-color="rgb(165, 212, 230)"/></linearGradient><linearGradient id="w188" gradientUnits="userSpaceOnUse" x1="0" y1="328.3" x2="0" y2="381.0"><stop offset="0" stop-color="rgb(220, 241, 247)"/><stop offset="0.2" stop-color="rgb(215, 238, 245)"/><stop offset="0.4" stop-color="rgb(201, 232, 241)"/><stop offset="0.6" stop-color="rgb(190, 226, 238)"/><stop offset="0.8" stop-color="rgb(179, 221, 235)"/><stop offset="1" stop-color="rgb(170, 216, 233)"/></linearGradient><linearGradient id="w189" gradientUnits="userSpaceOnUse" x1="0" y1="328.2" x2="0" y2="382.4"><stop offset="0" stop-color="rgb(221, 242, 247)"/><stop offset="0.2" stop-color="rgb(216, 239, 246)"/><stop offset="0.4" stop-color="rgb(204, 233, 242)"/><stop offset="0.6" stop-color="rgb(193, 228, 239)"/><stop offset="0.8" stop-color="rgb(183, 223, 237)"/><stop offset="1" stop-color="rgb(176, 219, 234)"/></linearGradient><linearGradient id="w190" gradientUnits="userSpaceOnUse" x1="0" y1="329.4" x2="0" y2="384.4"><stop offset="0" stop-color="rgb(219, 241, 247)"/><stop offset="0.2" stop-color="rgb(214, 238, 245)"/><stop offset="0.4" stop-color="rgb(201, 232, 242)"/><stop offset="0.6" stop-color="rgb(191, 227, 239)"/><stop offset="0.8" stop-color="rgb(181, 222, 236)"/><stop offset="1" stop-color="rgb(173, 218, 234)"/></linearGradient><linearGradient id="w191" gradientUnits="userSpaceOnUse" x1="0" y1="331.3" x2="0" y2="384.5"><stop offset="0" stop-color="rgb(217, 240, 246)"/><stop offset="0.2" stop-color="rgb(211, 237, 244)"/><stop offset="0.4" stop-color="rgb(198, 230, 241)"/><stop offset="0.6" stop-color="rgb(187, 225, 238)"/><stop offset="0.8" stop-color="rgb(177, 220, 235)"/><stop offset="1" stop-color="rgb(169, 215, 232)"/></linearGradient><linearGradient id="w192" gradientUnits="userSpaceOnUse" x1="0" y1="331.3" x2="0" y2="383.0"><stop offset="0" stop-color="rgb(215, 238, 245)"/><stop offset="0.2" stop-color="rgb(209, 236, 244)"/><stop offset="0.4" stop-color="rgb(195, 229, 240)"/><stop offset="0.6" stop-color="rgb(184, 223, 237)"/><stop offset="0.8" stop-color="rgb(173, 218, 234)"/><stop offset="1" stop-color="rgb(165, 212, 230)"/></linearGradient><linearGradient id="w193" gradientUnits="userSpaceOnUse" x1="0" y1="332.7" x2="0" y2="382.6"><stop offset="0" stop-color="rgb(215, 239, 246)"/><stop offset="0.2" stop-color="rgb(210, 236, 244)"/><stop offset="0.4" stop-color="rgb(198, 230, 241)"/><stop offset="0.6" stop-color="rgb(187, 225, 238)"/><stop offset="0.8" stop-color="rgb(177, 220, 235)"/><stop offset="1" stop-color="rgb(170, 216, 232)"/></linearGradient><linearGradient id="w194" gradientUnits="userSpaceOnUse" x1="0" y1="333.4" x2="0" y2="380.9"><stop offset="0" stop-color="rgb(214, 238, 245)"/><stop offset="0.2" stop-color="rgb(208, 235, 244)"/><stop offset="0.4" stop-color="rgb(196, 229, 240)"/><stop offset="0.6" stop-color="rgb(185, 224, 237)"/><stop offset="0.8" stop-color="rgb(174, 219, 234)"/><stop offset="1" stop-color="rgb(167, 214, 231)"/></linearGradient><linearGradient id="w195" gradientUnits="userSpaceOnUse" x1="0" y1="334.9" x2="0" y2="378.6"><stop offset="0" stop-color="rgb(214, 238, 245)"/><stop offset="0.2" stop-color="rgb(209, 236, 244)"/><stop offset="0.4" stop-color="rgb(197, 230, 240)"/><stop offset="0.6" stop-color="rgb(187, 225, 238)"/><stop offset="0.8" stop-color="rgb(177, 220, 235)"/><stop offset="1" stop-color="rgb(170, 217, 233)"/></linearGradient><linearGradient id="w196" gradientUnits="userSpaceOnUse" x1="0" y1="335.9" x2="0" y2="379.1"><stop offset="0" stop-color="rgb(212, 237, 245)"/><stop offset="0.2" stop-color="rgb(206, 234, 243)"/><stop offset="0.4" stop-color="rgb(195, 229, 240)"/><stop offset="0.6" stop-color="rgb(184, 223, 237)"/><stop offset="0.8" stop-color="rgb(173, 218, 234)"/><stop offset="1" stop-color="rgb(167, 214, 231)"/></linearGradient><linearGradient id="w197" gradientUnits="userSpaceOnUse" x1="0" y1="339.4" x2="0" y2="379.9"><stop offset="0" stop-color="rgb(210, 236, 244)"/><stop offset="0.2" stop-color="rgb(204, 233, 242)"/><stop offset="0.4" stop-color="rgb(192, 227, 239)"/><stop offset="0.6" stop-color="rgb(181, 222, 236)"/><stop offset="0.8" stop-color="rgb(170, 216, 233)"/><stop offset="1" stop-color="rgb(163, 211, 230)"/></linearGradient><linearGradient id="w198" gradientUnits="userSpaceOnUse" x1="0" y1="340.0" x2="0" y2="377.8"><stop offset="0" stop-color="rgb(210, 236, 244)"/><stop offset="0.2" stop-color="rgb(205, 234, 243)"/><stop offset="0.4" stop-color="rgb(194, 228, 239)"/><stop offset="0.6" stop-color="rgb(183, 223, 236)"/><stop offset="0.8" stop-color="rgb(173, 218, 233)"/><stop offset="1" stop-color="rgb(167, 214, 231)"/></linearGradient><linearGradient id="w199" gradientUnits="userSpaceOnUse" x1="0" y1="342.3" x2="0" y2="376.5"><stop offset="0" stop-color="rgb(209, 236, 244)"/><stop offset="0.2" stop-color="rgb(204, 233, 242)"/><stop offset="0.4" stop-color="rgb(194, 228, 239)"/><stop offset="0.6" stop-color="rgb(183, 223, 237)"/><stop offset="0.8" stop-color="rgb(173, 218, 234)"/><stop offset="1" stop-color="rgb(168, 214, 232)"/></linearGradient><linearGradient id="w200" gradientUnits="userSpaceOnUse" x1="0" y1="345.1" x2="0" y2="377.3"><stop offset="0" stop-color="rgb(201, 232, 242)"/><stop offset="0.2" stop-color="rgb(194, 228, 239)"/><stop offset="0.4" stop-color="rgb(181, 222, 236)"/><stop offset="0.6" stop-color="rgb(168, 215, 232)"/><stop offset="0.8" stop-color="rgb(156, 205, 226)"/><stop offset="1" stop-color="rgb(150, 200, 224)"/></linearGradient><linearGradient id="w201" gradientUnits="userSpaceOnUse" x1="0" y1="345.2" x2="0" y2="379.2"><stop offset="0" stop-color="rgb(185, 224, 237)"/><stop offset="0.2" stop-color="rgb(172, 218, 233)"/><stop offset="0.4" stop-color="rgb(153, 203, 225)"/><stop offset="0.6" stop-color="rgb(135, 188, 217)"/><stop offset="0.8" stop-color="rgb(120, 176, 211)"/><stop offset="1" stop-color="rgb(111, 168, 206)"/></linearGradient><linearGradient id="w202" gradientUnits="userSpaceOnUse" x1="0" y1="345.4" x2="0" y2="381.5"><stop offset="0" stop-color="rgb(176, 219, 234)"/><stop offset="0.2" stop-color="rgb(159, 207, 228)"/><stop offset="0.4" stop-color="rgb(137, 190, 218)"/><stop offset="0.6" stop-color="rgb(115, 172, 208)"/><stop offset="0.8" stop-color="rgb(101, 155, 200)"/><stop offset="1" stop-color="rgb(91, 143, 194)"/></linearGradient><linearGradient id="w203" gradientUnits="userSpaceOnUse" x1="0" y1="345.2" x2="0" y2="381.8"><stop offset="0" stop-color="rgb(176, 219, 234)"/><stop offset="0.2" stop-color="rgb(159, 208, 228)"/><stop offset="0.4" stop-color="rgb(137, 190, 218)"/><stop offset="0.6" stop-color="rgb(116, 173, 209)"/><stop offset="0.8" stop-color="rgb(102, 156, 200)"/><stop offset="1" stop-color="rgb(93, 145, 195)"/></linearGradient><linearGradient id="w204" gradientUnits="userSpaceOnUse" x1="0" y1="345.4" x2="0" y2="383.3"><stop offset="0" stop-color="rgb(176, 219, 234)"/><stop offset="0.2" stop-color="rgb(159, 207, 228)"/><stop offset="0.4" stop-color="rgb(137, 190, 218)"/><stop offset="0.6" stop-color="rgb(115, 172, 209)"/><stop offset="0.8" stop-color="rgb(102, 156, 200)"/><stop offset="1" stop-color="rgb(93, 145, 195)"/></linearGradient><linearGradient id="w205" gradientUnits="userSpaceOnUse" x1="0" y1="345.3" x2="0" y2="385.6"><stop offset="0" stop-color="rgb(177, 220, 235)"/><stop offset="0.2" stop-color="rgb(161, 209, 229)"/><stop offset="0.4" stop-color="rgb(140, 192, 220)"/><stop offset="0.6" stop-color="rgb(120, 176, 211)"/><stop offset="0.8" stop-color="rgb(106, 161, 203)"/><stop offset="1" stop-color="rgb(98, 152, 198)"/></linearGradient><linearGradient id="w206" gradientUnits="userSpaceOnUse" x1="0" y1="345.0" x2="0" y2="386.4"><stop offset="0" stop-color="rgb(178, 220, 235)"/><stop offset="0.2" stop-color="rgb(162, 210, 229)"/><stop offset="0.4" stop-color="rgb(141, 193, 220)"/><stop offset="0.6" stop-color="rgb(121, 177, 211)"/><stop offset="0.8" stop-color="rgb(108, 163, 204)"/><stop offset="1" stop-color="rgb(100, 154, 199)"/></linearGradient><linearGradient id="w207" gradientUnits="userSpaceOnUse" x1="0" y1="347.0" x2="0" y2="385.8"><stop offset="0" stop-color="rgb(175, 219, 234)"/><stop offset="0.2" stop-color="rgb(157, 206, 227)"/><stop offset="0.4" stop-color="rgb(135, 189, 217)"/><stop offset="0.6" stop-color="rgb(115, 171, 208)"/><stop offset="0.8" stop-color="rgb(101, 155, 200)"/><stop offset="1" stop-color="rgb(93, 145, 195)"/></linearGradient><linearGradient id="w208" gradientUnits="userSpaceOnUse" x1="0" y1="346.1" x2="0" y2="388.7"><stop offset="0" stop-color="rgb(176, 220, 234)"/><stop offset="0.2" stop-color="rgb(160, 208, 228)"/><stop offset="0.4" stop-color="rgb(138, 191, 219)"/><stop offset="0.6" stop-color="rgb(118, 175, 210)"/><stop offset="0.8" stop-color="rgb(105, 160, 202)"/><stop offset="1" stop-color="rgb(97, 151, 198)"/></linearGradient><linearGradient id="w209" gradientUnits="userSpaceOnUse" x1="0" y1="346.2" x2="0" y2="390.9"><stop offset="0" stop-color="rgb(174, 219, 234)"/><stop offset="0.2" stop-color="rgb(157, 205, 227)"/><stop offset="0.4" stop-color="rgb(135, 188, 217)"/><stop offset="0.6" stop-color="rgb(114, 171, 208)"/><stop offset="0.8" stop-color="rgb(101, 155, 200)"/><stop offset="1" stop-color="rgb(93, 145, 195)"/></linearGradient><linearGradient id="w210" gradientUnits="userSpaceOnUse" x1="0" y1="347.4" x2="0" y2="393.1"><stop offset="0" stop-color="rgb(174, 219, 234)"/><stop offset="0.2" stop-color="rgb(157, 206, 227)"/><stop offset="0.4" stop-color="rgb(135, 188, 217)"/><stop offset="0.6" stop-color="rgb(115, 171, 208)"/><stop offset="0.8" stop-color="rgb(102, 156, 200)"/><stop offset="1" stop-color="rgb(94, 146, 195)"/></linearGradient><linearGradient id="w211" gradientUnits="userSpaceOnUse" x1="0" y1="347.6" x2="0" y2="392.6"><stop offset="0" stop-color="rgb(172, 218, 233)"/><stop offset="0.2" stop-color="rgb(154, 203, 225)"/><stop offset="0.4" stop-color="rgb(131, 185, 216)"/><stop offset="0.6" stop-color="rgb(111, 167, 206)"/><stop offset="0.8" stop-color="rgb(98, 151, 198)"/><stop offset="1" stop-color="rgb(89, 141, 192)"/></linearGradient><linearGradient id="w212" gradientUnits="userSpaceOnUse" x1="0" y1="346.7" x2="0" y2="392.6"><stop offset="0" stop-color="rgb(173, 218, 234)"/><stop offset="0.2" stop-color="rgb(155, 204, 226)"/><stop offset="0.4" stop-color="rgb(133, 186, 216)"/><stop offset="0.6" stop-color="rgb(113, 169, 207)"/><stop offset="0.8" stop-color="rgb(100, 154, 199)"/><stop offset="1" stop-color="rgb(92, 145, 194)"/></linearGradient><linearGradient id="w213" gradientUnits="userSpaceOnUse" x1="0" y1="346.3" x2="0" y2="392.0"><stop offset="0" stop-color="rgb(174, 218, 234)"/><stop offset="0.2" stop-color="rgb(156, 205, 226)"/><stop offset="0.4" stop-color="rgb(134, 187, 217)"/><stop offset="0.6" stop-color="rgb(114, 171, 208)"/><stop offset="0.8" stop-color="rgb(102, 156, 200)"/><stop offset="1" stop-color="rgb(94, 147, 196)"/></linearGradient><linearGradient id="w214" gradientUnits="userSpaceOnUse" x1="0" y1="346.1" x2="0" y2="392.2"><stop offset="0" stop-color="rgb(174, 219, 234)"/><stop offset="0.2" stop-color="rgb(157, 205, 227)"/><stop offset="0.4" stop-color="rgb(135, 188, 217)"/><stop offset="0.6" stop-color="rgb(116, 173, 209)"/><stop offset="0.8" stop-color="rgb(104, 159, 202)"/><stop offset="1" stop-color="rgb(97, 150, 197)"/></linearGradient><linearGradient id="w215" gradientUnits="userSpaceOnUse" x1="0" y1="347.1" x2="0" y2="391.0"><stop offset="0" stop-color="rgb(173, 218, 234)"/><stop offset="0.2" stop-color="rgb(154, 204, 226)"/><stop offset="0.4" stop-color="rgb(133, 186, 216)"/><stop offset="0.6" stop-color="rgb(113, 170, 207)"/><stop offset="0.8" stop-color="rgb(101, 156, 200)"/><stop offset="1" stop-color="rgb(94, 147, 195)"/></linearGradient><linearGradient id="w216" gradientUnits="userSpaceOnUse" x1="0" y1="347.7" x2="0" y2="393.4"><stop offset="0" stop-color="rgb(173, 218, 234)"/><stop offset="0.2" stop-color="rgb(155, 204, 226)"/><stop offset="0.4" stop-color="rgb(133, 187, 217)"/><stop offset="0.6" stop-color="rgb(114, 171, 208)"/><stop offset="0.8" stop-color="rgb(103, 157, 201)"/><stop offset="1" stop-color="rgb(96, 149, 196)"/></linearGradient><linearGradient id="w217" gradientUnits="userSpaceOnUse" x1="0" y1="347.7" x2="0" y2="392.7"><stop offset="0" stop-color="rgb(174, 219, 234)"/><stop offset="0.2" stop-color="rgb(156, 205, 227)"/><stop offset="0.4" stop-color="rgb(136, 189, 218)"/><stop offset="0.6" stop-color="rgb(117, 174, 209)"/><stop offset="0.8" stop-color="rgb(106, 161, 203)"/><stop offset="1" stop-color="rgb(99, 153, 199)"/></linearGradient><linearGradient id="w218" gradientUnits="userSpaceOnUse" x1="0" y1="347.5" x2="0" y2="393.0"><stop offset="0" stop-color="rgb(173, 218, 233)"/><stop offset="0.2" stop-color="rgb(154, 203, 226)"/><stop offset="0.4" stop-color="rgb(132, 186, 216)"/><stop offset="0.6" stop-color="rgb(114, 171, 208)"/><stop offset="0.8" stop-color="rgb(102, 157, 201)"/><stop offset="1" stop-color="rgb(96, 149, 196)"/></linearGradient><linearGradient id="w219" gradientUnits="userSpaceOnUse" x1="0" y1="348.9" x2="0" y2="394.8"><stop offset="0" stop-color="rgb(170, 217, 233)"/><stop offset="0.2" stop-color="rgb(151, 201, 224)"/><stop offset="0.4" stop-color="rgb(129, 183, 215)"/><stop offset="0.6" stop-color="rgb(110, 166, 205)"/><stop offset="0.8" stop-color="rgb(98, 152, 198)"/><stop offset="1" stop-color="rgb(91, 143, 194)"/></linearGradient><linearGradient id="w220" gradientUnits="userSpaceOnUse" x1="0" y1="349.4" x2="0" y2="396.7"><stop offset="0" stop-color="rgb(170, 216, 233)"/><stop offset="0.2" stop-color="rgb(150, 200, 224)"/><stop offset="0.4" stop-color="rgb(128, 183, 214)"/><stop offset="0.6" stop-color="rgb(110, 166, 205)"/><stop offset="0.8" stop-color="rgb(98, 151, 198)"/><stop offset="1" stop-color="rgb(91, 143, 193)"/></linearGradient><linearGradient id="w221" gradientUnits="userSpaceOnUse" x1="0" y1="349.9" x2="0" y2="395.6"><stop offset="0" stop-color="rgb(170, 216, 232)"/><stop offset="0.2" stop-color="rgb(150, 200, 224)"/><stop offset="0.4" stop-color="rgb(128, 182, 214)"/><stop offset="0.6" stop-color="rgb(110, 165, 205)"/><stop offset="0.8" stop-color="rgb(98, 152, 198)"/><stop offset="1" stop-color="rgb(91, 143, 194)"/></linearGradient><linearGradient id="w222" gradientUnits="userSpaceOnUse" x1="0" y1="348.6" x2="0" y2="393.3"><stop offset="0" stop-color="rgb(170, 216, 233)"/><stop offset="0.2" stop-color="rgb(151, 201, 224)"/><stop offset="0.4" stop-color="rgb(129, 183, 215)"/><stop offset="0.6" stop-color="rgb(111, 167, 206)"/><stop offset="0.8" stop-color="rgb(100, 154, 199)"/><stop offset="1" stop-color="rgb(93, 146, 195)"/></linearGradient><linearGradient id="w223" gradientUnits="userSpaceOnUse" x1="0" y1="349.9" x2="0" y2="391.8"><stop offset="0" stop-color="rgb(169, 216, 232)"/><stop offset="0.2" stop-color="rgb(149, 200, 224)"/><stop offset="0.4" stop-color="rgb(127, 182, 214)"/><stop offset="0.6" stop-color="rgb(109, 165, 205)"/><stop offset="0.8" stop-color="rgb(98, 152, 198)"/><stop offset="1" stop-color="rgb(91, 144, 194)"/></linearGradient><linearGradient id="w224" gradientUnits="userSpaceOnUse" x1="0" y1="349.6" x2="0" y2="390.9"><stop offset="0" stop-color="rgb(169, 216, 232)"/><stop offset="0.2" stop-color="rgb(149, 200, 223)"/><stop offset="0.4" stop-color="rgb(127, 182, 214)"/><stop offset="0.6" stop-color="rgb(110, 165, 205)"/><stop offset="0.8" stop-color="rgb(99, 152, 198)"/><stop offset="1" stop-color="rgb(92, 145, 194)"/></linearGradient><linearGradient id="w225" gradientUnits="userSpaceOnUse" x1="0" y1="350.6" x2="0" y2="389.9"><stop offset="0" stop-color="rgb(170, 216, 233)"/><stop offset="0.2" stop-color="rgb(151, 201, 224)"/><stop offset="0.4" stop-color="rgb(129, 184, 215)"/><stop offset="0.6" stop-color="rgb(112, 168, 207)"/><stop offset="0.8" stop-color="rgb(102, 156, 200)"/><stop offset="1" stop-color="rgb(96, 149, 196)"/></linearGradient><linearGradient id="w226" gradientUnits="userSpaceOnUse" x1="0" y1="351.3" x2="0" y2="389.5"><stop offset="0" stop-color="rgb(171, 217, 233)"/><stop offset="0.2" stop-color="rgb(152, 202, 225)"/><stop offset="0.4" stop-color="rgb(131, 185, 216)"/><stop offset="0.6" stop-color="rgb(114, 171, 208)"/><stop offset="0.8" stop-color="rgb(105, 159, 202)"/><stop offset="1" stop-color="rgb(99, 153, 199)"/></linearGradient><linearGradient id="w227" gradientUnits="userSpaceOnUse" x1="0" y1="351.8" x2="0" y2="393.4"><stop offset="0" stop-color="rgb(170, 216, 232)"/><stop offset="0.2" stop-color="rgb(150, 200, 224)"/><stop offset="0.4" stop-color="rgb(128, 183, 214)"/><stop offset="0.6" stop-color="rgb(111, 167, 206)"/><stop offset="0.8" stop-color="rgb(101, 155, 200)"/><stop offset="1" stop-color="rgb(95, 148, 196)"/></linearGradient><linearGradient id="w228" gradientUnits="userSpaceOnUse" x1="0" y1="352.2" x2="0" y2="393.6"><stop offset="0" stop-color="rgb(167, 214, 231)"/><stop offset="0.2" stop-color="rgb(146, 197, 222)"/><stop offset="0.4" stop-color="rgb(124, 179, 213)"/><stop offset="0.6" stop-color="rgb(107, 163, 204)"/><stop offset="0.8" stop-color="rgb(97, 150, 197)"/><stop offset="1" stop-color="rgb(90, 142, 193)"/></linearGradient><linearGradient id="w229" gradientUnits="userSpaceOnUse" x1="0" y1="352.6" x2="0" y2="392.4"><stop offset="0" stop-color="rgb(169, 215, 232)"/><stop offset="0.2" stop-color="rgb(148, 199, 223)"/><stop offset="0.4" stop-color="rgb(127, 182, 214)"/><stop offset="0.6" stop-color="rgb(111, 167, 206)"/><stop offset="0.8" stop-color="rgb(101, 155, 199)"/><stop offset="1" stop-color="rgb(95, 148, 196)"/></linearGradient><linearGradient id="w230" gradientUnits="userSpaceOnUse" x1="0" y1="353.3" x2="0" y2="391.3"><stop offset="0" stop-color="rgb(168, 214, 232)"/><stop offset="0.2" stop-color="rgb(147, 198, 222)"/><stop offset="0.4" stop-color="rgb(125, 180, 213)"/><stop offset="0.6" stop-color="rgb(109, 164, 204)"/><stop offset="0.8" stop-color="rgb(98, 152, 198)"/><stop offset="1" stop-color="rgb(93, 146, 195)"/></linearGradient><linearGradient id="w231" gradientUnits="userSpaceOnUse" x1="0" y1="353.2" x2="0" y2="391.1"><stop offset="0" stop-color="rgb(166, 213, 231)"/><stop offset="0.2" stop-color="rgb(145, 196, 222)"/><stop offset="0.4" stop-color="rgb(122, 178, 212)"/><stop offset="0.6" stop-color="rgb(106, 161, 203)"/><stop offset="0.8" stop-color="rgb(96, 149, 196)"/><stop offset="1" stop-color="rgb(90, 142, 193)"/></linearGradient><linearGradient id="w232" gradientUnits="userSpaceOnUse" x1="0" y1="354.1" x2="0" y2="395.1"><stop offset="0" stop-color="rgb(167, 214, 231)"/><stop offset="0.2" stop-color="rgb(146, 197, 222)"/><stop offset="0.4" stop-color="rgb(125, 180, 213)"/><stop offset="0.6" stop-color="rgb(109, 164, 205)"/><stop offset="0.8" stop-color="rgb(99, 153, 198)"/><stop offset="1" stop-color="rgb(94, 147, 195)"/></linearGradient><linearGradient id="w233" gradientUnits="userSpaceOnUse" x1="0" y1="353.1" x2="0" y2="395.6"><stop offset="0" stop-color="rgb(167, 214, 231)"/><stop offset="0.2" stop-color="rgb(146, 197, 222)"/><stop offset="0.4" stop-color="rgb(125, 180, 213)"/><stop offset="0.6" stop-color="rgb(109, 165, 205)"/><stop offset="0.8" stop-color="rgb(99, 153, 199)"/><stop offset="1" stop-color="rgb(94, 147, 196)"/></linearGradient><linearGradient id="w234" gradientUnits="userSpaceOnUse" x1="0" y1="354.3" x2="0" y2="395.2"><stop offset="0" stop-color="rgb(166, 213, 231)"/><stop offset="0.2" stop-color="rgb(145, 196, 222)"/><stop offset="0.4" stop-color="rgb(123, 178, 212)"/><stop offset="0.6" stop-color="rgb(107, 163, 204)"/><stop offset="0.8" stop-color="rgb(98, 151, 198)"/><stop offset="1" stop-color="rgb(93, 145, 195)"/></linearGradient><linearGradient id="w235" gradientUnits="userSpaceOnUse" x1="0" y1="355.3" x2="0" y2="394.2"><stop offset="0" stop-color="rgb(166, 213, 231)"/><stop offset="0.2" stop-color="rgb(144, 195, 221)"/><stop offset="0.4" stop-color="rgb(122, 178, 212)"/><stop offset="0.6" stop-color="rgb(107, 162, 203)"/><stop offset="0.8" stop-color="rgb(97, 150, 197)"/><stop offset="1" stop-color="rgb(92, 144, 194)"/></linearGradient><linearGradient id="w236" gradientUnits="userSpaceOnUse" x1="0" y1="355.9" x2="0" y2="392.1"><stop offset="0" stop-color="rgb(166, 213, 231)"/><stop offset="0.2" stop-color="rgb(144, 195, 221)"/><stop offset="0.4" stop-color="rgb(121, 177, 211)"/><stop offset="0.6" stop-color="rgb(106, 162, 203)"/><stop offset="0.8" stop-color="rgb(97, 150, 197)"/><stop offset="1" stop-color="rgb(92, 145, 194)"/></linearGradient><linearGradient id="w237" gradientUnits="userSpaceOnUse" x1="0" y1="356.0" x2="0" y2="392.9"><stop offset="0" stop-color="rgb(163, 211, 230)"/><stop offset="0.2" stop-color="rgb(142, 193, 220)"/><stop offset="0.4" stop-color="rgb(120, 176, 211)"/><stop offset="0.6" stop-color="rgb(106, 161, 203)"/><stop offset="0.8" stop-color="rgb(97, 150, 197)"/><stop offset="1" stop-color="rgb(92, 144, 194)"/></linearGradient><linearGradient id="w238" gradientUnits="userSpaceOnUse" x1="0" y1="359.9" x2="0" y2="392.6"><stop offset="0" stop-color="rgb(157, 206, 227)"/><stop offset="0.2" stop-color="rgb(136, 189, 218)"/><stop offset="0.4" stop-color="rgb(116, 173, 209)"/><stop offset="0.6" stop-color="rgb(102, 157, 201)"/><stop offset="0.8" stop-color="rgb(93, 146, 195)"/><stop offset="1" stop-color="rgb(88, 140, 192)"/></linearGradient><linearGradient id="w239" gradientUnits="userSpaceOnUse" x1="0" y1="364.7" x2="0" y2="391.1"><stop offset="0" stop-color="rgb(154, 203, 225)"/><stop offset="0.2" stop-color="rgb(134, 188, 217)"/><stop offset="0.4" stop-color="rgb(115, 172, 209)"/><stop offset="0.6" stop-color="rgb(103, 158, 201)"/><stop offset="0.8" stop-color="rgb(95, 148, 196)"/><stop offset="1" stop-color="rgb(90, 142, 193)"/></linearGradient><linearGradient id="w240" gradientUnits="userSpaceOnUse" x1="0" y1="368.2" x2="0" y2="394.6"><stop offset="0" stop-color="rgb(151, 201, 224)"/><stop offset="0.2" stop-color="rgb(134, 187, 217)"/><stop offset="0.4" stop-color="rgb(116, 173, 209)"/><stop offset="0.6" stop-color="rgb(106, 161, 203)"/><stop offset="0.8" stop-color="rgb(99, 152, 198)"/><stop offset="1" stop-color="rgb(94, 147, 195)"/></linearGradient><linearGradient id="w241" gradientUnits="userSpaceOnUse" x1="0" y1="371.7" x2="0" y2="392.5"><stop offset="0" stop-color="rgb(146, 197, 222)"/><stop offset="0.2" stop-color="rgb(130, 184, 215)"/><stop offset="0.4" stop-color="rgb(113, 170, 207)"/><stop offset="0.6" stop-color="rgb(104, 159, 202)"/><stop offset="0.8" stop-color="rgb(97, 150, 197)"/><stop offset="1" stop-color="rgb(92, 144, 194)"/></linearGradient><linearGradient id="w242" gradientUnits="userSpaceOnUse" x1="0" y1="374.3" x2="0" y2="391.1"><stop offset="0" stop-color="rgb(144, 195, 221)"/><stop offset="0.2" stop-color="rgb(130, 184, 215)"/><stop offset="0.4" stop-color="rgb(115, 172, 209)"/><stop offset="0.6" stop-color="rgb(108, 163, 204)"/><stop offset="0.8" stop-color="rgb(102, 156, 200)"/><stop offset="1" stop-color="rgb(98, 151, 198)"/></linearGradient><linearGradient id="w243" gradientUnits="userSpaceOnUse" x1="0" y1="375.5" x2="0" y2="392.4"><stop offset="0" stop-color="rgb(141, 193, 220)"/><stop offset="0.2" stop-color="rgb(128, 183, 214)"/><stop offset="0.4" stop-color="rgb(116, 173, 209)"/><stop offset="0.6" stop-color="rgb(110, 165, 205)"/><stop offset="0.8" stop-color="rgb(105, 160, 202)"/><stop offset="1" stop-color="rgb(101, 155, 200)"/></linearGradient><linearGradient id="w244" gradientUnits="userSpaceOnUse" x1="0" y1="376.0" x2="0" y2="393.9"><stop offset="0" stop-color="rgb(134, 187, 217)"/><stop offset="0.2" stop-color="rgb(121, 177, 211)"/><stop offset="0.4" stop-color="rgb(110, 166, 205)"/><stop offset="0.6" stop-color="rgb(104, 158, 201)"/><stop offset="0.8" stop-color="rgb(98, 152, 198)"/><stop offset="1" stop-color="rgb(94, 147, 195)"/></linearGradient><linearGradient id="w245" gradientUnits="userSpaceOnUse" x1="0" y1="377.5" x2="0" y2="396.8"><stop offset="0" stop-color="rgb(131, 185, 215)"/><stop offset="0.2" stop-color="rgb(120, 176, 211)"/><stop offset="0.4" stop-color="rgb(110, 165, 205)"/><stop offset="0.6" stop-color="rgb(105, 160, 202)"/><stop offset="0.8" stop-color="rgb(100, 154, 199)"/><stop offset="1" stop-color="rgb(96, 149, 197)"/></linearGradient><linearGradient id="w246" gradientUnits="userSpaceOnUse" x1="0" y1="377.1" x2="0" y2="397.1"><stop offset="0" stop-color="rgb(129, 183, 215)"/><stop offset="0.2" stop-color="rgb(119, 175, 210)"/><stop offset="0.4" stop-color="rgb(110, 166, 205)"/><stop offset="0.6" stop-color="rgb(106, 161, 203)"/><stop offset="0.8" stop-color="rgb(102, 156, 200)"/><stop offset="1" stop-color="rgb(98, 152, 198)"/></linearGradient><linearGradient id="w247" gradientUnits="userSpaceOnUse" x1="0" y1="376.6" x2="0" y2="396.0"><stop offset="0" stop-color="rgb(126, 181, 213)"/><stop offset="0.2" stop-color="rgb(115, 172, 208)"/><stop offset="0.4" stop-color="rgb(106, 161, 203)"/><stop offset="0.6" stop-color="rgb(102, 156, 200)"/><stop offset="0.8" stop-color="rgb(97, 151, 197)"/><stop offset="1" stop-color="rgb(93, 145, 195)"/></linearGradient><linearGradient id="w248" gradientUnits="userSpaceOnUse" x1="0" y1="376.4" x2="0" y2="395.1"><stop offset="0" stop-color="rgb(123, 179, 212)"/><stop offset="0.2" stop-color="rgb(112, 168, 207)"/><stop offset="0.4" stop-color="rgb(103, 157, 201)"/><stop offset="0.6" stop-color="rgb(97, 151, 198)"/><stop offset="0.8" stop-color="rgb(92, 145, 194)"/><stop offset="1" stop-color="rgb(87, 139, 191)"/></linearGradient><linearGradient id="w249" gradientUnits="userSpaceOnUse" x1="0" y1="376.0" x2="0" y2="393.3"><stop offset="0" stop-color="rgb(124, 179, 213)"/><stop offset="0.2" stop-color="rgb(113, 170, 207)"/><stop offset="0.4" stop-color="rgb(105, 160, 202)"/><stop offset="0.6" stop-color="rgb(100, 154, 199)"/><stop offset="0.8" stop-color="rgb(96, 149, 197)"/><stop offset="1" stop-color="rgb(91, 144, 194)"/></linearGradient><linearGradient id="w250" gradientUnits="userSpaceOnUse" x1="0" y1="377.6" x2="0" y2="391.9"><stop offset="0" stop-color="rgb(122, 178, 212)"/><stop offset="0.2" stop-color="rgb(111, 167, 206)"/><stop offset="0.4" stop-color="rgb(102, 157, 200)"/><stop offset="0.6" stop-color="rgb(97, 150, 197)"/><stop offset="0.8" stop-color="rgb(92, 145, 194)"/><stop offset="1" stop-color="rgb(88, 139, 191)"/></linearGradient><linearGradient id="w251" gradientUnits="userSpaceOnUse" x1="0" y1="377.4" x2="0" y2="392.4"><stop offset="0" stop-color="rgb(123, 179, 212)"/><stop offset="0.2" stop-color="rgb(113, 170, 207)"/><stop offset="0.4" stop-color="rgb(106, 161, 203)"/><stop offset="0.6" stop-color="rgb(101, 155, 200)"/><stop offset="0.8" stop-color="rgb(97, 151, 198)"/><stop offset="1" stop-color="rgb(94, 146, 195)"/></linearGradient><linearGradient id="w252" gradientUnits="userSpaceOnUse" x1="0" y1="377.3" x2="0" y2="392.4"><stop offset="0" stop-color="rgb(121, 177, 211)"/><stop offset="0.2" stop-color="rgb(110, 166, 205)"/><stop offset="0.4" stop-color="rgb(102, 157, 201)"/><stop offset="0.6" stop-color="rgb(97, 151, 197)"/><stop offset="0.8" stop-color="rgb(93, 146, 195)"/><stop offset="1" stop-color="rgb(89, 141, 192)"/></linearGradient><linearGradient id="w253" gradientUnits="userSpaceOnUse" x1="0" y1="378.3" x2="0" y2="392.6"><stop offset="0" stop-color="rgb(122, 178, 212)"/><stop offset="0.2" stop-color="rgb(112, 168, 206)"/><stop offset="0.4" stop-color="rgb(105, 160, 202)"/><stop offset="0.6" stop-color="rgb(100, 154, 199)"/><stop offset="0.8" stop-color="rgb(97, 150, 197)"/><stop offset="1" stop-color="rgb(94, 146, 195)"/></linearGradient><linearGradient id="w254" gradientUnits="userSpaceOnUse" x1="0" y1="376.9" x2="0" y2="393.9"><stop offset="0" stop-color="rgb(120, 177, 211)"/><stop offset="0.2" stop-color="rgb(110, 166, 205)"/><stop offset="0.4" stop-color="rgb(103, 158, 201)"/><stop offset="0.6" stop-color="rgb(99, 152, 198)"/><stop offset="0.8" stop-color="rgb(95, 148, 196)"/><stop offset="1" stop-color="rgb(92, 144, 194)"/></linearGradient><linearGradient id="w255" gradientUnits="userSpaceOnUse" x1="0" y1="377.4" x2="0" y2="393.1"><stop offset="0" stop-color="rgb(121, 177, 211)"/><stop offset="0.2" stop-color="rgb(111, 167, 206)"/><stop offset="0.4" stop-color="rgb(105, 160, 202)"/><stop offset="0.6" stop-color="rgb(101, 155, 199)"/><stop offset="0.8" stop-color="rgb(98, 151, 198)"/><stop offset="1" stop-color="rgb(95, 148, 196)"/></linearGradient><linearGradient id="w256" gradientUnits="userSpaceOnUse" x1="0" y1="376.1" x2="0" y2="393.7"><stop offset="0" stop-color="rgb(120, 177, 211)"/><stop offset="0.2" stop-color="rgb(111, 167, 206)"/><stop offset="0.4" stop-color="rgb(105, 160, 202)"/><stop offset="0.6" stop-color="rgb(101, 155, 200)"/><stop offset="0.8" stop-color="rgb(98, 152, 198)"/><stop offset="1" stop-color="rgb(95, 148, 196)"/></linearGradient><linearGradient id="w257" gradientUnits="userSpaceOnUse" x1="0" y1="378.5" x2="0" y2="393.3"><stop offset="0" stop-color="rgb(118, 175, 210)"/><stop offset="0.2" stop-color="rgb(109, 164, 204)"/><stop offset="0.4" stop-color="rgb(103, 157, 201)"/><stop offset="0.6" stop-color="rgb(98, 152, 198)"/><stop offset="0.8" stop-color="rgb(95, 148, 196)"/><stop offset="1" stop-color="rgb(92, 145, 194)"/></linearGradient><linearGradient id="w258" gradientUnits="userSpaceOnUse" x1="0" y1="377.4" x2="0" y2="391.1"><stop offset="0" stop-color="rgb(118, 175, 210)"/><stop offset="0.2" stop-color="rgb(109, 164, 204)"/><stop offset="0.4" stop-color="rgb(103, 158, 201)"/><stop offset="0.6" stop-color="rgb(99, 152, 198)"/><stop offset="0.8" stop-color="rgb(96, 149, 197)"/><stop offset="1" stop-color="rgb(94, 146, 195)"/></linearGradient><linearGradient id="w259" gradientUnits="userSpaceOnUse" x1="0" y1="378.4" x2="0" y2="391.0"><stop offset="0" stop-color="rgb(116, 173, 209)"/><stop offset="0.2" stop-color="rgb(106, 161, 203)"/><stop offset="0.4" stop-color="rgb(100, 154, 199)"/><stop offset="0.6" stop-color="rgb(95, 148, 196)"/><stop offset="0.8" stop-color="rgb(92, 144, 194)"/><stop offset="1" stop-color="rgb(89, 141, 192)"/></linearGradient><linearGradient id="w260" gradientUnits="userSpaceOnUse" x1="0" y1="378.6" x2="0" y2="392.4"><stop offset="0" stop-color="rgb(115, 172, 208)"/><stop offset="0.2" stop-color="rgb(105, 160, 202)"/><stop offset="0.4" stop-color="rgb(100, 154, 199)"/><stop offset="0.6" stop-color="rgb(95, 148, 196)"/><stop offset="0.8" stop-color="rgb(92, 144, 194)"/><stop offset="1" stop-color="rgb(89, 141, 192)"/></linearGradient><linearGradient id="w261" gradientUnits="userSpaceOnUse" x1="0" y1="378.5" x2="0" y2="391.5"><stop offset="0" stop-color="rgb(116, 172, 209)"/><stop offset="0.2" stop-color="rgb(106, 161, 203)"/><stop offset="0.4" stop-color="rgb(101, 155, 200)"/><stop offset="0.6" stop-color="rgb(96, 149, 197)"/><stop offset="0.8" stop-color="rgb(94, 146, 195)"/><stop offset="1" stop-color="rgb(91, 143, 194)"/></linearGradient></defs>
<g shape-rendering="crispEdges"><rect x="589.0" y="434.1" width="1.3" height="1.5" fill="url(#w0)"/><rect x="590.0" y="432.9" width="1.3" height="3.8" fill="url(#w1)"/><rect x="591.0" y="431.2" width="1.3" height="6.9" fill="url(#w2)"/><rect x="592.0" y="428.8" width="1.3" height="9.0" fill="url(#w3)"/><rect x="593.0" y="428.0" width="1.3" height="10.5" fill="url(#w4)"/><rect x="594.0" y="427.8" width="1.3" height="11.0" fill="url(#w5)"/><rect x="595.0" y="425.9" width="1.3" height="15.3" fill="url(#w6)"/><rect x="596.0" y="425.2" width="1.3" height="16.4" fill="url(#w7)"/><rect x="597.0" y="422.8" width="1.3" height="18.9" fill="url(#w8)"/><rect x="598.0" y="421.7" width="1.3" height="21.5" fill="url(#w9)"/><rect x="599.0" y="421.9" width="1.3" height="21.9" fill="url(#w10)"/><rect x="600.0" y="420.8" width="1.3" height="23.7" fill="url(#w11)"/><rect x="601.0" y="420.8" width="1.3" height="21.5" fill="url(#w12)"/><rect x="602.0" y="418.1" width="1.3" height="26.3" fill="url(#w13)"/><rect x="603.0" y="417.4" width="1.3" height="27.3" fill="url(#w14)"/><rect x="604.0" y="416.5" width="1.3" height="27.2" fill="url(#w15)"/><rect x="605.0" y="416.4" width="1.3" height="26.0" fill="url(#w16)"/><rect x="606.0" y="411.5" width="1.3" height="30.4" fill="url(#w17)"/><rect x="607.0" y="403.9" width="1.3" height="36.6" fill="url(#w18)"/><rect x="608.0" y="396.7" width="1.3" height="41.7" fill="url(#w19)"/><rect x="609.0" y="389.7" width="1.3" height="46.7" fill="url(#w20)"/><rect x="610.0" y="383.0" width="1.3" height="51.4" fill="url(#w21)"/><rect x="611.0" y="380.1" width="1.3" height="55.1" fill="url(#w22)"/><rect x="612.0" y="375.8" width="1.3" height="58.3" fill="url(#w23)"/><rect x="613.0" y="371.3" width="1.3" height="61.1" fill="url(#w24)"/><rect x="614.0" y="369.5" width="1.3" height="62.7" fill="url(#w25)"/><rect x="615.0" y="368.7" width="1.3" height="62.6" fill="url(#w26)"/><rect x="616.0" y="368.5" width="1.3" height="62.3" fill="url(#w27)"/><rect x="617.0" y="366.3" width="1.3" height="65.2" fill="url(#w28)"/><rect x="618.0" y="366.8" width="1.3" height="64.7" fill="url(#w29)"/><rect x="619.0" y="366.1" width="1.3" height="65.7" fill="url(#w30)"/><rect x="620.0" y="364.6" width="1.3" height="67.4" fill="url(#w31)"/><rect x="621.0" y="363.7" width="1.3" height="67.2" fill="url(#w32)"/><rect x="622.0" y="362.4" width="1.3" height="68.4" fill="url(#w33)"/><rect x="623.0" y="361.4" width="1.3" height="71.5" fill="url(#w34)"/><rect x="624.0" y="361.5" width="1.3" height="70.4" fill="url(#w35)"/><rect x="625.0" y="360.7" width="1.3" height="73.1" fill="url(#w36)"/><rect x="626.0" y="361.8" width="1.3" height="72.6" fill="url(#w37)"/><rect x="627.0" y="359.7" width="1.3" height="74.9" fill="url(#w38)"/><rect x="628.0" y="360.1" width="1.3" height="73.5" fill="url(#w39)"/><rect x="629.0" y="360.1" width="1.3" height="73.4" fill="url(#w40)"/><rect x="630.0" y="358.5" width="1.3" height="76.0" fill="url(#w41)"/><rect x="631.0" y="358.9" width="1.3" height="76.3" fill="url(#w42)"/><rect x="632.0" y="358.0" width="1.3" height="77.1" fill="url(#w43)"/><rect x="633.0" y="356.6" width="1.3" height="78.5" fill="url(#w44)"/><rect x="634.0" y="357.4" width="1.3" height="78.7" fill="url(#w45)"/><rect x="635.0" y="355.6" width="1.3" height="78.5" fill="url(#w46)"/><rect x="636.0" y="355.5" width="1.3" height="79.4" fill="url(#w47)"/><rect x="637.0" y="355.2" width="1.3" height="82.5" fill="url(#w48)"/><rect x="638.0" y="355.1" width="1.3" height="82.0" fill="url(#w49)"/><rect x="639.0" y="354.8" width="1.3" height="80.3" fill="url(#w50)"/><rect x="640.0" y="353.3" width="1.3" height="80.4" fill="url(#w51)"/><rect x="641.0" y="351.8" width="1.3" height="79.9" fill="url(#w52)"/><rect x="642.0" y="352.4" width="1.3" height="77.7" fill="url(#w53)"/><rect x="643.0" y="352.1" width="1.3" height="77.4" fill="url(#w54)"/><rect x="644.0" y="350.0" width="1.3" height="81.1" fill="url(#w55)"/><rect x="645.0" y="351.1" width="1.3" height="79.3" fill="url(#w56)"/><rect x="646.0" y="349.5" width="1.3" height="80.1" fill="url(#w57)"/><rect x="647.0" y="349.5" width="1.3" height="79.6" fill="url(#w58)"/><rect x="648.0" y="350.0" width="1.3" height="79.0" fill="url(#w59)"/><rect x="649.0" y="350.0" width="1.3" height="79.2" fill="url(#w60)"/><rect x="650.0" y="348.8" width="1.3" height="83.1" fill="url(#w61)"/><rect x="651.0" y="346.6" width="1.3" height="86.3" fill="url(#w62)"/><rect x="652.0" y="347.1" width="1.3" height="85.7" fill="url(#w63)"/><rect x="653.0" y="346.7" width="1.3" height="86.9" fill="url(#w64)"/><rect x="654.0" y="345.4" width="1.3" height="87.1" fill="url(#w65)"/><rect x="655.0" y="345.4" width="1.3" height="88.0" fill="url(#w66)"/><rect x="656.0" y="345.3" width="1.3" height="87.9" fill="url(#w67)"/><rect x="657.0" y="344.6" width="1.3" height="88.7" fill="url(#w68)"/><rect x="658.0" y="344.7" width="1.3" height="90.4" fill="url(#w69)"/><rect x="659.0" y="344.1" width="1.3" height="92.7" fill="url(#w70)"/><rect x="660.0" y="342.5" width="1.3" height="95.7" fill="url(#w71)"/><rect x="661.0" y="342.9" width="1.3" height="96.2" fill="url(#w72)"/><rect x="662.0" y="343.0" width="1.3" height="96.4" fill="url(#w73)"/><rect x="663.0" y="343.5" width="1.3" height="94.9" fill="url(#w74)"/><rect x="664.0" y="342.3" width="1.3" height="98.1" fill="url(#w75)"/><rect x="665.0" y="341.3" width="1.3" height="99.2" fill="url(#w76)"/><rect x="666.0" y="340.3" width="1.3" height="103.5" fill="url(#w77)"/><rect x="667.0" y="338.8" width="1.3" height="104.0" fill="url(#w78)"/><rect x="668.0" y="337.9" width="1.3" height="106.5" fill="url(#w79)"/><rect x="669.0" y="337.4" width="1.3" height="108.6" fill="url(#w80)"/><rect x="670.0" y="337.0" width="1.3" height="107.6" fill="url(#w81)"/><rect x="671.0" y="336.9" width="1.3" height="105.6" fill="url(#w82)"/><rect x="672.0" y="337.7" width="1.3" height="105.6" fill="url(#w83)"/><rect x="673.0" y="336.3" width="1.3" height="107.9" fill="url(#w84)"/><rect x="674.0" y="335.5" width="1.3" height="112.3" fill="url(#w85)"/><rect x="675.0" y="335.5" width="1.3" height="112.1" fill="url(#w86)"/><rect x="676.0" y="334.8" width="1.3" height="114.1" fill="url(#w87)"/><rect x="677.0" y="334.3" width="1.3" height="114.5" fill="url(#w88)"/><rect x="678.0" y="334.2" width="1.3" height="117.5" fill="url(#w89)"/><rect x="679.0" y="333.6" width="1.3" height="121.1" fill="url(#w90)"/><rect x="680.0" y="334.6" width="1.3" height="122.1" fill="url(#w91)"/><rect x="681.0" y="335.4" width="1.3" height="120.7" fill="url(#w92)"/><rect x="682.0" y="334.4" width="1.3" height="123.6" fill="url(#w93)"/><rect x="683.0" y="334.2" width="1.3" height="126.1" fill="url(#w94)"/><rect x="684.0" y="334.0" width="1.3" height="127.1" fill="url(#w95)"/><rect x="685.0" y="332.0" width="1.3" height="131.2" fill="url(#w96)"/><rect x="686.0" y="331.1" width="1.3" height="130.8" fill="url(#w97)"/><rect x="687.0" y="331.7" width="1.3" height="130.1" fill="url(#w98)"/><rect x="688.0" y="331.3" width="1.3" height="129.0" fill="url(#w99)"/><rect x="689.0" y="332.2" width="1.3" height="129.3" fill="url(#w100)"/><rect x="690.0" y="332.4" width="1.3" height="127.5" fill="url(#w101)"/><rect x="691.0" y="330.8" width="1.3" height="128.4" fill="url(#w102)"/><rect x="692.0" y="330.1" width="1.3" height="126.7" fill="url(#w103)"/><rect x="693.0" y="329.3" width="1.3" height="127.5" fill="url(#w104)"/><rect x="694.0" y="329.2" width="1.3" height="127.3" fill="url(#w105)"/><rect x="695.0" y="329.3" width="1.3" height="128.1" fill="url(#w106)"/><rect x="696.0" y="329.8" width="1.3" height="125.6" fill="url(#w107)"/><rect x="697.0" y="327.3" width="1.3" height="129.1" fill="url(#w108)"/><rect x="698.0" y="327.5" width="1.3" height="129.9" fill="url(#w109)"/><rect x="699.0" y="326.6" width="1.3" height="131.6" fill="url(#w110)"/><rect x="700.0" y="326.1" width="1.3" height="133.0" fill="url(#w111)"/><rect x="701.0" y="324.6" width="1.3" height="132.2" fill="url(#w112)"/><rect x="702.0" y="323.2" width="1.3" height="134.6" fill="url(#w113)"/><rect x="703.0" y="323.6" width="1.3" height="134.6" fill="url(#w114)"/><rect x="704.0" y="323.9" width="1.3" height="134.7" fill="url(#w115)"/><rect x="705.0" y="323.4" width="1.3" height="133.3" fill="url(#w116)"/><rect x="706.0" y="321.3" width="1.3" height="134.5" fill="url(#w117)"/><rect x="707.0" y="321.9" width="1.3" height="136.0" fill="url(#w118)"/><rect x="708.0" y="321.3" width="1.3" height="137.4" fill="url(#w119)"/><rect x="709.0" y="321.2" width="1.3" height="136.2" fill="url(#w120)"/><rect x="710.0" y="321.2" width="1.3" height="136.0" fill="url(#w121)"/><rect x="711.0" y="319.3" width="1.3" height="137.9" fill="url(#w122)"/><rect x="712.0" y="319.7" width="1.3" height="137.5" fill="url(#w123)"/><rect x="713.0" y="319.2" width="1.3" height="137.7" fill="url(#w124)"/><rect x="714.0" y="320.0" width="1.3" height="141.5" fill="url(#w125)"/><rect x="715.0" y="320.2" width="1.3" height="141.3" fill="url(#w126)"/><rect x="716.0" y="320.1" width="1.3" height="140.7" fill="url(#w127)"/><rect x="717.0" y="318.7" width="1.3" height="142.9" fill="url(#w128)"/><rect x="718.0" y="317.8" width="1.3" height="144.2" fill="url(#w129)"/><rect x="719.0" y="318.1" width="1.3" height="143.6" fill="url(#w130)"/><rect x="720.0" y="316.9" width="1.3" height="142.8" fill="url(#w131)"/><rect x="721.0" y="315.8" width="1.3" height="147.0" fill="url(#w132)"/><rect x="722.0" y="314.8" width="1.3" height="147.7" fill="url(#w133)"/><rect x="723.0" y="314.9" width="1.3" height="145.2" fill="url(#w134)"/><rect x="724.0" y="315.9" width="1.3" height="141.9" fill="url(#w135)"/><rect x="725.0" y="315.0" width="1.3" height="139.9" fill="url(#w136)"/><rect x="726.0" y="316.9" width="1.3" height="136.0" fill="url(#w137)"/><rect x="727.0" y="316.1" width="1.3" height="135.6" fill="url(#w138)"/><rect x="728.0" y="317.3" width="1.3" height="134.0" fill="url(#w139)"/><rect x="729.0" y="317.3" width="1.3" height="136.7" fill="url(#w140)"/><rect x="730.0" y="317.9" width="1.3" height="133.6" fill="url(#w141)"/><rect x="731.0" y="318.8" width="1.3" height="127.4" fill="url(#w142)"/><rect x="732.0" y="317.6" width="1.3" height="121.7" fill="url(#w143)"/><rect x="733.0" y="318.1" width="1.3" height="112.4" fill="url(#w144)"/><rect x="734.0" y="317.1" width="1.3" height="105.4" fill="url(#w145)"/><rect x="735.0" y="317.5" width="1.3" height="98.8" fill="url(#w146)"/><rect x="736.0" y="317.7" width="1.3" height="92.4" fill="url(#w147)"/><rect x="737.0" y="317.6" width="1.3" height="86.2" fill="url(#w148)"/><rect x="738.0" y="318.2" width="1.3" height="86.6" fill="url(#w149)"/><rect x="739.0" y="318.2" width="1.3" height="86.0" fill="url(#w150)"/><rect x="740.0" y="317.2" width="1.3" height="85.3" fill="url(#w151)"/><rect x="741.0" y="317.9" width="1.3" height="84.4" fill="url(#w152)"/><rect x="742.0" y="317.7" width="1.3" height="82.9" fill="url(#w153)"/><rect x="743.0" y="319.4" width="1.3" height="81.7" fill="url(#w154)"/><rect x="744.0" y="317.8" width="1.3" height="83.0" fill="url(#w155)"/><rect x="745.0" y="318.5" width="1.3" height="80.1" fill="url(#w156)"/><rect x="746.0" y="319.5" width="1.3" height="80.4" fill="url(#w157)"/><rect x="747.0" y="318.2" width="1.3" height="80.2" fill="url(#w158)"/><rect x="748.0" y="319.7" width="1.3" height="79.4" fill="url(#w159)"/><rect x="749.0" y="319.2" width="1.3" height="82.7" fill="url(#w160)"/><rect x="750.0" y="320.2" width="1.3" height="81.3" fill="url(#w161)"/><rect x="751.0" y="319.0" width="1.3" height="82.1" fill="url(#w162)"/><rect x="752.0" y="317.9" width="1.3" height="82.4" fill="url(#w163)"/><rect x="753.0" y="317.8" width="1.3" height="83.9" fill="url(#w164)"/><rect x="754.0" y="319.7" width="1.3" height="81.1" fill="url(#w165)"/><rect x="755.0" y="318.8" width="1.3" height="79.6" fill="url(#w166)"/><rect x="756.0" y="318.5" width="1.3" height="77.0" fill="url(#w167)"/><rect x="757.0" y="318.7" width="1.3" height="75.3" fill="url(#w168)"/><rect x="758.0" y="318.3" width="1.3" height="73.5" fill="url(#w169)"/><rect x="759.0" y="319.6" width="1.3" height="70.9" fill="url(#w170)"/><rect x="760.0" y="320.0" width="1.3" height="69.4" fill="url(#w171)"/><rect x="761.0" y="321.2" width="1.3" height="67.3" fill="url(#w172)"/><rect x="762.0" y="320.6" width="1.3" height="69.4" fill="url(#w173)"/><rect x="763.0" y="320.2" width="1.3" height="68.8" fill="url(#w174)"/><rect x="764.0" y="320.1" width="1.3" height="67.9" fill="url(#w175)"/><rect x="765.0" y="320.1" width="1.3" height="67.5" fill="url(#w176)"/><rect x="766.0" y="322.3" width="1.3" height="65.3" fill="url(#w177)"/><rect x="767.0" y="322.1" width="1.3" height="63.4" fill="url(#w178)"/><rect x="768.0" y="321.4" width="1.3" height="63.8" fill="url(#w179)"/><rect x="769.0" y="322.0" width="1.3" height="62.8" fill="url(#w180)"/><rect x="770.0" y="324.1" width="1.3" height="58.5" fill="url(#w181)"/><rect x="771.0" y="323.7" width="1.3" height="59.7" fill="url(#w182)"/><rect x="772.0" y="322.9" width="1.3" height="59.8" fill="url(#w183)"/><rect x="773.0" y="323.1" width="1.3" height="58.6" fill="url(#w184)"/><rect x="774.0" y="323.9" width="1.3" height="58.4" fill="url(#w185)"/><rect x="775.0" y="323.8" width="1.3" height="56.4" fill="url(#w186)"/><rect x="776.0" y="326.1" width="1.3" height="55.1" fill="url(#w187)"/><rect x="777.0" y="328.3" width="1.3" height="52.7" fill="url(#w188)"/><rect x="778.0" y="328.2" width="1.3" height="54.2" fill="url(#w189)"/><rect x="779.0" y="329.4" width="1.3" height="55.0" fill="url(#w190)"/><rect x="780.0" y="331.3" width="1.3" height="53.2" fill="url(#w191)"/><rect x="781.0" y="331.3" width="1.3" height="51.7" fill="url(#w192)"/><rect x="782.0" y="332.7" width="1.3" height="49.9" fill="url(#w193)"/><rect x="783.0" y="333.4" width="1.3" height="47.5" fill="url(#w194)"/><rect x="784.0" y="334.9" width="1.3" height="43.7" fill="url(#w195)"/><rect x="785.0" y="335.9" width="1.3" height="43.3" fill="url(#w196)"/><rect x="786.0" y="339.4" width="1.3" height="40.5" fill="url(#w197)"/><rect x="787.0" y="340.0" width="1.3" height="37.8" fill="url(#w198)"/><rect x="788.0" y="342.3" width="1.3" height="34.3" fill="url(#w199)"/><rect x="789.0" y="345.1" width="1.3" height="32.1" fill="url(#w200)"/><rect x="790.0" y="345.2" width="1.3" height="34.0" fill="url(#w201)"/><rect x="791.0" y="345.4" width="1.3" height="36.1" fill="url(#w202)"/><rect x="792.0" y="345.2" width="1.3" height="36.6" fill="url(#w203)"/><rect x="793.0" y="345.4" width="1.3" height="37.9" fill="url(#w204)"/><rect x="794.0" y="345.3" width="1.3" height="40.3" fill="url(#w205)"/><rect x="795.0" y="345.0" width="1.3" height="41.4" fill="url(#w206)"/><rect x="796.0" y="347.0" width="1.3" height="38.8" fill="url(#w207)"/><rect x="797.0" y="346.1" width="1.3" height="42.6" fill="url(#w208)"/><rect x="798.0" y="346.2" width="1.3" height="44.6" fill="url(#w209)"/><rect x="799.0" y="347.4" width="1.3" height="45.7" fill="url(#w210)"/><rect x="800.0" y="347.6" width="1.3" height="45.0" fill="url(#w211)"/><rect x="801.0" y="346.7" width="1.3" height="45.8" fill="url(#w212)"/><rect x="802.0" y="346.3" width="1.3" height="45.6" fill="url(#w213)"/><rect x="803.0" y="346.1" width="1.3" height="46.0" fill="url(#w214)"/><rect x="804.0" y="347.1" width="1.3" height="43.9" fill="url(#w215)"/><rect x="805.0" y="347.7" width="1.3" height="45.8" fill="url(#w216)"/><rect x="806.0" y="347.7" width="1.3" height="45.0" fill="url(#w217)"/><rect x="807.0" y="347.5" width="1.3" height="45.5" fill="url(#w218)"/><rect x="808.0" y="348.9" width="1.3" height="45.8" fill="url(#w219)"/><rect x="809.0" y="349.4" width="1.3" height="47.3" fill="url(#w220)"/><rect x="810.0" y="349.9" width="1.3" height="45.6" fill="url(#w221)"/><rect x="811.0" y="348.6" width="1.3" height="44.8" fill="url(#w222)"/><rect x="812.0" y="349.9" width="1.3" height="41.9" fill="url(#w223)"/><rect x="813.0" y="349.6" width="1.3" height="41.2" fill="url(#w224)"/><rect x="814.0" y="350.6" width="1.3" height="39.3" fill="url(#w225)"/><rect x="815.0" y="351.3" width="1.3" height="38.2" fill="url(#w226)"/><rect x="816.0" y="351.8" width="1.3" height="41.6" fill="url(#w227)"/><rect x="817.0" y="352.2" width="1.3" height="41.4" fill="url(#w228)"/><rect x="818.0" y="352.6" width="1.3" height="39.8" fill="url(#w229)"/><rect x="819.0" y="353.3" width="1.3" height="38.0" fill="url(#w230)"/><rect x="820.0" y="353.2" width="1.3" height="37.9" fill="url(#w231)"/><rect x="821.0" y="354.1" width="1.3" height="41.0" fill="url(#w232)"/><rect x="822.0" y="353.1" width="1.3" height="42.5" fill="url(#w233)"/><rect x="823.0" y="354.3" width="1.3" height="40.9" fill="url(#w234)"/><rect x="824.0" y="355.3" width="1.3" height="38.9" fill="url(#w235)"/><rect x="825.0" y="355.9" width="1.3" height="36.2" fill="url(#w236)"/><rect x="826.0" y="356.0" width="1.3" height="36.9" fill="url(#w237)"/><rect x="827.0" y="359.9" width="1.3" height="32.7" fill="url(#w238)"/><rect x="828.0" y="364.7" width="1.3" height="26.4" fill="url(#w239)"/><rect x="829.0" y="368.2" width="1.3" height="26.3" fill="url(#w240)"/><rect x="830.0" y="371.7" width="1.3" height="20.8" fill="url(#w241)"/><rect x="831.0" y="374.3" width="1.3" height="16.9" fill="url(#w242)"/><rect x="832.0" y="375.5" width="1.3" height="16.9" fill="url(#w243)"/><rect x="833.0" y="376.0" width="1.3" height="17.9" fill="url(#w244)"/><rect x="834.0" y="377.5" width="1.3" height="19.3" fill="url(#w245)"/><rect x="835.0" y="377.1" width="1.3" height="20.0" fill="url(#w246)"/><rect x="836.0" y="376.6" width="1.3" height="19.4" fill="url(#w247)"/><rect x="837.0" y="376.4" width="1.3" height="18.7" fill="url(#w248)"/><rect x="838.0" y="376.0" width="1.3" height="17.3" fill="url(#w249)"/><rect x="839.0" y="377.6" width="1.3" height="14.2" fill="url(#w250)"/><rect x="840.0" y="377.4" width="1.3" height="14.9" fill="url(#w251)"/><rect x="841.0" y="377.3" width="1.3" height="15.1" fill="url(#w252)"/><rect x="842.0" y="378.3" width="1.3" height="14.3" fill="url(#w253)"/><rect x="843.0" y="376.9" width="1.3" height="17.1" fill="url(#w254)"/><rect x="844.0" y="377.4" width="1.3" height="15.7" fill="url(#w255)"/><rect x="845.0" y="376.1" width="1.3" height="17.5" fill="url(#w256)"/><rect x="846.0" y="378.5" width="1.3" height="14.8" fill="url(#w257)"/><rect x="847.0" y="377.4" width="1.3" height="13.7" fill="url(#w258)"/><rect x="848.0" y="378.4" width="1.3" height="12.6" fill="url(#w259)"/><rect x="849.0" y="378.6" width="1.3" height="13.7" fill="url(#w260)"/><rect x="850.0" y="378.5" width="1.3" height="13.0" fill="url(#w261)"/></g>
<path d="M510.5,465.5L778,512.7L933,431" stroke="#fffbc8" stroke-width="1" fill="none"/>
<path d="M510.5,465.5l7.1,-3.7M599.7,481.2l7.1,-3.7M688.8,497.0l7.1,-3.7M778.0,512.7l7.1,-3.7M778.0,512.7l-7.9,-1.4M800.1,501.0l-7.9,-1.4M822.3,489.4l-7.9,-1.4M844.4,477.7l-7.9,-1.4M866.6,466.0l-7.9,-1.4M888.7,454.3l-7.9,-1.4M910.9,442.7l-7.9,-1.4M933.0,431.0l-7.9,-1.4M510.5,465.5V300.3M510.5,300.3h7.4M510.5,327.8h7.4M510.5,355.4h7.4M510.5,382.9h7.4M510.5,410.4h7.4M510.5,438.0h7.4M510.5,465.5h7.4" stroke="#fffbc8" stroke-width="1" fill="none"/>
<path d="M656.5,315L791.5,243.5V406L656.5,480.6Z" stroke="#ff0000" stroke-width="1.1" fill="none"/>
<text x="497" y="303.8" fill="#fffbc8" font-size="16" text-anchor="end" >0</text>
<text x="497" y="332.13000000000005" fill="#fffbc8" font-size="16" text-anchor="end" >-20</text>
<text x="497" y="359.66" fill="#fffbc8" font-size="16" text-anchor="end" >-40</text>
<text x="497" y="387.19" fill="#fffbc8" font-size="16" text-anchor="end" >-60</text>
<text x="497" y="414.72" fill="#fffbc8" font-size="16" text-anchor="end" >-80</text>
<text x="497" y="442.25000000000006" fill="#fffbc8" font-size="16" text-anchor="end" >-100</text>
<text x="497" y="469.78000000000003" fill="#fffbc8" font-size="16" text-anchor="end" >-120</text>
<text x="504.0" y="474.0" fill="#fffbc8" font-size="16" text-anchor="middle" >05:20:40</text>
<text x="593.1666666666666" y="490.1333333333333" fill="#fffbc8" font-size="16" text-anchor="middle" >05:21:00</text>
<text x="682.3333333333333" y="506.2666666666667" fill="#fffbc8" font-size="16" text-anchor="middle" >05:21:20</text>
<text x="771.5" y="522.4000000000001" fill="#fffbc8" font-size="16" text-anchor="middle" >05:21:40</text>
<text x="816.2" y="520.7" fill="#fffbc8" font-size="16" text-anchor="middle" >1210</text>
<text x="838.1714285714286" y="508.70000000000005" fill="#fffbc8" font-size="16" text-anchor="middle" >1215</text>
<text x="860.1428571428572" y="496.70000000000005" fill="#fffbc8" font-size="16" text-anchor="middle" >1220</text>
<text x="882.1142857142858" y="484.70000000000005" fill="#fffbc8" font-size="16" text-anchor="middle" >1225</text>
<text x="904.0857142857143" y="472.70000000000005" fill="#fffbc8" font-size="16" text-anchor="middle" >1230</text>
<text x="926.0571428571429" y="460.7" fill="#fffbc8" font-size="16" text-anchor="middle" >1235</text>
<text x="948.0285714285715" y="448.7" fill="#fffbc8" font-size="16" text-anchor="middle" >1240</text>
<text x="970.0" y="436.7" fill="#fffbc8" font-size="16" text-anchor="middle" >1245</text>
<text x="721.7" y="190" fill="#fffbc8" font-size="16" text-anchor="middle" >Waterfall Plot</text>
<text transform="translate(438,381) rotate(-90)" fill="#fffbc8" font-size="16" text-anchor="middle">PSD (dBm)</text>
<text transform="translate(598,516) rotate(10)" fill="#fffbc8" font-size="16" text-anchor="middle">Time (UTC)</text>
<text transform="translate(933,489.5) rotate(-27.8)" fill="#fffbc8" font-size="16" text-anchor="middle">Frequency (MHz)</text>
<g shape-rendering="crispEdges"><path d="M96,637.5H983M389.5,634.5V705.5M689.5,634.5V705.5" stroke="#d2d2d2" stroke-width="1" stroke-dasharray="2,2" fill="none"/>
<rect x="88.5" y="626.5" width="902" height="87" stroke="#fffbc8" stroke-width="1" fill="none"/>
<path d="M88.5,637.5h7.6M990.5,637.5h-7.6M389.5,626.5v7.6M689.5,626.5v7.6M389.5,713.5v-7.6M689.5,713.5v-7.6" stroke="#fffbc8" stroke-width="1" fill="none"/>
<line x1="524.5" y1="627" x2="524.5" y2="713" stroke="#ff0000" stroke-width="1"/></g>
<polyline points="359.5,677.5 375,674.5 389.5,673.5 404,670.5 420,669.5 450,666.5 465,666.5 479,668.5 512,666.5 524.5,665.3 539.5,667.5 554.5,666.5 569.5,666.5" stroke="#eeee00" stroke-width="1.15" fill="none"/>
<text x="539" y="605" fill="#fffbc8" font-size="16" text-anchor="middle" >Max Rx Power</text>
<text x="538" y="759" fill="#fffbc8" font-size="16" text-anchor="middle" >Time (UTC)</text>
<text transform="translate(19,669) rotate(-90)" fill="#fffbc8" font-size="16" text-anchor="middle">Power (dBm)</text>
<text x="77.5" y="640.9" fill="#fffbc8" font-size="16" text-anchor="end" >-100</text>
<text x="77.5" y="716.8" fill="#fffbc8" font-size="16" text-anchor="end" >-120</text>
<text x="88.1" y="733.5" fill="#fffbc8" font-size="16" text-anchor="middle" >05:20:40</text>
<text x="389.1" y="733.5" fill="#fffbc8" font-size="16" text-anchor="middle" >05:21:00</text>
<text x="689.1" y="733.5" fill="#fffbc8" font-size="16" text-anchor="middle" >05:21:20</text>
<text x="990.1" y="733.5" fill="#fffbc8" font-size="16" text-anchor="middle" >05:21:40</text>
</svg>
</body></html>
